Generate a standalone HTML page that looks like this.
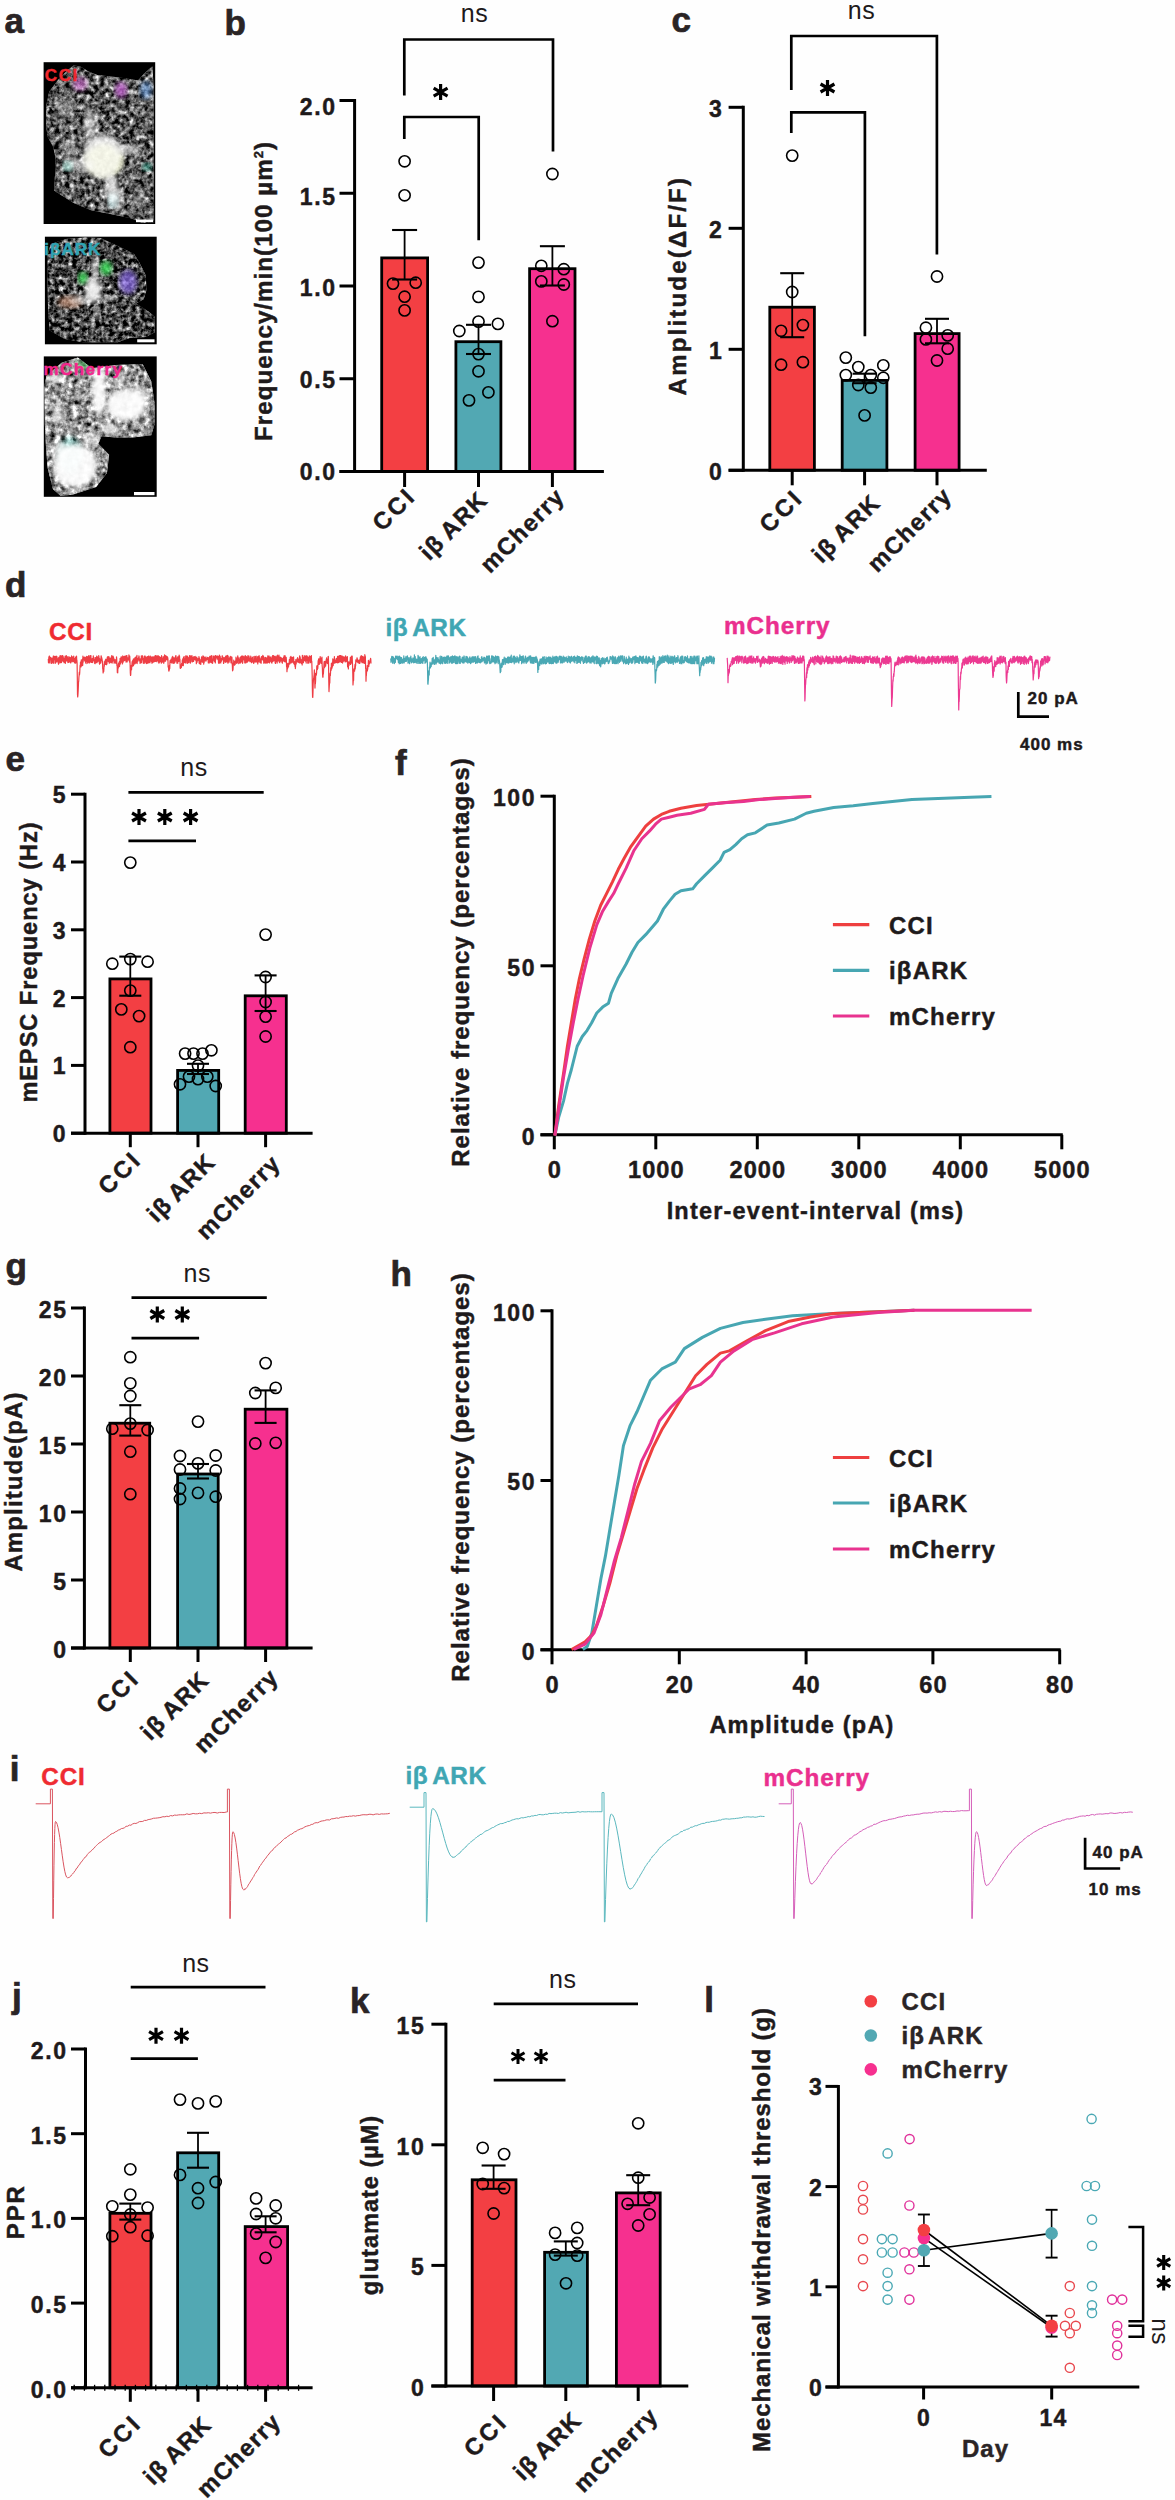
<!DOCTYPE html><html><head><meta charset="utf-8"><style>html,body{margin:0;padding:0;background:#fff;}svg{display:block;font-family:"Liberation Sans", sans-serif;}</style></head><body>
<svg width="1175" height="2500" viewBox="0 0 1175 2500">
<rect width="1175" height="2500" fill="#fefefe"/>
<defs>
<filter id="noise1" x="0" y="0" width="100%" height="100%" filterUnits="objectBoundingBox" color-interpolation-filters="sRGB"><feTurbulence type="fractalNoise" baseFrequency="0.2" numOctaves="3" seed="7" result="t"/><feColorMatrix in="t" type="matrix" values="0.33 0.33 0.33 0 0  0.33 0.33 0.33 0 0  0.33 0.33 0.33 0 0  0 0 0 0 1"/><feComponentTransfer><feFuncR type="linear" slope="3" intercept="-1.12"/><feFuncG type="linear" slope="3" intercept="-1.12"/><feFuncB type="linear" slope="3" intercept="-1.12"/></feComponentTransfer></filter>
<filter id="noise2" x="0" y="0" width="100%" height="100%" filterUnits="objectBoundingBox" color-interpolation-filters="sRGB"><feTurbulence type="fractalNoise" baseFrequency="0.22" numOctaves="3" seed="14" result="t"/><feColorMatrix in="t" type="matrix" values="0.33 0.33 0.33 0 0  0.33 0.33 0.33 0 0  0.33 0.33 0.33 0 0  0 0 0 0 1"/><feComponentTransfer><feFuncR type="linear" slope="3" intercept="-1.2"/><feFuncG type="linear" slope="3" intercept="-1.2"/><feFuncB type="linear" slope="3" intercept="-1.2"/></feComponentTransfer></filter>
<filter id="noise3" x="0" y="0" width="100%" height="100%" filterUnits="objectBoundingBox" color-interpolation-filters="sRGB"><feTurbulence type="fractalNoise" baseFrequency="0.18" numOctaves="3" seed="21" result="t"/><feColorMatrix in="t" type="matrix" values="0.33 0.33 0.33 0 0  0.33 0.33 0.33 0 0  0.33 0.33 0.33 0 0  0 0 0 0 1"/><feComponentTransfer><feFuncR type="linear" slope="2.9" intercept="-0.85"/><feFuncG type="linear" slope="2.9" intercept="-0.85"/><feFuncB type="linear" slope="2.9" intercept="-0.85"/></feComponentTransfer></filter>
<filter id="blur2" color-interpolation-filters="sRGB"><feGaussianBlur stdDeviation="2.5"/></filter>
</defs>
<text x="4.5" y="32.5" text-anchor="start" fill="#2A2425" style="font-size:35px;font-weight:bold" stroke="#2A2425" stroke-width="0.7">a</text>
<rect x="43.6" y="62.2" width="111.6" height="161.8" fill="#000"/>
<clipPath id="clip1"><polygon points="49.19,91.77 58.39,79.51 66.56,71.34 73.71,65.21 80.86,66.75 88.01,71.34 97.2,74.92 111.5,76.45 126.82,78.49 138.06,80.54 144.19,73.39 152.36,66.24 153.59,85.64 153.59,157.15 153.59,223.03 142.15,223.03 131.93,218.43 111.5,214.35 91.07,210.26 73.71,203.11 54.3,190.85 54.81,177.57 55.83,167.36 55.32,157.15 53.28,146.93 47.66,136.72 46.13,126.5 46.13,106.07"/></clipPath>
<g clip-path="url(#clip1)">
<rect x="43.6" y="62.2" width="111.6" height="161.8" fill="#777"/>
<rect x="43.6" y="62.2" width="111.6" height="161.8" filter="url(#noise1)"/>
<ellipse cx="104" cy="160" rx="18" ry="16" fill="#e6f060" opacity="0.6" filter="url(#blur2)"/>
<ellipse cx="80" cy="84" rx="7" ry="7" fill="#e070e0" opacity="0.6" filter="url(#blur2)"/>
<ellipse cx="121" cy="90" rx="6" ry="8" fill="#d060e0" opacity="0.7" filter="url(#blur2)"/>
<ellipse cx="146" cy="90" rx="6" ry="9" fill="#70a8ee" opacity="0.6" filter="url(#blur2)"/>
<ellipse cx="68" cy="166" rx="5" ry="5" fill="#40e0c0" opacity="0.5" filter="url(#blur2)"/>
<ellipse cx="147" cy="167" rx="5" ry="4" fill="#40e0c0" opacity="0.5" filter="url(#blur2)"/>
<ellipse cx="113" cy="200" rx="5" ry="7" fill="#80e8f0" opacity="0.5" filter="url(#blur2)"/>
<ellipse cx="103" cy="157" rx="20" ry="22" fill="#fff" opacity="0.85" filter="url(#blur2)"/>
<ellipse cx="112" cy="190" rx="7" ry="16" fill="#fff" opacity="0.75" filter="url(#blur2)"/>
<ellipse cx="90" cy="125" rx="6" ry="16" fill="#fff" opacity="0.6" filter="url(#blur2)"/>
<ellipse cx="78" cy="165" rx="16" ry="6" fill="#fff" opacity="0.55" filter="url(#blur2)"/>
<ellipse cx="128" cy="150" rx="14" ry="5" fill="#fff" opacity="0.55" filter="url(#blur2)"/>
<ellipse cx="118" cy="200" rx="5" ry="10" fill="#fff" opacity="0.5" filter="url(#blur2)"/>
<ellipse cx="70" cy="150" rx="8" ry="12" fill="#fff" opacity="0.3" filter="url(#blur2)"/>
<ellipse cx="65" cy="110" rx="8" ry="10" fill="#fff" opacity="0.3" filter="url(#blur2)"/>
<ellipse cx="140" cy="200" rx="6" ry="8" fill="#fff" opacity="0.3" filter="url(#blur2)"/>
</g>
<rect x="136" y="219.5" width="17" height="2.7" fill="#fff"/>
<text x="44.8" y="80.8" text-anchor="start" fill="#F0282E" style="font-size:17px;font-weight:bold;letter-spacing:1.6px"  stroke="#F0282E" stroke-width="0.45">CCI</text>
<rect x="44.9" y="236.7" width="111.8" height="107.6" fill="#000"/>
<clipPath id="clip2"><polygon points="47.56,254.84 50.8,244.04 67,238.64 85.37,237.56 100.49,238.1 115.61,245.12 133.97,253.76 139.37,262.4 145.85,275.37 146.39,290.49 143.69,299.13 136.13,303.45 149.09,312.09 154.5,316.41 154.5,332.61 145.85,336.93 129.65,338.01 117.77,342.34 83.21,342.34 64.84,339.09 49.72,330.45 48.1,311.01 47.56,284.01"/></clipPath>
<g clip-path="url(#clip2)">
<rect x="44.9" y="236.7" width="111.8" height="107.6" fill="#6e6e6e"/>
<rect x="44.9" y="236.7" width="111.8" height="107.6" filter="url(#noise2)"/>
<ellipse cx="83" cy="278" rx="5" ry="6" fill="#40f060" opacity="0.8" filter="url(#blur2)"/>
<ellipse cx="106" cy="268" rx="6" ry="7" fill="#40f060" opacity="0.8" filter="url(#blur2)"/>
<ellipse cx="128" cy="282" rx="9" ry="12" fill="#9070f0" opacity="0.7" filter="url(#blur2)"/>
<ellipse cx="70" cy="302" rx="12" ry="6" fill="#e0a080" opacity="0.6" filter="url(#blur2)"/>
<ellipse cx="93" cy="290" rx="8" ry="12" fill="#fff" opacity="0.9" filter="url(#blur2)"/>
<ellipse cx="95" cy="268" rx="3" ry="12" fill="#fff" opacity="0.8" filter="url(#blur2)"/>
<ellipse cx="82" cy="300" rx="12" ry="4" fill="#fff" opacity="0.6" filter="url(#blur2)"/>
<ellipse cx="108" cy="298" rx="10" ry="3" fill="#fff" opacity="0.5" filter="url(#blur2)"/>
<ellipse cx="97" cy="312" rx="3" ry="8" fill="#fff" opacity="0.6" filter="url(#blur2)"/>
</g>
<rect x="137.2" y="339.3" width="17.3" height="3" fill="#fff"/>
<text x="44.3" y="255.4" text-anchor="start" fill="#2FA3B3" style="font-size:17px;font-weight:bold;letter-spacing:1px"  stroke="#2FA3B3" stroke-width="0.45">iβARK</text>
<rect x="43.8" y="356.4" width="112.9" height="140.4" fill="#000"/>
<clipPath id="clip3"><polygon points="44.32,386.62 46.48,375.82 61.6,362.86 77.81,357.46 91.85,368.26 115.61,365.02 142.61,363.94 151.26,381.22 154.5,402.82 154.5,424.43 151.26,435.23 132.89,437.39 115.61,437.39 101.57,436.31 98.33,443.87 109.13,454.67 106.97,473.03 96.17,487.07 72.4,494.64 60.52,495.72 52.96,489.24 47.56,467.63 45.94,446.03 44.86,424.43"/></clipPath>
<g clip-path="url(#clip3)">
<rect x="43.8" y="356.4" width="112.9" height="140.4" fill="#8a8a8a"/>
<rect x="43.8" y="356.4" width="112.9" height="140.4" filter="url(#noise3)"/>
<ellipse cx="70" cy="455" rx="12" ry="18" fill="#60f0e0" opacity="0.35" filter="url(#blur2)"/>
<ellipse cx="85" cy="365" rx="10" ry="5" fill="#40f060" opacity="0.4" filter="url(#blur2)"/>
<ellipse cx="126" cy="405" rx="20" ry="16" fill="#fff" opacity="0.95" filter="url(#blur2)"/>
<ellipse cx="99" cy="390" rx="7" ry="26" fill="#fff" opacity="0.95" filter="url(#blur2)"/>
<ellipse cx="75" cy="466" rx="22" ry="22" fill="#fff" opacity="0.95" filter="url(#blur2)"/>
<ellipse cx="55" cy="378" rx="10" ry="4" fill="#fff" opacity="0.85" filter="url(#blur2)"/>
<ellipse cx="58" cy="415" rx="6" ry="10" fill="#fff" opacity="0.6" filter="url(#blur2)"/>
<ellipse cx="140" cy="395" rx="8" ry="10" fill="#fff" opacity="0.6" filter="url(#blur2)"/>
<ellipse cx="110" cy="428" rx="8" ry="6" fill="#fff" opacity="0.7" filter="url(#blur2)"/>
<ellipse cx="92" cy="440" rx="10" ry="6" fill="#fff" opacity="0.6" filter="url(#blur2)"/>
<ellipse cx="60" cy="450" rx="8" ry="8" fill="#fff" opacity="0.7" filter="url(#blur2)"/>
<ellipse cx="120" cy="380" rx="6" ry="6" fill="#fff" opacity="0.5" filter="url(#blur2)"/>
</g>
<rect x="134" y="492" width="20.5" height="3.2" fill="#fff"/>
<text x="43.6" y="374.7" text-anchor="start" fill="#F2268C" style="font-size:17px;font-weight:bold;letter-spacing:1.4px"  stroke="#F2268C" stroke-width="0.45">mCherry</text>
<text x="224.5" y="35.3" text-anchor="start" fill="#2A2425" style="font-size:35px;font-weight:bold" stroke="#2A2425" stroke-width="0.7">b</text>
<line x1="354.6" y1="99" x2="354.6" y2="473" stroke="#000" stroke-width="3" stroke-linecap="butt"/>
<line x1="339.5" y1="100.5" x2="354.6" y2="100.5" stroke="#000" stroke-width="3" stroke-linecap="butt"/>
<line x1="339.5" y1="193.25" x2="354.6" y2="193.25" stroke="#000" stroke-width="3" stroke-linecap="butt"/>
<line x1="339.5" y1="286" x2="354.6" y2="286" stroke="#000" stroke-width="3" stroke-linecap="butt"/>
<line x1="339.5" y1="378.75" x2="354.6" y2="378.75" stroke="#000" stroke-width="3" stroke-linecap="butt"/>
<line x1="339.5" y1="471.5" x2="354.6" y2="471.5" stroke="#000" stroke-width="3" stroke-linecap="butt"/>
<text x="336.6" y="114.91" text-anchor="end" fill="#1E1A1B" style="font-size:23px;font-weight:bold;letter-spacing:1.6px"  stroke="#1E1A1B" stroke-width="0.45">2.0</text>
<text x="336.6" y="205.16" text-anchor="end" fill="#1E1A1B" style="font-size:23px;font-weight:bold;letter-spacing:1.6px"  stroke="#1E1A1B" stroke-width="0.45">1.5</text>
<text x="336.6" y="295.91" text-anchor="end" fill="#1E1A1B" style="font-size:23px;font-weight:bold;letter-spacing:1.6px"  stroke="#1E1A1B" stroke-width="0.45">1.0</text>
<text x="336.6" y="388.16" text-anchor="end" fill="#1E1A1B" style="font-size:23px;font-weight:bold;letter-spacing:1.6px"  stroke="#1E1A1B" stroke-width="0.45">0.5</text>
<text x="336.6" y="480.41" text-anchor="end" fill="#1E1A1B" style="font-size:23px;font-weight:bold;letter-spacing:1.6px"  stroke="#1E1A1B" stroke-width="0.45">0.0</text>
<rect x="381.7" y="257.9" width="45.9" height="213.6" fill="#F33F43" stroke="#000" stroke-width="2.8"/>
<rect x="455.9" y="341.7" width="45" height="129.8" fill="#52A8B3" stroke="#000" stroke-width="2.8"/>
<rect x="529.6" y="268.7" width="45.4" height="202.8" fill="#F6308F" stroke="#000" stroke-width="2.8"/>
<line x1="339.5" y1="471.5" x2="603.9" y2="471.5" stroke="#000" stroke-width="3" stroke-linecap="butt"/>
<line x1="404.6" y1="471.5" x2="404.6" y2="487" stroke="#000" stroke-width="3" stroke-linecap="butt"/>
<line x1="478.5" y1="471.5" x2="478.5" y2="487" stroke="#000" stroke-width="3" stroke-linecap="butt"/>
<line x1="552.4" y1="471.5" x2="552.4" y2="487" stroke="#000" stroke-width="3" stroke-linecap="butt"/>
<line x1="404.6" y1="230" x2="404.6" y2="279.5" stroke="#000" stroke-width="1.8" stroke-linecap="butt"/>
<line x1="392.1" y1="230" x2="417.1" y2="230" stroke="#000" stroke-width="2.1" stroke-linecap="butt"/>
<line x1="392.1" y1="279.5" x2="417.1" y2="279.5" stroke="#000" stroke-width="2.1" stroke-linecap="butt"/>
<line x1="478.5" y1="324.8" x2="478.5" y2="354" stroke="#000" stroke-width="1.8" stroke-linecap="butt"/>
<line x1="466" y1="324.8" x2="491" y2="324.8" stroke="#000" stroke-width="2.1" stroke-linecap="butt"/>
<line x1="466" y1="354" x2="491" y2="354" stroke="#000" stroke-width="2.1" stroke-linecap="butt"/>
<line x1="552.4" y1="246.2" x2="552.4" y2="285.5" stroke="#000" stroke-width="1.8" stroke-linecap="butt"/>
<line x1="539.9" y1="246.2" x2="564.9" y2="246.2" stroke="#000" stroke-width="2.1" stroke-linecap="butt"/>
<line x1="539.9" y1="285.5" x2="564.9" y2="285.5" stroke="#000" stroke-width="2.1" stroke-linecap="butt"/>
<circle cx="404.6" cy="161.3" r="5.6" fill="none" stroke="#000" stroke-width="1.6"/>
<circle cx="404.6" cy="195.3" r="5.6" fill="none" stroke="#000" stroke-width="1.6"/>
<circle cx="393" cy="283.6" r="5.6" fill="none" stroke="#000" stroke-width="1.6"/>
<circle cx="415.7" cy="282.7" r="5.6" fill="none" stroke="#000" stroke-width="1.6"/>
<circle cx="404.6" cy="296.7" r="5.6" fill="none" stroke="#000" stroke-width="1.6"/>
<circle cx="404.6" cy="310.4" r="5.6" fill="none" stroke="#000" stroke-width="1.6"/>
<circle cx="478.5" cy="262.6" r="5.6" fill="none" stroke="#000" stroke-width="1.6"/>
<circle cx="478.5" cy="296.9" r="5.6" fill="none" stroke="#000" stroke-width="1.6"/>
<circle cx="478.5" cy="321.6" r="5.6" fill="none" stroke="#000" stroke-width="1.6"/>
<circle cx="497.9" cy="323.9" r="5.6" fill="none" stroke="#000" stroke-width="1.6"/>
<circle cx="459.3" cy="331" r="5.6" fill="none" stroke="#000" stroke-width="1.6"/>
<circle cx="478.5" cy="354.1" r="5.6" fill="none" stroke="#000" stroke-width="1.6"/>
<circle cx="478.5" cy="371.3" r="5.6" fill="none" stroke="#000" stroke-width="1.6"/>
<circle cx="488.4" cy="392.3" r="5.6" fill="none" stroke="#000" stroke-width="1.6"/>
<circle cx="469" cy="400.4" r="5.6" fill="none" stroke="#000" stroke-width="1.6"/>
<circle cx="552.4" cy="174" r="5.6" fill="none" stroke="#000" stroke-width="1.6"/>
<circle cx="541.3" cy="265.8" r="5.6" fill="none" stroke="#000" stroke-width="1.6"/>
<circle cx="563.8" cy="269.2" r="5.6" fill="none" stroke="#000" stroke-width="1.6"/>
<circle cx="541.3" cy="281.4" r="5.6" fill="none" stroke="#000" stroke-width="1.6"/>
<circle cx="563.8" cy="284.5" r="5.6" fill="none" stroke="#000" stroke-width="1.6"/>
<circle cx="552.4" cy="321.2" r="5.6" fill="none" stroke="#000" stroke-width="1.6"/>
<polyline points="404.3,95.4 404.3,39.5 553,39.5 553,151.6" fill="none" stroke="#000" stroke-width="2.7" stroke-linejoin="miter" />
<polyline points="404.3,139 404.3,117 478.7,117 478.7,240.2" fill="none" stroke="#000" stroke-width="2.7" stroke-linejoin="miter" />
<text x="474.5" y="22.2" text-anchor="middle" fill="#1E1A1B" style="font-size:25px;font-weight:normal;letter-spacing:0.5px" >ns</text>
<path d="M440.6,84.1L440.6,100.1M433.67,88.1L447.53,96.1M433.67,96.1L447.53,88.1" stroke="#000" stroke-width="3.2" fill="none"/>
<text x="0" y="0" transform="translate(417.67,497.15) rotate(-45)" text-anchor="end" fill="#1E1A1B" style="font-size:23.9px;font-weight:bold;letter-spacing:3px"  stroke="#1E1A1B" stroke-width="0.45">CCI</text>
<text x="0" y="0" transform="translate(489.31,501.41) rotate(-45)" text-anchor="end" fill="#1E1A1B" style="font-size:23.9px;font-weight:bold;letter-spacing:1.4px"  stroke="#1E1A1B" stroke-width="0.45">iβ<tspan dx="-3"> </tspan>ARK</text>
<text x="0" y="0" transform="translate(566.21,497.91) rotate(-45)" text-anchor="end" fill="#1E1A1B" style="font-size:23.9px;font-weight:bold;letter-spacing:1.37px"  stroke="#1E1A1B" stroke-width="0.45">mCherry</text>
<text x="0" y="0" transform="translate(272,291) rotate(-90)" text-anchor="middle" fill="#1E1A1B" style="font-size:24.2px;font-weight:bold;letter-spacing:1px"  stroke="#1E1A1B" stroke-width="0.45">Frequency/min(100 µm<tspan dy="-9" style="font-size:13px">2</tspan><tspan dy="9">)</tspan></text>
<text x="671.5" y="31.6" text-anchor="start" fill="#2A2425" style="font-size:35px;font-weight:bold" stroke="#2A2425" stroke-width="0.7">c</text>
<line x1="743.3" y1="105.8" x2="743.3" y2="471.8" stroke="#000" stroke-width="3" stroke-linecap="butt"/>
<line x1="728.6" y1="107.3" x2="743.3" y2="107.3" stroke="#000" stroke-width="3" stroke-linecap="butt"/>
<line x1="728.6" y1="228.3" x2="743.3" y2="228.3" stroke="#000" stroke-width="3" stroke-linecap="butt"/>
<line x1="728.6" y1="349.3" x2="743.3" y2="349.3" stroke="#000" stroke-width="3" stroke-linecap="butt"/>
<line x1="728.6" y1="470.3" x2="743.3" y2="470.3" stroke="#000" stroke-width="3" stroke-linecap="butt"/>
<text x="723.4" y="116.51" text-anchor="end" fill="#1E1A1B" style="font-size:23px;font-weight:bold;letter-spacing:1.6px"  stroke="#1E1A1B" stroke-width="0.45">3</text>
<text x="723.4" y="237.51" text-anchor="end" fill="#1E1A1B" style="font-size:23px;font-weight:bold;letter-spacing:1.6px"  stroke="#1E1A1B" stroke-width="0.45">2</text>
<text x="723.4" y="358.51" text-anchor="end" fill="#1E1A1B" style="font-size:23px;font-weight:bold;letter-spacing:1.6px"  stroke="#1E1A1B" stroke-width="0.45">1</text>
<text x="723.4" y="479.51" text-anchor="end" fill="#1E1A1B" style="font-size:23px;font-weight:bold;letter-spacing:1.6px"  stroke="#1E1A1B" stroke-width="0.45">0</text>
<rect x="769.8" y="307.2" width="44.6" height="163.1" fill="#F33F43" stroke="#000" stroke-width="2.8"/>
<rect x="842.2" y="380.4" width="44.7" height="89.9" fill="#52A8B3" stroke="#000" stroke-width="2.8"/>
<rect x="915.1" y="333.6" width="44" height="136.7" fill="#F6308F" stroke="#000" stroke-width="2.8"/>
<line x1="728.6" y1="470.3" x2="986.8" y2="470.3" stroke="#000" stroke-width="3" stroke-linecap="butt"/>
<line x1="792.2" y1="470.3" x2="792.2" y2="485.3" stroke="#000" stroke-width="3" stroke-linecap="butt"/>
<line x1="864.6" y1="470.3" x2="864.6" y2="485.3" stroke="#000" stroke-width="3" stroke-linecap="butt"/>
<line x1="937" y1="470.3" x2="937" y2="485.3" stroke="#000" stroke-width="3" stroke-linecap="butt"/>
<line x1="792.2" y1="273.2" x2="792.2" y2="337.2" stroke="#000" stroke-width="1.8" stroke-linecap="butt"/>
<line x1="780.2" y1="273.2" x2="804.2" y2="273.2" stroke="#000" stroke-width="2.1" stroke-linecap="butt"/>
<line x1="780.2" y1="337.2" x2="804.2" y2="337.2" stroke="#000" stroke-width="2.1" stroke-linecap="butt"/>
<line x1="864.6" y1="373.7" x2="864.6" y2="383.2" stroke="#000" stroke-width="1.8" stroke-linecap="butt"/>
<line x1="852.6" y1="373.7" x2="876.6" y2="373.7" stroke="#000" stroke-width="2.1" stroke-linecap="butt"/>
<line x1="852.6" y1="383.2" x2="876.6" y2="383.2" stroke="#000" stroke-width="2.1" stroke-linecap="butt"/>
<line x1="937" y1="318.8" x2="937" y2="343.3" stroke="#000" stroke-width="1.8" stroke-linecap="butt"/>
<line x1="925" y1="318.8" x2="949" y2="318.8" stroke="#000" stroke-width="2.1" stroke-linecap="butt"/>
<line x1="925" y1="343.3" x2="949" y2="343.3" stroke="#000" stroke-width="2.1" stroke-linecap="butt"/>
<circle cx="792.2" cy="155.6" r="5.6" fill="none" stroke="#000" stroke-width="1.6"/>
<circle cx="792.2" cy="292" r="5.6" fill="none" stroke="#000" stroke-width="1.6"/>
<circle cx="781.1" cy="330.8" r="5.6" fill="none" stroke="#000" stroke-width="1.6"/>
<circle cx="802.9" cy="325.1" r="5.6" fill="none" stroke="#000" stroke-width="1.6"/>
<circle cx="781.1" cy="364.7" r="5.6" fill="none" stroke="#000" stroke-width="1.6"/>
<circle cx="802.9" cy="362.2" r="5.6" fill="none" stroke="#000" stroke-width="1.6"/>
<circle cx="845.8" cy="357.6" r="5.6" fill="none" stroke="#000" stroke-width="1.6"/>
<circle cx="858.3" cy="367.1" r="5.6" fill="none" stroke="#000" stroke-width="1.6"/>
<circle cx="883.3" cy="365.3" r="5.6" fill="none" stroke="#000" stroke-width="1.6"/>
<circle cx="845.8" cy="375.1" r="5.6" fill="none" stroke="#000" stroke-width="1.6"/>
<circle cx="870.8" cy="375.1" r="5.6" fill="none" stroke="#000" stroke-width="1.6"/>
<circle cx="883.3" cy="377.8" r="5.6" fill="none" stroke="#000" stroke-width="1.6"/>
<circle cx="858.3" cy="385" r="5.6" fill="none" stroke="#000" stroke-width="1.6"/>
<circle cx="870.8" cy="387.6" r="5.6" fill="none" stroke="#000" stroke-width="1.6"/>
<circle cx="864.6" cy="415.4" r="5.6" fill="none" stroke="#000" stroke-width="1.6"/>
<circle cx="937" cy="276.5" r="5.6" fill="none" stroke="#000" stroke-width="1.6"/>
<circle cx="925.9" cy="327.7" r="5.6" fill="none" stroke="#000" stroke-width="1.6"/>
<circle cx="947.7" cy="335.4" r="5.6" fill="none" stroke="#000" stroke-width="1.6"/>
<circle cx="925.9" cy="339.4" r="5.6" fill="none" stroke="#000" stroke-width="1.6"/>
<circle cx="947.7" cy="348.7" r="5.6" fill="none" stroke="#000" stroke-width="1.6"/>
<circle cx="937" cy="360.5" r="5.6" fill="none" stroke="#000" stroke-width="1.6"/>
<polyline points="791.3,90 791.3,36 936.9,36 936.9,254.5" fill="none" stroke="#000" stroke-width="2.7" stroke-linejoin="miter" />
<polyline points="791.3,133 791.3,112.4 864.9,112.4 864.9,336.3" fill="none" stroke="#000" stroke-width="2.7" stroke-linejoin="miter" />
<text x="861.5" y="19.2" text-anchor="middle" fill="#1E1A1B" style="font-size:25px;font-weight:normal;letter-spacing:0.5px" >ns</text>
<path d="M827.5,80L827.5,96M820.57,84L834.43,92M820.57,92L834.43,84" stroke="#000" stroke-width="3.2" fill="none"/>
<text x="0" y="0" transform="translate(804.77,498.85) rotate(-45)" text-anchor="end" fill="#1E1A1B" style="font-size:23.9px;font-weight:bold;letter-spacing:3px"  stroke="#1E1A1B" stroke-width="0.45">CCI</text>
<text x="0" y="0" transform="translate(881.91,504.21) rotate(-45)" text-anchor="end" fill="#1E1A1B" style="font-size:23.9px;font-weight:bold;letter-spacing:1.4px"  stroke="#1E1A1B" stroke-width="0.45">iβ<tspan dx="-3"> </tspan>ARK</text>
<text x="0" y="0" transform="translate(953.41,497.11) rotate(-45)" text-anchor="end" fill="#1E1A1B" style="font-size:23.9px;font-weight:bold;letter-spacing:1.37px"  stroke="#1E1A1B" stroke-width="0.45">mCherry</text>
<text x="0" y="0" transform="translate(686,285.6) rotate(-90)" text-anchor="middle" fill="#1E1A1B" style="font-size:24px;font-weight:bold;letter-spacing:2.2px"  stroke="#1E1A1B" stroke-width="0.45">Amplitude(ΔF/F)</text>
<text x="5" y="597" text-anchor="start" fill="#2A2425" style="font-size:35px;font-weight:bold" stroke="#2A2425" stroke-width="0.7">d</text>
<text x="48.9" y="640" text-anchor="start" fill="#EF2B31" style="font-size:24.3px;font-weight:bold;letter-spacing:0.8px"  stroke="#EF2B31" stroke-width="0.45">CCI</text>
<text x="385.5" y="636" text-anchor="start" fill="#3FA6B3" style="font-size:24.3px;font-weight:bold;letter-spacing:0.6px"  stroke="#3FA6B3" stroke-width="0.45">iβ<tspan dx="-3.5"> </tspan>ARK</text>
<text x="724" y="633.6" text-anchor="start" fill="#EA2F8E" style="font-size:24.3px;font-weight:bold;letter-spacing:0.95px"  stroke="#EA2F8E" stroke-width="0.45">mCherry</text>
<polyline points="48.3,659.02 48.5,662.79 48.7,659.46 48.9,656.88 49.1,660.44 49.3,656.15 49.5,656.13 49.7,662.39 49.9,663.12 50.1,658.87 50.3,658.7 50.5,657.23 50.7,658.92 50.9,659.55 51.1,659.4 51.3,659.06 51.5,663.38 51.7,662.12 51.9,657.92 52.1,658.51 52.3,658.6 52.5,658.49 52.7,661.31 52.9,662.68 53.1,663.24 53.3,655.98 53.5,661.63 53.7,656.1 53.9,663.11 54.1,656.34 54.3,657.1 54.5,656.82 54.7,659.68 54.9,656.45 55.1,656.33 55.3,657.1 55.5,663.17 55.7,657.83 55.9,657.09 56.1,662.24 56.3,656.2 56.5,657.11 56.7,661.58 56.9,656.54 57.1,660.06 57.3,660.21 57.5,659.03 57.7,659.27 57.9,661.29 58.1,662.67 58.3,658.11 58.5,664.27 58.7,662.46 58.9,657.39 59.1,663.1 59.3,661.04 59.5,661.99 59.7,658.41 59.9,655.95 60.1,659.87 60.3,660.31 60.5,662.74 60.7,655.53 60.9,657.99 61.1,658.35 61.3,656.45 61.5,662.53 61.7,660.66 61.9,658.68 62.1,655.54 62.3,661.01 62.5,655.57 62.7,659.26 62.9,657.95 63.1,656 63.3,661.3 63.5,661.3 63.7,661.75 63.9,658.21 64.1,662.61 64.3,658.74 64.51,662.31 64.71,660.4 64.91,660.06 65.11,656.04 65.31,663.35 65.51,661.23 65.71,661.28 65.91,658.92 66.11,656.07 66.31,655.64 66.51,659.25 66.71,660.99 66.91,660.32 67.11,656.85 67.31,660.83 67.51,656.76 67.71,660.68 67.91,662.53 68.11,660.52 68.31,661.85 68.51,662.44 68.71,660.06 68.91,656.49 69.11,662.1 69.31,661.09 69.51,657.47 69.71,657.6 69.91,658.71 70.11,659.35 70.31,662.11 70.51,657.61 70.71,663.01 70.91,659.96 71.11,660.64 71.31,660.03 71.51,655.94 71.71,660.43 71.91,660.44 72.11,661.86 72.31,660.8 72.51,656.75 72.71,660.43 72.91,658.17 73.11,659.56 73.31,661.45 73.51,661.74 73.71,656.1 73.91,661.04 74.11,660.4 74.31,658.41 74.51,662.43 74.71,662.95 74.91,660.61 75.11,661.18 75.31,660.53 75.51,657.11 75.71,663.24 75.91,659.7 76.11,657.96 76.31,662.25 76.51,656.06 76.71,659.8 76.91,660.23 77.11,663.17 77.31,677.38 77.51,694.59 77.71,696.9 77.91,695.09 78.11,692.06 78.31,687.83 78.51,682.27 78.71,681.23 78.91,677.23 79.11,675.45 79.31,672.19 79.51,674.73 79.71,672.91 79.91,669.04 80.11,665.34 80.31,666.78 80.51,662.11 80.71,665.25 80.91,666.86 81.11,663.79 81.31,659.86 81.51,662.18 81.71,665.85 81.91,661.69 82.11,664.31 82.31,661.32 82.51,658.79 82.71,665.28 82.91,656.21 83.11,662.17 83.31,659.37 83.51,657.23 83.71,657.26 83.91,658.27 84.11,659.58 84.31,659.31 84.51,657.21 84.71,660.92 84.91,660.05 85.11,660.66 85.31,657.58 85.51,662.17 85.71,658.18 85.91,663 86.11,663.58 86.31,656.64 86.51,661.37 86.71,656.31 86.91,658.89 87.11,656.51 87.31,660.08 87.51,660.94 87.71,663.24 87.91,661.53 88.11,659.65 88.31,656.45 88.51,659.56 88.71,655.72 88.91,662.16 89.11,661.53 89.31,663.04 89.51,661.54 89.71,659.16 89.91,658.86 90.11,655.52 90.31,662.03 90.51,661.33 90.71,657.01 90.91,655.53 91.11,661.82 91.31,662.29 91.51,658.64 91.71,659.44 91.91,661.84 92.11,662.69 92.31,661.63 92.51,658.65 92.71,662.44 92.91,661.54 93.11,658.65 93.31,655.97 93.51,658.72 93.71,660.51 93.91,657.26 94.11,660.73 94.31,660.68 94.51,659.67 94.71,663.4 94.91,661.01 95.11,663.59 95.31,661.31 95.51,657.7 95.71,657.66 95.91,662.65 96.11,659.46 96.31,659.94 96.51,660.5 96.72,656.01 96.92,662.76 97.12,656.68 97.32,656.75 97.52,661.63 97.72,658.77 97.92,660.18 98.12,657.69 98.32,659.89 98.52,661.13 98.72,655.51 98.92,656.51 99.12,658.52 99.32,662.85 99.52,664.17 99.72,658.84 99.92,663.19 100.12,659.59 100.32,661.18 100.52,663.23 100.72,660.6 100.92,659.05 101.12,655.82 101.32,656.39 101.52,660.74 101.72,657.5 101.92,658.76 102.12,659.65 102.32,663.02 102.52,661.02 102.72,668.54 102.92,669.47 103.12,672.96 103.32,670.8 103.52,670.08 103.72,671.54 103.92,668.44 104.12,664.03 104.32,666.22 104.52,661.54 104.72,664.25 104.92,662.31 105.12,660.55 105.32,664.41 105.52,659.62 105.72,662.77 105.92,659.2 106.12,659.32 106.32,659.99 106.52,664.76 106.72,661.06 106.92,663.89 107.12,660.47 107.32,657.1 107.52,660.05 107.72,658.47 107.92,656.61 108.12,660.64 108.32,661.67 108.52,657.65 108.72,661.57 108.92,656.66 109.12,660.24 109.32,663.17 109.52,659.12 109.72,658.03 109.92,658.77 110.12,662.71 110.32,658.43 110.52,658.42 110.72,658.8 110.92,661.87 111.12,662.17 111.32,656.88 111.52,662.51 111.72,655.63 111.92,659.8 112.12,663.17 112.32,662.01 112.52,660.48 112.72,661.33 112.92,656.1 113.12,656.57 113.32,660.61 113.52,657.18 113.72,659.59 113.92,658.57 114.12,663.16 114.32,659.36 114.52,661.18 114.72,662.73 114.92,662.02 115.12,662.23 115.32,662.08 115.52,663.07 115.72,659.6 115.92,661.82 116.12,659.49 116.32,663.33 116.52,656.74 116.72,658.8 116.92,665.42 117.12,663.82 117.32,672.46 117.52,672.05 117.72,672.95 117.92,666.98 118.12,666.2 118.32,668.03 118.52,663.83 118.72,662.91 118.92,663.3 119.12,666.71 119.32,661.7 119.52,666.43 119.72,663.06 119.92,662.16 120.12,658.35 120.32,664.07 120.52,661.61 120.72,659.35 120.92,662.21 121.12,656.85 121.32,659.58 121.52,662.17 121.72,657.06 121.92,658.3 122.12,660.26 122.32,663.99 122.52,661.06 122.72,655.91 122.92,662.61 123.12,656.45 123.32,661.42 123.52,659.45 123.72,660.36 123.92,658.07 124.12,658.95 124.32,656.31 124.52,657.23 124.72,660.75 124.92,658.02 125.12,656.12 125.32,659.24 125.52,658.36 125.72,656.32 125.92,659.16 126.12,662.1 126.32,655.55 126.52,661.13 126.72,659.95 126.92,655.52 127.12,661.83 127.32,660.36 127.52,658.43 127.72,657.81 127.92,658.56 128.12,658.16 128.32,658.05 128.52,659.92 128.72,658.07 128.92,654.93 129.13,660.83 129.33,656.85 129.53,662.1 129.73,656.13 129.93,659.72 130.13,664.66 130.33,672.83 130.53,675.37 130.73,675.03 130.93,669.57 131.13,665.69 131.33,669.97 131.53,669.64 131.73,666.75 131.93,664.3 132.13,661.69 132.33,664.28 132.53,666.24 132.73,660.41 132.93,665.92 133.13,661.13 133.33,659.1 133.53,665.56 133.73,663.12 133.93,658.74 134.13,660.73 134.33,658.73 134.53,662.19 134.73,663.9 134.93,661.47 135.13,657.32 135.33,660.48 135.53,660.53 135.73,663.25 135.93,662.45 136.13,656.83 136.33,658.1 136.53,657.67 136.73,662.5 136.93,655.32 137.13,663.53 137.33,660.88 137.53,660.96 137.73,658.62 137.93,661.07 138.13,658.93 138.33,660.13 138.53,657.61 138.73,658.14 138.93,655.78 139.13,656.63 139.33,660.26 139.53,658.74 139.73,660.96 139.93,661.46 140.13,663.39 140.33,662.27 140.53,658.9 140.73,662.67 140.93,659.62 141.13,662.65 141.33,655.85 141.53,662.62 141.73,660.19 141.93,657.85 142.13,655.81 142.33,659.43 142.53,655.82 142.73,659.62 142.93,657.86 143.13,658.53 143.33,663.14 143.53,662.34 143.73,661.85 143.93,661.38 144.13,663.51 144.33,656.39 144.53,662.24 144.73,657.8 144.93,655.9 145.13,661.93 145.33,658.25 145.53,656.96 145.73,657.86 145.93,662.87 146.13,659.18 146.33,657.76 146.53,663.59 146.73,658.23 146.93,656.78 147.13,663.36 147.33,661.6 147.53,656.48 147.73,657.9 147.93,662.36 148.13,656.48 148.33,662.9 148.53,656.03 148.73,657.86 148.93,656.18 149.13,660.72 149.33,658.38 149.53,662.48 149.73,657.23 149.93,662.81 150.13,657.61 150.33,656.12 150.53,658.92 150.73,659.95 150.93,657.68 151.13,661.18 151.33,661.45 151.53,657.63 151.73,656.89 151.93,663.19 152.13,661.4 152.33,662.83 152.53,656.84 152.73,660.56 152.93,660.67 153.13,659.53 153.33,662.16 153.53,659.56 153.73,656.79 153.93,656.72 154.13,657.28 154.33,661.58 154.53,661.73 154.73,659.31 154.93,660.04 155.13,655.68 155.33,661.12 155.53,661.34 155.73,655.54 155.93,658.88 156.13,657.5 156.33,655.98 156.53,659.95 156.73,661.73 156.93,656.57 157.13,655.74 157.33,660.37 157.53,657.52 157.73,656.11 157.93,656.77 158.13,656.68 158.33,662.05 158.53,655.89 158.73,658.32 158.93,663.13 159.13,661.49 159.33,656.56 159.53,660.58 159.73,662.2 159.93,657.78 160.13,657.5 160.33,661.51 160.53,657.24 160.73,659.82 160.93,659.09 161.13,658.31 161.34,663.25 161.54,655.72 161.74,660.13 161.94,660.96 162.14,660.13 162.34,659.1 162.54,662.14 162.74,661.65 162.94,658.33 163.14,656.71 163.34,657.12 163.54,657.87 163.74,663.35 163.94,662.3 164.14,659.04 164.34,658.3 164.54,654.84 164.74,658.54 164.94,661.12 165.14,659.6 165.34,658.28 165.54,661.19 165.74,655.56 165.94,659.62 166.14,658 166.34,659.24 166.54,656.26 166.74,659.6 166.94,658.79 167.14,656.49 167.34,657.48 167.54,659.84 167.74,657.64 167.94,659.38 168.14,667.07 168.34,666.48 168.54,667.42 168.74,670.79 168.94,671 169.14,665.84 169.34,669.86 169.54,667.19 169.74,668.58 169.94,662.16 170.14,660.43 170.34,661.99 170.54,661.38 170.74,660.31 170.94,662.31 171.14,659.15 171.34,661.06 171.54,662.81 171.74,662.26 171.94,659.43 172.14,657.07 172.34,661.18 172.54,658.97 172.74,656.44 172.94,663.28 173.14,658.16 173.34,657.47 173.54,660.84 173.74,658.76 173.94,663.34 174.14,660.77 174.34,659 174.54,657.88 174.74,662.68 174.94,661.8 175.14,659.65 175.34,658.45 175.54,655.93 175.74,660.97 175.94,655.52 176.14,658.65 176.34,659.44 176.54,659.86 176.74,659.96 176.94,663.21 177.14,658.23 177.34,657.95 177.54,661.01 177.74,663.15 177.94,656.71 178.14,659.35 178.34,658.38 178.54,661.41 178.74,657.32 178.94,658.06 179.14,655.13 179.34,656.23 179.54,656.31 179.74,661.59 179.94,659.06 180.14,667.31 180.34,668.48 180.54,667.7 180.74,665.5 180.94,665.15 181.14,667.77 181.34,667.59 181.54,663.67 181.74,664.71 181.94,665.26 182.14,664.12 182.34,660.11 182.54,665.55 182.74,658.79 182.94,660.8 183.14,660.38 183.34,665.54 183.54,657.11 183.74,662.49 183.94,657.45 184.14,656.58 184.34,660.12 184.54,658.63 184.74,662.77 184.94,659.12 185.14,662.04 185.34,658.97 185.54,660.17 185.74,655.75 185.94,663.18 186.14,659.05 186.34,655.8 186.54,656.76 186.74,657.78 186.94,659.43 187.14,656.32 187.34,662.67 187.54,656.09 187.74,663.48 187.94,662.43 188.14,658.8 188.34,658.79 188.54,660.72 188.74,657.67 188.94,662.36 189.14,658.99 189.34,659.82 189.54,655.51 189.74,658.3 189.94,657.91 190.14,655.51 190.34,663.18 190.54,661.9 190.74,661.3 190.94,661.84 191.14,661.55 191.34,656.22 191.54,658.63 191.74,657.41 191.94,655.6 192.14,657.22 192.34,658.36 192.54,661.89 192.74,660.51 192.94,657.64 193.14,657.48 193.34,661.34 193.55,661.35 193.75,659.66 193.95,656.55 194.15,658.86 194.35,658.63 194.55,659.7 194.75,657.04 194.95,657.97 195.15,656.27 195.35,658.84 195.55,657.16 195.75,660.37 195.95,660.82 196.15,657.55 196.35,663.72 196.55,658.43 196.75,657.1 196.95,662.5 197.15,660.43 197.35,660.95 197.55,660.92 197.75,660.72 197.95,658.48 198.15,660.21 198.35,659.9 198.55,658.97 198.75,660.16 198.95,656.62 199.15,663.34 199.35,657.9 199.55,663.32 199.75,663.81 199.95,659.33 200.15,662.12 200.35,662.9 200.55,661.78 200.75,664.46 200.95,661.09 201.15,661.86 201.35,659.69 201.55,656.97 201.75,660.71 201.95,661.7 202.15,657.33 202.35,662.24 202.55,659.79 202.75,661.37 202.95,655.74 203.15,662.32 203.35,656.01 203.55,662.19 203.75,664.08 203.95,657.05 204.15,662.41 204.35,656.98 204.55,658.36 204.75,657.92 204.95,657.63 205.15,659.84 205.35,660.95 205.55,657.76 205.75,660.28 205.95,656.97 206.15,660.93 206.35,658.28 206.55,659.06 206.75,658.8 206.95,658.67 207.15,659.45 207.35,658.17 207.55,657.28 207.75,657.68 207.95,657.69 208.15,660.81 208.35,662.87 208.55,661.35 208.75,658.74 208.95,657.65 209.15,663.04 209.35,660.96 209.55,657.36 209.75,656.46 209.95,657.41 210.15,658.13 210.35,662.2 210.55,660.96 210.75,656.11 210.95,658.4 211.15,660.75 211.35,662.58 211.55,655.59 211.75,659.15 211.95,659.12 212.15,660.77 212.35,663.16 212.55,663.34 212.75,662.03 212.95,661.01 213.15,655.93 213.35,658.61 213.55,657.14 213.75,657.08 213.95,656.54 214.15,660.34 214.35,660.59 214.55,661.34 214.75,661.89 214.95,661.51 215.15,655.53 215.35,662.96 215.55,655.59 215.75,659.69 215.95,656.29 216.15,657.81 216.35,656.4 216.55,656.47 216.75,657.75 216.95,657.37 217.15,655.83 217.35,659.01 217.55,659.08 217.75,656.23 217.95,656.64 218.15,659.6 218.35,660.3 218.55,663.11 218.75,656.44 218.95,661.28 219.15,656.65 219.35,655.03 219.55,663.13 219.75,661.93 219.95,656.03 220.15,656.29 220.35,658.03 220.55,660.63 220.75,662.97 220.95,659.41 221.15,658.56 221.35,661.31 221.55,658.34 221.75,659.21 221.95,658.84 222.15,655.8 222.35,655.89 222.55,659.78 222.75,656.8 222.95,657.92 223.15,657.24 223.35,659.02 223.55,663.41 223.75,663.09 223.95,660.18 224.15,657.81 224.35,660.12 224.55,659.38 224.75,660.21 224.95,657.42 225.15,661.77 225.35,662.28 225.55,657.69 225.75,656.08 225.96,662.05 226.16,657.94 226.36,661.71 226.56,655.85 226.76,655.78 226.96,659.82 227.16,661.81 227.36,661.42 227.56,655.44 227.76,658.75 227.96,663.27 228.16,656 228.36,658.92 228.56,658.42 228.76,658.35 228.96,660.13 229.16,662.07 229.36,658.64 229.56,657.88 229.76,659.88 229.96,657.09 230.16,659.69 230.36,656.39 230.56,658.97 230.76,658.42 230.96,662.83 231.16,660.92 231.36,662.36 231.56,656.73 231.76,657.02 231.96,657.56 232.16,663.99 232.36,665.36 232.56,670.82 232.76,667.73 232.96,670.01 233.16,666.95 233.36,662.76 233.56,664.65 233.76,660.01 233.96,662.04 234.16,662.06 234.36,662.69 234.56,665.16 234.76,661.49 234.96,662.78 235.16,664.48 235.36,661.45 235.56,660.75 235.76,662.69 235.96,657.22 236.16,658.17 236.36,661.88 236.56,660.77 236.76,663.42 236.96,658.87 237.16,661.64 237.36,662.69 237.56,657.9 237.76,655.9 237.96,657.73 238.16,657.64 238.36,657.81 238.56,657.82 238.76,663.65 238.96,662.4 239.16,659.89 239.36,659.8 239.56,662.86 239.76,658.89 239.96,658.39 240.16,657.34 240.36,658.43 240.56,663.01 240.76,659.98 240.96,657.3 241.16,656.32 241.36,661.9 241.56,656.25 241.76,656.39 241.96,657.9 242.16,655.91 242.36,656.17 242.56,663.28 242.76,662.26 242.96,659.66 243.16,656.89 243.36,658.24 243.56,656.99 243.76,658.75 243.96,656.04 244.16,659.87 244.36,659.3 244.56,658.09 244.76,662.92 244.96,663 245.16,662.27 245.36,655.56 245.56,660.13 245.76,660.3 245.96,662.93 246.16,661.91 246.36,662.35 246.56,656.58 246.76,660.91 246.96,660.04 247.16,660.57 247.36,661.75 247.56,662.07 247.76,658.08 247.96,655.52 248.16,657.5 248.36,659.61 248.56,660.8 248.76,657.28 248.96,656.07 249.16,659.23 249.36,658.06 249.56,660.64 249.76,659.58 249.96,661.61 250.16,657.81 250.36,661.21 250.56,661.72 250.76,656.03 250.96,657.36 251.16,658.71 251.36,658.37 251.56,662.69 251.76,659.37 251.96,661.66 252.16,661.72 252.36,657.7 252.56,661.33 252.76,661.94 252.96,659.69 253.16,656.55 253.36,662.43 253.56,662.85 253.76,663.49 253.96,661.87 254.16,660.83 254.36,661.21 254.56,659.03 254.76,656.36 254.96,661.97 255.16,657.6 255.36,656.94 255.56,659.72 255.76,661.5 255.96,662.15 256.16,656.01 256.36,661.49 256.56,658.92 256.76,659.95 256.96,661.74 257.16,659.08 257.36,662.17 257.56,656.93 257.76,664.01 257.96,657.59 258.17,656.78 258.37,656.25 258.57,661.79 258.77,660.62 258.97,656.27 259.17,655.73 259.37,660.35 259.57,659.18 259.77,657.94 259.97,662.47 260.17,658.74 260.37,659.08 260.57,662.71 260.77,662.89 260.97,662.48 261.17,663.28 261.37,656.77 261.57,657.28 261.77,656.66 261.97,658.23 262.17,658.18 262.37,659.38 262.57,659.51 262.77,655.41 262.97,657.55 263.17,660.46 263.37,656.12 263.57,659.25 263.77,663.16 263.97,659.84 264.17,657.28 264.37,661.78 264.57,662.62 264.77,658.81 264.97,662.97 265.17,659.26 265.37,662.13 265.57,657.29 265.77,662.07 265.97,663.23 266.17,660.88 266.37,661.09 266.57,662.75 266.77,657.83 266.97,662.79 267.17,658.15 267.37,660.28 267.57,662.86 267.77,655.92 267.97,656.28 268.17,662.37 268.37,656.89 268.57,661.46 268.77,661.06 268.97,655.87 269.17,661.55 269.37,662.39 269.57,662.95 269.77,659.34 269.97,657.21 270.17,661.77 270.37,660.63 270.57,660.96 270.77,657.93 270.97,656.9 271.17,660.89 271.37,658.04 271.57,662.69 271.77,663.02 271.97,663.1 272.17,658.07 272.37,659.58 272.57,655.68 272.77,659.68 272.97,661.36 273.17,656.99 273.37,657.33 273.57,655.53 273.77,659.62 273.97,660.52 274.17,658.65 274.37,659.19 274.57,656.38 274.77,660.89 274.97,659.84 275.17,662.91 275.37,657.41 275.57,663.38 275.77,656.91 275.97,656.01 276.17,657.58 276.37,661.21 276.57,661.54 276.77,661.05 276.97,658.78 277.17,663.04 277.37,655.16 277.57,660.96 277.77,656.42 277.97,659.99 278.17,658.62 278.37,660.85 278.57,655.77 278.77,656.35 278.97,655.21 279.17,660.51 279.37,662.22 279.57,660.1 279.77,662.68 279.97,657.17 280.17,659.47 280.37,658.59 280.57,657.46 280.77,661.06 280.97,658.33 281.17,659.02 281.37,660.39 281.57,657.83 281.77,659.04 281.97,662.44 282.17,658.41 282.37,663.21 282.57,658.61 282.77,661.33 282.97,661.19 283.17,660.65 283.37,658.88 283.57,657.21 283.77,659.71 283.97,658.13 284.17,655.53 284.37,661.53 284.57,660.31 284.77,658.59 284.97,656.97 285.17,655.88 285.37,661.97 285.57,658.53 285.77,661.1 285.97,661.37 286.17,657.41 286.37,659.89 286.57,666.75 286.77,663.61 286.97,671.61 287.17,668.01 287.37,666.86 287.57,668.83 287.77,663.26 287.97,663.97 288.17,663.4 288.37,667.14 288.57,666.39 288.77,663.84 288.97,663.56 289.17,664.34 289.37,659.63 289.57,661.12 289.77,661.68 289.97,663.78 290.17,657.49 290.38,657.18 290.58,662.28 290.78,660.16 290.98,656.38 291.18,662.94 291.38,661.61 291.58,658.61 291.78,657.6 291.98,658.31 292.18,662.25 292.38,660.59 292.58,657.46 292.78,661.99 292.98,658.34 293.18,659.04 293.38,662.89 293.58,656.92 293.78,661.18 293.98,663.72 294.18,661.46 294.38,664.46 294.58,664.44 294.78,663.54 294.98,666.49 295.18,661.67 295.38,668.53 295.58,665.74 295.78,659.66 295.98,660.42 296.18,663.92 296.38,660.79 296.58,660.19 296.78,660.44 296.98,659.32 297.18,658.62 297.38,661.64 297.58,657.63 297.78,660.32 297.98,658.93 298.18,662.34 298.38,661.48 298.58,660.11 298.78,659.15 298.98,659.7 299.18,660.15 299.38,662.97 299.58,655.96 299.78,655.99 299.98,660.66 300.18,657.19 300.38,662.32 300.58,661.14 300.78,659.22 300.98,659.98 301.18,663.47 301.38,661.45 301.58,663.28 301.78,659.61 301.98,662.38 302.18,664.88 302.38,655.24 302.58,660.76 302.78,662.97 302.98,661.54 303.18,659.99 303.38,662.64 303.58,657.17 303.78,659.78 303.98,660.05 304.18,655.56 304.38,660.67 304.58,656 304.78,658.09 304.98,660.29 305.18,657.51 305.38,661.2 305.58,656.76 305.78,656.53 305.98,655.57 306.18,663.07 306.38,657.48 306.58,656.88 306.78,660.33 306.98,655.75 307.18,658.47 307.38,657.42 307.58,656.88 307.78,663.15 307.98,657.63 308.18,659.86 308.38,657.3 308.58,662.16 308.78,663.24 308.98,660.42 309.18,661.14 309.38,655.87 309.58,658.47 309.78,657.24 309.98,658.37 310.18,656.59 310.38,662.72 310.58,659.4 310.78,659.92 310.98,656.92 311.18,656.03 311.38,655.57 311.58,662.15 311.78,661.37 311.98,667.87 312.18,674.92 312.38,689.36 312.58,696.99 312.78,697.39 312.98,692.64 313.18,683.95 313.38,681.2 313.58,678.21 313.78,677.45 313.98,676.09 314.18,674.22 314.38,669.9 314.58,672.99 314.78,682.94 314.98,688.06 315.18,682.15 315.38,683.74 315.58,681.06 315.78,673.39 315.98,673.33 316.18,675.43 316.38,674.61 316.58,672.93 316.78,665.75 316.98,669.66 317.18,665.66 317.38,669.56 317.58,665.75 317.78,668.45 317.98,665.11 318.18,660.49 318.38,664.23 318.58,658.96 318.78,660.34 318.98,662.49 319.18,664.37 319.38,659.36 319.58,663.64 319.78,658.44 319.98,657.9 320.18,656.54 320.38,658.6 320.58,662.03 320.78,658.03 320.98,661.86 321.18,663.49 321.38,658.47 321.58,658.37 321.78,659.52 321.98,656.98 322.18,666 322.38,667.77 322.58,674.21 322.79,677.27 322.99,677.2 323.19,669.15 323.39,673.88 323.59,670.27 323.79,668.05 323.99,663.77 324.19,661.54 324.39,666.32 324.59,667.6 324.79,661.31 324.99,665.6 325.19,663.69 325.39,665.71 325.59,666.2 325.79,664.24 325.99,661.42 326.19,659.57 326.39,661.3 326.59,657.8 326.79,662.27 326.99,662.99 327.19,660.15 327.39,662.81 327.59,663.62 327.79,659.34 327.99,658.93 328.19,656.36 328.39,656.56 328.59,667.11 328.79,681.9 328.99,691.6 329.19,688.02 329.39,684.45 329.59,681.28 329.79,682.92 329.99,673.91 330.19,672.99 330.39,675.56 330.59,671.29 330.79,667.64 330.99,668.79 331.19,670.22 331.39,663.26 331.59,665.78 331.79,668.58 331.99,666.97 332.19,667.54 332.39,661.98 332.59,666.17 332.79,658.85 332.99,659.28 333.19,665.43 333.39,659.54 333.59,660.57 333.79,663.15 333.99,660.24 334.19,662.52 334.39,656.5 334.59,663.03 334.79,661.45 334.99,660.57 335.19,661.55 335.39,660.8 335.59,662.1 335.79,662.89 335.99,659.08 336.19,658.77 336.39,658.66 336.59,658.51 336.79,662.43 336.99,661.04 337.19,658.69 337.39,657.59 337.59,656.36 337.79,662.91 337.99,657.47 338.19,660.61 338.39,656.17 338.59,661.56 338.79,662.49 338.99,659.25 339.19,657.78 339.39,657.68 339.59,655.69 339.79,661.86 339.99,655.7 340.19,661.77 340.39,655.55 340.59,660.21 340.79,655.7 340.99,658.25 341.19,658.29 341.39,662.36 341.59,656.42 341.79,656.13 341.99,655.92 342.19,656.66 342.39,660.03 342.59,663.06 342.79,660.57 342.99,661.63 343.19,656.67 343.39,658.71 343.59,661.11 343.79,659.96 343.99,660.94 344.19,657.16 344.39,657.88 344.59,659.12 344.79,657.64 344.99,658.05 345.19,661.97 345.39,656.15 345.59,655.96 345.79,661.55 345.99,660.74 346.19,659.57 346.39,659.1 346.59,659.72 346.79,656.98 346.99,661.52 347.19,662.08 347.39,656.67 347.59,666.55 347.79,667.18 347.99,663.97 348.19,664.34 348.39,668.94 348.59,661.94 348.79,662.2 348.99,665.46 349.19,662.69 349.39,662.49 349.59,662 349.79,663.7 349.99,660.87 350.19,660.53 350.39,657.23 350.59,664.52 350.79,657.04 350.99,659.58 351.19,657.58 351.39,663.07 351.59,656.2 351.79,662.27 351.99,661.85 352.19,656.1 352.39,662.06 352.59,665.72 352.79,673.76 352.99,684.89 353.19,682.56 353.39,678.46 353.59,680.48 353.79,671.22 353.99,668.91 354.19,670 354.39,670.61 354.59,671.2 354.79,666.44 355,664.45 355.2,668.86 355.4,666.42 355.6,665.86 355.8,659.94 356,662.29 356.2,661.77 356.4,661.05 356.6,660.55 356.8,660.6 357,657.74 357.2,658.07 357.4,661.88 357.6,659.6 357.8,659.58 358,662.71 358.2,660.25 358.4,662.21 358.6,662.45 358.8,663.17 359,661.34 359.2,660.15 359.4,660.03 359.6,663.4 359.8,660.66 360,662.89 360.2,658.66 360.4,656.95 360.6,656.76 360.8,659.49 361,658.01 361.2,655.6 361.4,661.39 361.6,661.73 361.8,656.14 362,662.64 362.2,659.64 362.4,659.33 362.6,662.77 362.8,657.64 363,656.32 363.2,658.72 363.4,658.92 363.6,662.95 363.8,662.69 364,657.25 364.2,659.1 364.4,660.27 364.6,663.35 364.8,654.7 365,661.26 365.2,655.75 365.4,657.35 365.6,668.54 365.8,668.18 366,681.13 366.2,675.09 366.4,675.58 366.6,669.96 366.8,671.63 367,671.57 367.2,665.6 367.4,670.59 367.6,669.43 367.8,668.04 368,665.79 368.2,666.64 368.4,660.46 368.6,662.85 368.8,666.46 369,663.57 369.2,663.39 369.4,663.87 369.6,663.09 369.8,660.77 370,660.49 370.2,659.6 370.4,659.73 370.6,658.23 370.8,659.62 371,663.5" fill="none" stroke="#EE3E45" stroke-width="1.2" stroke-linejoin="round" />
<polyline points="390.4,659.6 390.6,659.66 390.8,658.8 391,662.28 391.2,660.61 391.4,660.91 391.6,657.1 391.8,656.27 392,656.4 392.2,658.5 392.4,661.22 392.6,663.12 392.8,656.53 393,663.14 393.2,656.88 393.4,661.36 393.6,657.16 393.8,659 394,660.57 394.2,659.56 394.4,663.54 394.6,661.11 394.8,658.71 395,660.4 395.2,658.71 395.4,662.28 395.6,656.03 395.8,659.24 396,657.58 396.2,658.91 396.4,656.62 396.6,657.22 396.8,656.09 397,658.55 397.2,656.22 397.4,657.47 397.6,659.61 397.8,659.65 398,657.14 398.2,659.46 398.4,662.4 398.6,661.97 398.8,656.35 399,660.75 399.2,663.79 399.4,655.99 399.6,662.1 399.8,660.92 400,660.02 400.2,660.82 400.4,663.37 400.6,657.1 400.8,662.79 401,663.35 401.2,661.37 401.4,657.51 401.6,657.84 401.8,662.51 402,659.16 402.2,659.28 402.4,660.28 402.6,663.16 402.8,661.88 403,660.51 403.2,662.11 403.4,658.58 403.6,661.69 403.8,655.94 404,663.03 404.2,662.98 404.4,660.08 404.6,658.4 404.8,658.3 405,661.31 405.2,660.88 405.4,661.4 405.6,657.77 405.8,658.39 406,656.37 406.2,661.37 406.4,661.08 406.6,658.69 406.81,659.85 407.01,658.53 407.21,658.42 407.41,655.86 407.61,658.04 407.81,659.26 408.01,663.15 408.21,661.28 408.41,660.65 408.61,657.8 408.81,662.64 409.01,657.62 409.21,661.89 409.41,661.19 409.61,663.58 409.81,661.25 410.01,661.66 410.21,659.8 410.41,657.43 410.61,660.15 410.81,656.17 411.01,658.09 411.21,660.59 411.41,662.78 411.61,658.79 411.81,662.54 412.01,662.07 412.21,660.74 412.41,659.06 412.61,658.88 412.81,661.37 413.01,657.84 413.21,660.99 413.41,662.79 413.61,658.67 413.81,659.34 414.01,662.46 414.21,662.26 414.41,654.89 414.61,661.53 414.81,656.76 415.01,662.7 415.21,656.62 415.41,660.09 415.61,660.02 415.81,662.21 416.01,660.88 416.21,660.87 416.41,659.12 416.61,661.52 416.81,663.2 417.01,662.64 417.21,663.45 417.41,659.21 417.61,660.66 417.81,661.2 418.01,655.33 418.21,655.87 418.41,656.71 418.61,660.73 418.81,663.48 419.01,662.58 419.21,663.21 419.41,657.45 419.61,659.19 419.81,658.33 420.01,656.5 420.21,663.42 420.41,661.92 420.61,658.7 420.81,663.19 421.01,660.34 421.21,659.66 421.41,662.41 421.61,658.52 421.81,662.7 422.01,660.05 422.21,660.09 422.41,657.64 422.61,660.82 422.81,663.42 423.01,657.82 423.21,656.62 423.41,661 423.61,660.57 423.81,658.83 424.01,658.64 424.21,658.44 424.41,659.18 424.61,657.44 424.81,658.74 425.01,663.3 425.21,658.46 425.41,658.98 425.61,661.5 425.81,656.61 426.01,662.28 426.21,661 426.41,658.06 426.61,658.08 426.81,660.9 427.01,659.63 427.21,659.47 427.41,663.76 427.61,672.17 427.81,683.98 428.01,684.26 428.21,681.21 428.41,679.61 428.61,675.31 428.81,670.7 429.01,675.1 429.21,674.99 429.41,667.12 429.61,668.08 429.81,665.74 430.01,662.01 430.21,663.25 430.41,667.86 430.61,664.49 430.81,666.66 431.01,666.4 431.21,666.53 431.41,662.86 431.61,664.48 431.81,664.38 432.01,662.06 432.21,658.42 432.41,658.83 432.61,663.88 432.81,660.48 433.01,659.74 433.21,657.36 433.41,660.8 433.61,663.27 433.81,660.84 434.01,663.15 434.21,664.39 434.41,660.47 434.61,664.11 434.81,659.4 435.01,662.08 435.21,662.29 435.41,662.99 435.61,658.92 435.81,655.27 436.01,664.08 436.21,657.02 436.41,661.17 436.61,662.79 436.81,657.69 437.01,661.17 437.21,660.43 437.41,661.88 437.61,661.87 437.81,661.9 438.01,657.57 438.21,658.68 438.41,659.16 438.61,660.36 438.81,660.07 439.01,663.06 439.22,662.8 439.42,662.77 439.62,663.27 439.82,661.47 440.02,656.79 440.22,656.13 440.42,662.36 440.62,663.8 440.82,659.31 441.02,659.72 441.22,662.86 441.42,659.65 441.62,656.34 441.82,659.64 442.02,663.26 442.22,661.19 442.42,662.01 442.62,663.68 442.82,661.23 443.02,657.15 443.22,658.49 443.42,659.46 443.62,658.43 443.82,661.27 444.02,659.27 444.22,657.4 444.42,663.11 444.62,661.13 444.82,657.14 445.02,659.7 445.22,661.64 445.42,661.68 445.62,663.31 445.82,661.35 446.02,656.99 446.22,659.76 446.42,656.97 446.62,660.19 446.82,662.68 447.02,655.75 447.22,663.38 447.42,661.16 447.62,656.13 447.82,656.81 448.02,659.28 448.22,658.48 448.42,655.87 448.62,656.93 448.82,657.46 449.02,663.17 449.22,659.11 449.42,658.16 449.62,662.63 449.82,662.22 450.02,657.93 450.22,657.91 450.42,656.75 450.62,657.15 450.82,661.74 451.02,659.29 451.22,659.05 451.42,663.11 451.62,656.65 451.82,661.37 452.02,657.85 452.22,658.37 452.42,655.86 452.62,663.26 452.82,662.7 453.02,658.94 453.22,661.04 453.42,656.54 453.62,657.06 453.82,661.3 454.02,662.41 454.22,658.18 454.42,656.18 454.62,658.32 454.82,658.3 455.02,655.89 455.22,656.85 455.42,663.6 455.62,658.64 455.82,658.32 456.02,656.83 456.22,663.22 456.42,663.66 456.62,661.71 456.82,656.67 457.02,661.28 457.22,656.95 457.42,659.21 457.62,663.54 457.82,657.28 458.02,658.62 458.22,656.89 458.42,658.17 458.62,658.04 458.82,660.29 459.02,661.94 459.22,663.18 459.42,660.2 459.62,656.13 459.82,661.21 460.02,656.28 460.22,663.51 460.42,660.44 460.62,659.65 460.82,660.43 461.02,659.04 461.22,660.49 461.42,661.98 461.62,661.56 461.82,659.65 462.02,660.56 462.22,657.26 462.42,657.16 462.62,662.85 462.82,657.59 463.02,659.09 463.22,657.23 463.42,658.56 463.62,659.77 463.82,663.2 464.02,655.97 464.22,656.63 464.42,662.11 464.62,661.52 464.82,659.42 465.02,659.45 465.22,661.78 465.42,661.44 465.62,660.09 465.82,658.15 466.02,656.3 466.22,656.79 466.42,660.62 466.62,662.19 466.82,658.55 467.02,656.64 467.22,660.9 467.42,660.26 467.62,657.46 467.82,663.19 468.02,659.71 468.22,662.02 468.42,661.91 468.62,660.35 468.82,659.26 469.02,658.46 469.22,662.45 469.42,660.31 469.62,657.93 469.82,656.75 470.02,657.67 470.22,659.81 470.42,663.73 470.62,662.64 470.82,660.98 471.02,658.37 471.22,662.92 471.42,660.61 471.63,662.07 471.83,657.2 472.03,660.78 472.23,661.66 472.43,658.79 472.63,662.2 472.83,656.63 473.03,658.31 473.23,658.98 473.43,662.15 473.63,661.91 473.83,656.74 474.03,656.89 474.23,658.96 474.43,661.54 474.63,656.93 474.83,657.63 475.03,661.77 475.23,661.52 475.43,656.68 475.63,663.47 475.83,659.64 476.03,660.97 476.23,659.13 476.43,662.07 476.63,662.62 476.83,662.96 477.03,658.12 477.23,656.8 477.43,662.86 477.63,657.38 477.83,657.38 478.03,655.88 478.23,661.8 478.43,660.7 478.63,662.07 478.83,661.75 479.03,662.26 479.23,658.24 479.43,662.33 479.63,661.55 479.83,660.41 480.03,659.49 480.23,662.96 480.43,660.71 480.63,659.96 480.83,659.37 481.03,660.35 481.23,662.06 481.43,657.09 481.63,660.76 481.83,656.52 482.03,657.55 482.23,661.53 482.43,658.23 482.63,660.27 482.83,659.21 483.03,658.87 483.23,658.82 483.43,659.35 483.63,657.85 483.83,661.06 484.03,657.08 484.23,659.24 484.43,662.87 484.63,659.19 484.83,657.6 485.03,657.62 485.23,658.2 485.43,662.77 485.63,659.05 485.83,660.39 486.03,664.22 486.23,663.03 486.43,659.72 486.63,656.22 486.83,659.92 487.03,663.05 487.23,656.61 487.43,662.77 487.63,663 487.83,661.27 488.03,655.98 488.23,655.84 488.43,660.36 488.63,658.51 488.83,658.33 489.03,656.04 489.23,661.01 489.43,655.96 489.63,663.22 489.83,661.64 490.03,663.64 490.23,662.29 490.43,662.31 490.63,663.23 490.83,662.98 491.03,658.71 491.23,662.94 491.43,660.53 491.63,655.89 491.83,656.27 492.03,657.59 492.23,657.06 492.43,661.96 492.63,656.86 492.83,655.97 493.03,661.51 493.23,661.02 493.43,656.57 493.63,657.81 493.83,659.52 494.03,662.2 494.23,659.18 494.43,657.14 494.63,658.92 494.83,662.52 495.03,663.78 495.23,660.05 495.43,662.02 495.63,655.88 495.83,661.15 496.03,662.44 496.23,662.89 496.43,661.09 496.63,658.53 496.83,656.51 497.03,658.01 497.23,657.84 497.43,659.76 497.63,656.44 497.83,662.48 498.03,656.31 498.23,663.74 498.43,658.34 498.63,659.64 498.83,656.8 499.03,659.41 499.23,659.61 499.43,661.11 499.63,662.46 499.83,666.16 500.03,669.54 500.23,672.59 500.43,672.5 500.63,667.87 500.83,671.6 501.03,663.68 501.23,666.53 501.43,665.47 501.63,665.27 501.83,667.39 502.03,662.2 502.23,666.55 502.43,659.69 502.63,662.53 502.83,660.7 503.03,664.11 503.23,659.46 503.43,660.8 503.63,664.61 503.83,661.27 504.04,659.46 504.24,657.12 504.44,660.62 504.64,660.11 504.84,659.55 505.04,662.17 505.24,664.3 505.44,658.8 505.64,658.01 505.84,661.81 506.04,660.6 506.24,662.77 506.44,662.64 506.64,658.69 506.84,658.79 507.04,662.71 507.24,659.9 507.44,662.57 507.64,657.08 507.84,659.24 508.04,657.33 508.24,663.19 508.44,657.95 508.64,658.37 508.84,656.95 509.04,658.84 509.24,662.65 509.44,659.4 509.64,659.91 509.84,661.91 510.04,657.32 510.24,660.19 510.44,656.74 510.64,662.43 510.84,657.4 511.04,659.92 511.24,655.09 511.44,662.46 511.64,662.7 511.84,658.71 512.04,661.85 512.24,661.41 512.44,660.01 512.64,661.68 512.84,657.62 513.04,661.9 513.24,656.22 513.44,656.39 513.64,659.49 513.84,657.29 514.04,657.29 514.24,663.79 514.44,656.09 514.64,658.64 514.84,659.07 515.04,657.09 515.24,661.91 515.44,657.57 515.64,661.85 515.84,658.02 516.04,662.73 516.24,661.45 516.44,660.22 516.64,658.39 516.84,661.58 517.04,656.34 517.24,660.03 517.44,657.92 517.64,657.63 517.84,660.7 518.04,661.1 518.24,662.45 518.44,661.71 518.64,660.18 518.84,663.04 519.04,657.53 519.24,661.24 519.44,658.81 519.64,657.9 519.84,654.81 520.04,658.24 520.24,660.42 520.44,656.98 520.64,656.34 520.84,657.86 521.04,660.31 521.24,658.03 521.44,656.71 521.64,663.74 521.84,658.49 522.04,663.09 522.24,658.66 522.44,656.37 522.64,662.05 522.84,661.82 523.04,656.23 523.24,655.86 523.44,658.62 523.64,658.61 523.84,662.68 524.04,663.18 524.24,659.85 524.44,661.52 524.64,661.44 524.84,660.35 525.04,658.09 525.24,656.95 525.44,656.13 525.64,656.46 525.84,662.29 526.04,663.11 526.24,663.3 526.44,661.13 526.64,657.98 526.84,659.29 527.04,661.63 527.24,661.98 527.44,661.94 527.64,657.31 527.84,658.97 528.04,657.42 528.24,659.17 528.44,657.85 528.64,659.21 528.84,660.98 529.04,656.09 529.24,659.17 529.44,656.35 529.64,656.43 529.84,656.03 530.04,658.49 530.24,656.51 530.44,662.39 530.64,655.77 530.84,658.69 531.04,663.34 531.24,658.46 531.44,657.4 531.64,662.72 531.84,657.57 532.04,657.64 532.24,662.46 532.44,657.39 532.64,663.28 532.84,661.83 533.04,658.81 533.24,661.64 533.44,658.72 533.64,657.32 533.84,663.38 534.04,661.47 534.24,660.29 534.44,657.7 534.64,661.76 534.84,657.43 535.04,657.35 535.24,661.32 535.44,662.44 535.64,662.44 535.84,658.73 536.04,656.26 536.25,661.86 536.45,659.33 536.65,661.49 536.85,657.95 537.05,662.67 537.25,659.39 537.45,660.44 537.65,667.7 537.85,672.46 538.05,667.81 538.25,665.23 538.45,663.27 538.65,669.47 538.85,661.94 539.05,662.3 539.25,662.81 539.45,665.58 539.65,660.86 539.85,665.24 540.05,659.18 540.25,659.88 540.45,661.7 540.65,663.76 540.85,662.67 541.05,659.7 541.25,658.7 541.45,661.69 541.65,659.87 541.85,664.25 542.05,659.54 542.25,661.85 542.45,662.87 542.65,657.09 542.85,658.89 543.05,657.03 543.25,662.53 543.45,663.7 543.65,657.96 543.85,660.06 544.05,663.59 544.25,656.71 544.45,663.02 544.65,660.19 544.85,660.16 545.05,659.65 545.25,662.96 545.45,659.4 545.65,663.87 545.85,659.92 546.05,656.92 546.25,657.48 546.45,663.35 546.65,661.59 546.85,662.61 547.05,660.28 547.25,662.06 547.45,658.14 547.65,657.65 547.85,661.48 548.05,657.96 548.25,660.61 548.45,657.11 548.65,656.94 548.85,663.03 549.05,662.64 549.25,661.16 549.45,663.57 549.65,656.98 549.85,659.4 550.05,659.53 550.25,660.94 550.45,663.08 550.65,663.32 550.85,657.19 551.05,659.47 551.25,663.53 551.45,658.29 551.65,663.75 551.85,659.3 552.05,660.55 552.25,657.98 552.45,661.84 552.65,663.28 552.85,656.16 553.05,657.86 553.25,663.56 553.45,663.14 553.65,657.48 553.85,660.15 554.05,658.92 554.25,661.59 554.45,656.93 554.65,658.84 554.85,657.09 555.05,662.08 555.25,657.39 555.45,662.27 555.65,661.94 555.85,656.39 556.05,663.2 556.25,657.55 556.45,660.87 556.65,656.32 556.85,663.24 557.05,656.64 557.25,658.81 557.45,657.41 557.65,661.05 557.85,662.17 558.05,658.74 558.25,662.11 558.45,659.19 558.65,659.6 558.85,656.8 559.05,659.82 559.25,659.41 559.45,659.42 559.65,656.06 559.85,657.17 560.05,656.17 560.25,656.33 560.45,662.88 560.65,658.91 560.85,660.58 561.05,661.6 561.25,656.37 561.45,657.47 561.65,662.79 561.85,660.11 562.05,657.71 562.25,662.2 562.45,662.4 562.65,662.91 562.85,660.61 563.05,658.46 563.25,656.05 563.45,658.8 563.65,657.98 563.85,657.87 564.05,662.29 564.25,661.6 564.45,657.2 564.65,659.84 564.85,659.83 565.05,659.51 565.25,658.13 565.45,661.24 565.65,660.07 565.85,657.23 566.05,657.5 566.25,656.85 566.45,658.89 566.65,658.66 566.85,661.64 567.05,660.3 567.25,658.5 567.45,662.46 567.65,662.6 567.85,660.67 568.05,660.81 568.25,656.15 568.45,658.96 568.65,660.35 568.86,660.92 569.06,660.63 569.26,661.52 569.46,657.84 569.66,656.6 569.86,662.57 570.06,657.36 570.26,658.75 570.46,663 570.66,660.24 570.86,658.11 571.06,656.71 571.26,661.5 571.46,657.05 571.66,656.21 571.86,659.59 572.06,657.95 572.26,658.31 572.46,660.97 572.66,660.63 572.86,657.81 573.06,657.49 573.26,659.38 573.46,660.58 573.66,656.65 573.86,661.97 574.06,661.27 574.26,658.53 574.46,655.99 574.66,658 574.86,662.83 575.06,658.65 575.26,657.4 575.46,660.52 575.66,660.02 575.86,657.26 576.06,658.69 576.26,660.71 576.46,658.93 576.66,657.29 576.86,663.39 577.06,662.08 577.26,655.92 577.46,663.09 577.66,656.67 577.86,656.24 578.06,662.36 578.26,658.73 578.46,659.06 578.66,656.51 578.86,656.96 579.06,656.96 579.26,662.35 579.46,656.66 579.66,660.36 579.86,659.39 580.06,658.81 580.26,658.53 580.46,663.29 580.66,657.61 580.86,657.5 581.06,658.87 581.26,660.59 581.46,657.84 581.66,656.98 581.86,656.69 582.06,658.34 582.26,657.03 582.46,658.37 582.66,659.73 582.86,661.7 583.06,657.38 583.26,661.8 583.46,663.44 583.66,661.19 583.86,662.91 584.06,662.32 584.26,660.74 584.46,660.63 584.66,657.68 584.86,657.68 585.06,662.6 585.26,656.54 585.46,656.53 585.66,656.07 585.86,657.74 586.06,660.91 586.26,655.98 586.46,660.9 586.66,663.21 586.86,660.09 587.06,658.48 587.26,660.85 587.46,662.14 587.66,658.99 587.86,657.06 588.06,661.91 588.26,661.16 588.46,656.58 588.66,658.53 588.86,660.4 589.06,661.66 589.26,659.25 589.46,656.79 589.66,661.38 589.86,662.82 590.06,657.94 590.26,658.59 590.46,658.41 590.66,658.42 590.86,657.76 591.06,663.23 591.26,661.3 591.46,657.67 591.66,656.95 591.86,659.95 592.06,660.96 592.26,661.89 592.46,661.95 592.66,657.45 592.86,655.86 593.06,657.41 593.26,656.19 593.46,659.08 593.66,662.33 593.86,661.35 594.06,662.69 594.26,663.65 594.46,658.26 594.66,656.98 594.86,660.02 595.06,657.07 595.26,657.94 595.46,657.43 595.66,659.27 595.86,657.52 596.06,663.44 596.26,663.18 596.46,656.02 596.66,663.68 596.86,661.64 597.06,663.6 597.26,662.81 597.46,656.25 597.66,658.33 597.86,657.32 598.06,662.94 598.26,663.05 598.46,661.05 598.66,663.58 598.86,658.05 599.06,662.18 599.26,657.78 599.46,660.59 599.66,665.61 599.86,660.99 600.06,661.44 600.26,660.87 600.46,660.33 600.66,666.79 600.86,665.51 601.07,662.31 601.27,658.32 601.47,658.88 601.67,659.66 601.87,662.36 602.07,660.67 602.27,663.97 602.47,662.78 602.67,657.64 602.87,659.72 603.07,662.05 603.27,663.2 603.47,661.52 603.67,658.93 603.87,663.07 604.07,658.03 604.27,663.56 604.47,663.35 604.67,663.93 604.87,663.74 605.07,663.22 605.27,661.43 605.47,658.7 605.67,661.74 605.87,660.63 606.07,659.47 606.27,661.56 606.47,659.22 606.67,657.62 606.87,659.91 607.07,661.18 607.27,657.19 607.47,658.86 607.67,658.9 607.87,660.12 608.07,661.73 608.27,663.47 608.47,661.62 608.67,663.54 608.87,662.98 609.07,661.73 609.27,660.59 609.47,660.75 609.67,661.8 609.87,660.03 610.07,656.67 610.27,658.26 610.47,658.02 610.67,657.81 610.87,656.67 611.07,659.11 611.27,657.14 611.47,658.12 611.67,658.45 611.87,658.41 612.07,660.83 612.27,661.65 612.47,663.4 612.67,655.81 612.87,662.42 613.07,658.81 613.27,661.69 613.47,663.25 613.67,656.75 613.87,659 614.07,660.29 614.27,660.84 614.47,663.34 614.67,658.81 614.87,663.64 615.07,656.87 615.27,663.5 615.47,656.88 615.67,659.72 615.87,660.67 616.07,663.69 616.27,660.08 616.47,663.21 616.67,663.33 616.87,661.93 617.07,661.34 617.27,657.85 617.47,658.41 617.67,657.79 617.87,658.7 618.07,663.67 618.27,657.18 618.47,656.7 618.67,660.56 618.87,656 619.07,657.82 619.27,658.97 619.47,662.5 619.67,661.23 619.87,658.4 620.07,657.17 620.27,660.99 620.47,655.87 620.67,660.91 620.87,661.32 621.07,659.28 621.27,655.98 621.47,656.35 621.67,658.69 621.87,657.52 622.07,655.86 622.27,656.47 622.47,660.75 622.67,655.86 622.87,661.65 623.07,660.18 623.27,661.9 623.47,662.07 623.67,663.57 623.87,662.16 624.07,659.61 624.27,656.44 624.47,662.22 624.67,658.6 624.87,659.18 625.07,662.33 625.27,661 625.47,661.67 625.67,663.78 625.87,663.79 626.07,663.75 626.27,657.2 626.47,663.21 626.67,660.77 626.87,661.7 627.07,663.32 627.27,659.36 627.47,659.37 627.67,662.62 627.87,661.09 628.07,659.18 628.27,658.94 628.47,664.49 628.67,660.31 628.87,656.14 629.07,662.84 629.27,659.87 629.47,657.57 629.67,661.96 629.87,660.36 630.07,662.65 630.27,661.46 630.47,659.29 630.67,659.31 630.87,658.22 631.07,658.68 631.27,658.7 631.47,660.07 631.67,663.32 631.87,658.79 632.07,661.87 632.27,663.15 632.47,660.79 632.67,657.22 632.87,662.18 633.07,660.69 633.27,659.44 633.47,657.9 633.68,659.33 633.88,656.48 634.08,656.48 634.28,658.8 634.48,658.23 634.68,659.73 634.88,663.62 635.08,656.31 635.28,656.43 635.48,658.45 635.68,659.03 635.88,655.83 636.08,662.42 636.28,660.83 636.48,657.76 636.68,657.41 636.88,657.43 637.08,662.19 637.28,659.3 637.48,661.13 637.68,657.63 637.88,662.29 638.08,661.03 638.28,657.9 638.48,661.7 638.68,663.07 638.88,658.78 639.08,659.53 639.28,663.38 639.48,656.53 639.68,656.05 639.88,656.21 640.08,658.82 640.28,660.85 640.48,656.36 640.68,657.92 640.88,659.29 641.08,657.59 641.28,659.61 641.48,661.16 641.68,662.9 641.88,657.39 642.08,656.74 642.28,659 642.48,663.18 642.68,662.19 642.88,663.37 643.08,661.82 643.28,656.01 643.48,656.61 643.68,661.43 643.88,661.39 644.08,659.15 644.28,659.2 644.48,660.15 644.68,661.43 644.88,663 645.08,660.22 645.28,662.68 645.48,658.5 645.68,662.96 645.88,656.65 646.08,659.21 646.28,656.18 646.48,656.95 646.68,663.03 646.88,657.73 647.08,662.3 647.28,663.32 647.48,660.66 647.68,663.68 647.88,663.01 648.08,659.76 648.28,659.91 648.48,656.76 648.68,660.88 648.88,662.04 649.08,656.91 649.28,657.71 649.48,657.24 649.68,661.46 649.88,659.29 650.08,658.59 650.28,662.16 650.48,660.11 650.68,662.2 650.88,661.74 651.08,658.84 651.28,659.52 651.48,660.15 651.68,661.74 651.88,660.41 652.08,658.86 652.28,662.58 652.48,661.38 652.68,658.41 652.88,664.47 653.08,655.95 653.28,655.94 653.48,661.55 653.68,661.86 653.88,657.25 654.08,659.1 654.28,663.3 654.48,657.31 654.68,658 654.88,669.46 655.08,674.58 655.28,683.08 655.48,682.01 655.68,679.48 655.88,673.07 656.08,669.64 656.28,670.87 656.48,670.58 656.68,669.14 656.88,664.31 657.08,667.84 657.28,663.16 657.48,661.32 657.68,666.63 657.88,666.86 658.08,664.09 658.28,664.12 658.48,660.63 658.68,660.67 658.88,664.28 659.08,665.39 659.28,656.69 659.48,658.84 659.68,664.03 659.88,663.78 660.08,657.13 660.28,664.15 660.48,661.02 660.68,662.88 660.88,658.28 661.08,659.39 661.28,662 661.48,656.84 661.68,657.68 661.88,663.3 662.08,662.42 662.28,658.75 662.48,660.46 662.68,658.17 662.88,655.52 663.08,656.59 663.28,662.4 663.48,661.75 663.68,660.45 663.88,657.06 664.08,660.24 664.28,662.45 664.48,657.38 664.68,655.98 664.88,658.94 665.08,660.35 665.28,656.96 665.48,655.92 665.68,660.86 665.88,655.98 666.09,660.78 666.29,661.24 666.49,658.67 666.69,661.11 666.89,659.53 667.09,661.87 667.29,655.13 667.49,658.75 667.69,657.97 667.89,662.66 668.09,657.41 668.29,662.49 668.49,663.64 668.69,661.72 668.89,655.92 669.09,663.1 669.29,657.57 669.49,661.24 669.69,660.34 669.89,659.77 670.09,658.85 670.29,663.03 670.49,663.3 670.69,656.94 670.89,656.1 671.09,660.59 671.29,659.41 671.49,663.14 671.69,659.24 671.89,659.85 672.09,657.69 672.29,656.43 672.49,661.68 672.69,662.78 672.89,658.17 673.09,661.14 673.29,664.42 673.49,657.65 673.69,656.97 673.89,660.49 674.09,661.68 674.29,657.29 674.49,655.82 674.69,655.98 674.89,659.78 675.09,657.99 675.29,662.96 675.49,659.03 675.69,660.48 675.89,661.82 676.09,660.11 676.29,657.67 676.49,661.46 676.69,661.41 676.89,657.57 677.09,662.48 677.29,661.84 677.49,660.29 677.69,661.33 677.89,655.61 678.09,656.47 678.29,658.91 678.49,660.59 678.69,660.53 678.89,660.96 679.09,661.68 679.29,660.06 679.49,663.51 679.69,662.36 679.89,658.6 680.09,661.43 680.29,658.54 680.49,656.8 680.69,661.32 680.89,663.73 681.09,662.91 681.29,660.11 681.49,660.02 681.69,656.13 681.89,663.83 682.09,657.67 682.29,661.47 682.49,659.6 682.69,656.03 682.89,659.21 683.09,662.47 683.29,660.23 683.49,661.02 683.69,663.01 683.89,662.06 684.09,661.25 684.29,662.5 684.49,656.82 684.69,657.56 684.89,659.94 685.09,660.77 685.29,659.77 685.49,656.61 685.69,657.51 685.89,660.4 686.09,659.92 686.29,661.15 686.49,661.75 686.69,660.51 686.89,657.47 687.09,658.91 687.29,662.05 687.49,655.82 687.69,659.92 687.89,660.74 688.09,662.53 688.29,659.99 688.49,658.74 688.69,662.8 688.89,659.56 689.09,662.72 689.29,659.13 689.49,658.91 689.69,659.11 689.89,660.3 690.09,663.21 690.29,656.62 690.49,656.46 690.69,659.3 690.89,659.98 691.09,663.72 691.29,663.52 691.49,663.08 691.69,659.16 691.89,656.24 692.09,659.21 692.29,663.63 692.49,661.54 692.69,662.24 692.89,658.15 693.09,663.3 693.29,658.33 693.49,659.87 693.69,657.87 693.89,655.98 694.09,663.75 694.29,657.5 694.49,655.99 694.69,663.66 694.89,661.76 695.09,659.03 695.29,658.76 695.49,657.58 695.69,660.6 695.89,658.89 696.09,656.02 696.29,658.27 696.49,657.98 696.69,661.01 696.89,663.74 697.09,658.61 697.29,662.36 697.49,656.19 697.69,663.62 697.89,658.32 698.09,660.07 698.3,661.47 698.5,663.73 698.7,663.06 698.9,655.82 699.1,664.18 699.3,666.84 699.5,671.44 699.7,675.65 699.9,669.66 700.1,672.37 700.3,669.74 700.5,667.55 700.7,669.81 700.9,662.4 701.1,666.97 701.3,662.27 701.5,663.64 701.7,660.54 701.9,665.44 702.1,664.47 702.3,663.77 702.5,659.65 702.7,657.93 702.9,663.45 703.1,664.13 703.3,661.94 703.5,657.51 703.7,665.74 703.9,658.93 704.1,662.82 704.3,662.94 704.5,663.75 704.7,661.55 704.9,659.49 705.1,661.11 705.3,659.5 705.5,660.22 705.7,658.85 705.9,662.36 706.1,663 706.3,656.63 706.5,658.43 706.7,663.43 706.9,661.14 707.1,660.06 707.3,659.86 707.5,657.18 707.7,661.41 707.9,660.91 708.1,656.83 708.3,663.12 708.5,662.16 708.7,660.42 708.9,657.62 709.1,659.94 709.3,657.04 709.5,661.87 709.7,655.93 709.9,658.16 710.1,660.76 710.3,661.36 710.5,656.43 710.7,659.39 710.9,659.41 711.1,656.19 711.3,656.79 711.5,663.26 711.7,657.29 711.9,660.4 712.1,657.08 712.3,661.59 712.5,660.21 712.7,659.54 712.9,660.16 713.1,663.65 713.3,659.04 713.5,658.46 713.7,656.73 713.9,663.74 714.1,660.21 714.3,661.59 714.5,657.75" fill="none" stroke="#4AA8B4" stroke-width="1.2" stroke-linejoin="round" />
<polyline points="727.2,657.87 727.4,661.28 727.6,664.29 727.8,670.99 728,682.76 728.2,676.04 728.4,675.6 728.6,674.42 728.8,669.7 729,673.51 729.2,672.32 729.4,672.14 729.6,665.57 729.8,666.51 730,666.32 730.2,664.02 730.4,663.95 730.6,666.32 730.8,664.97 731,665.53 731.2,661.29 731.4,662.49 731.6,661.69 731.8,660.89 732,659.4 732.2,658.87 732.4,657.73 732.6,664.61 732.8,662.59 733,657.98 733.2,663.32 733.4,657.79 733.6,663.38 733.8,662.78 734,663.12 734.2,663.38 734.4,661.01 734.6,657.83 734.8,660.75 735,658.94 735.2,658.76 735.41,657.32 735.61,656.88 735.81,656.51 736.01,660.39 736.21,656.24 736.41,657.16 736.61,663.28 736.81,658.04 737.01,656.49 737.21,658.8 737.41,655.9 737.61,659.82 737.81,659.98 738.01,661.2 738.21,656.09 738.41,663.11 738.61,657.89 738.81,662.62 739.01,660.53 739.21,657.77 739.41,657.45 739.61,656.12 739.81,656.51 740.01,661.43 740.21,657.33 740.41,660.25 740.61,658.12 740.81,656.9 741.01,656.7 741.21,657.55 741.41,657.8 741.61,658.69 741.81,662.82 742.01,656.15 742.21,656.84 742.41,658.38 742.61,658.68 742.81,657.79 743.01,657 743.21,658.77 743.41,662.22 743.61,661.55 743.81,663.28 744.01,663.16 744.21,660.39 744.41,662.52 744.61,656.83 744.81,662.3 745.01,658.2 745.21,656.84 745.41,656.04 745.61,656.66 745.81,662.73 746.01,662.27 746.21,660.78 746.41,661.53 746.61,661.32 746.81,663.77 747.01,657.94 747.21,657.99 747.41,657.87 747.61,663.3 747.81,662.6 748.01,659.13 748.21,661.89 748.41,657.89 748.61,663.02 748.81,657.35 749.01,659.83 749.21,656.07 749.41,657.5 749.61,658.26 749.81,659.78 750.01,662.48 750.21,661.76 750.41,659.23 750.61,655.98 750.81,656.95 751.01,657.03 751.21,663.21 751.42,659.69 751.62,657.75 751.82,655.88 752.02,661.88 752.22,658.17 752.42,659.22 752.62,662.97 752.82,663.25 753.02,662.45 753.22,661.57 753.42,660.53 753.62,656.87 753.82,661 754.02,660.68 754.22,662 754.42,658.85 754.62,659.79 754.82,659.11 755.02,659.36 755.22,658.51 755.42,663.1 755.62,658.74 755.82,659.11 756.02,662.07 756.22,659.38 756.42,660.31 756.62,656.44 756.82,656.97 757.02,658.2 757.22,657.46 757.42,658.16 757.62,662.43 757.82,656.49 758.02,656.05 758.22,660.58 758.42,660.32 758.62,661.08 758.82,661.4 759.02,661.29 759.22,660.77 759.42,660.13 759.62,659.03 759.82,662.71 760.02,662.69 760.22,664.79 760.42,666.9 760.62,665.37 760.82,660.08 761.02,666.16 761.22,664.6 761.42,660.12 761.62,658.45 761.82,662.01 762.02,662.89 762.22,659.7 762.42,656.92 762.62,658.37 762.82,663.2 763.02,658.43 763.22,660.63 763.42,657.6 763.62,656.47 763.82,662.27 764.02,657.06 764.22,660.66 764.42,663.66 764.62,660.87 764.82,659.98 765.02,662.56 765.22,659.87 765.42,658.69 765.62,658.25 765.82,659.14 766.02,660.67 766.22,662.17 766.42,660.18 766.62,661.66 766.82,663 767.02,659.53 767.22,659.33 767.42,662.59 767.63,661.76 767.83,663.44 768.03,659.28 768.23,656.28 768.43,662.25 768.63,660.33 768.83,656.13 769.03,659.39 769.23,660.71 769.43,664.19 769.63,656.5 769.83,660.51 770.03,663.3 770.23,660.77 770.43,660.92 770.63,656.72 770.83,663.29 771.03,660.52 771.23,657.42 771.43,659.8 771.63,656.98 771.83,661.76 772.03,658.16 772.23,663.49 772.43,659.75 772.63,657.79 772.83,656.73 773.03,656.33 773.23,657.24 773.43,656.63 773.63,661.56 773.83,661.22 774.03,656.94 774.23,659.81 774.43,657.72 774.63,662.1 774.83,661.04 775.03,660.25 775.23,657.77 775.43,659.41 775.63,656.65 775.83,657.68 776.03,662.33 776.23,661.56 776.43,657.54 776.63,660.1 776.83,661.46 777.03,660.44 777.23,657.73 777.43,661.34 777.63,656.91 777.83,660.51 778.03,656.68 778.23,660.75 778.43,663.2 778.63,662.84 778.83,661.52 779.03,661.53 779.23,658.52 779.43,658.56 779.63,661.91 779.83,662.79 780.03,663.63 780.23,656.39 780.43,661.3 780.63,662.3 780.83,657.61 781.03,658.29 781.23,663.6 781.43,661.27 781.63,656.37 781.83,657.83 782.03,662.54 782.23,655.45 782.43,662.18 782.63,661.75 782.83,664.48 783.03,656.95 783.23,661.96 783.43,657.79 783.63,659.92 783.84,656.57 784.04,656.25 784.24,658.65 784.44,662.45 784.64,661.56 784.84,657.32 785.04,664.26 785.24,658.86 785.44,659.34 785.64,660.05 785.84,661 786.04,656.78 786.24,656.64 786.44,657.24 786.64,661.04 786.84,657.32 787.04,656.79 787.24,663.51 787.44,659.17 787.64,658.73 787.84,657.23 788.04,661.32 788.24,657.37 788.44,658.62 788.64,660.74 788.84,658.65 789.04,659.12 789.24,662.5 789.44,663.03 789.64,662.3 789.84,656.63 790.04,656.79 790.24,658.97 790.44,659.96 790.64,660.33 790.84,659.39 791.04,658.09 791.24,662.5 791.44,658.8 791.64,658.5 791.84,657.35 792.04,655.69 792.24,661.01 792.44,657.87 792.64,659.26 792.84,660.39 793.04,658.61 793.24,655.96 793.44,657.22 793.64,656.36 793.84,655.93 794.04,657.18 794.24,661.88 794.44,663.52 794.64,660.13 794.84,656.44 795.04,660.69 795.24,662.08 795.44,658.15 795.64,660.36 795.84,663.03 796.04,660.62 796.24,662.67 796.44,659.34 796.64,661.98 796.84,660.62 797.04,660.02 797.24,658.33 797.44,657.02 797.64,659.35 797.84,659.19 798.04,662.65 798.24,658.14 798.44,663.38 798.64,660.94 798.84,659.85 799.04,663.49 799.24,658.46 799.44,662.9 799.64,660.21 799.85,657.73 800.05,657.48 800.25,655.96 800.45,662.34 800.65,663.01 800.85,659.85 801.05,658.19 801.25,660.44 801.45,661 801.65,662.83 801.85,659.69 802.05,662.88 802.25,657.46 802.45,658.53 802.65,656.14 802.85,658.02 803.05,660.78 803.25,657.47 803.45,657.44 803.65,656.11 803.85,657.42 804.05,660.75 804.25,659.56 804.45,666.58 804.65,685.14 804.85,700.97 805.05,698.8 805.25,690.78 805.45,685.11 805.65,684.1 805.85,679.85 806.05,678.59 806.25,676.69 806.45,672.72 806.65,677.47 806.85,669.12 807.05,667.67 807.25,673.21 807.45,664.95 807.65,667.85 807.85,669.87 808.05,664.44 808.25,665.5 808.45,664.29 808.65,661.74 808.85,667.2 809.05,664.55 809.25,660.12 809.45,665.52 809.65,663.29 809.85,660.95 810.05,659.52 810.25,662.77 810.45,663.31 810.65,657.29 810.85,660.53 811.05,658.61 811.25,661.88 811.45,661.58 811.65,661.51 811.85,660.42 812.05,661.58 812.25,659.83 812.45,657.19 812.65,662.32 812.85,662.11 813.05,657.46 813.25,659.76 813.45,662.98 813.65,658.96 813.85,663.01 814.05,660.69 814.25,664.7 814.45,656.66 814.65,659.89 814.85,659.13 815.05,659.53 815.25,659.28 815.45,656.09 815.65,657.58 815.85,663.81 816.06,658.3 816.26,656.81 816.46,658.51 816.66,660.3 816.86,657.77 817.06,661.36 817.26,660.31 817.46,658.33 817.66,655.37 817.86,662.48 818.06,662.36 818.26,656.04 818.46,660.06 818.66,661.58 818.86,658.9 819.06,656.96 819.26,663.37 819.46,663.77 819.66,658.91 819.86,657.54 820.06,659.12 820.26,658.19 820.46,663.73 820.66,659.78 820.86,664.54 821.06,655.93 821.26,658.77 821.46,663.87 821.66,661.32 821.86,663.13 822.06,662.76 822.26,661.19 822.46,660.91 822.66,656.22 822.86,660.43 823.06,659.67 823.26,659.65 823.46,661.45 823.66,658.05 823.86,658.43 824.06,658.6 824.26,663.55 824.46,662.13 824.66,662.14 824.86,662.39 825.06,660.16 825.26,660.16 825.46,661.71 825.66,658 825.86,656.96 826.06,661.51 826.26,661.15 826.46,655.9 826.66,659.64 826.86,659.58 827.06,656.78 827.26,662.46 827.46,658.17 827.66,663.55 827.86,660.08 828.06,657.18 828.26,657.04 828.46,658.43 828.66,663.4 828.86,663.6 829.06,657.61 829.26,662.34 829.46,656.95 829.66,658.18 829.86,662.94 830.06,656.5 830.26,660.64 830.46,661.03 830.66,662.38 830.86,658.81 831.06,660.77 831.26,663.78 831.46,658.81 831.66,658.32 831.86,659.85 832.06,661.25 832.27,661.01 832.47,663.11 832.67,662.59 832.87,663.55 833.07,655.92 833.27,658.72 833.47,656.9 833.67,656.46 833.87,658.97 834.07,661.07 834.27,661.81 834.47,658.95 834.67,661.03 834.87,658.6 835.07,660.93 835.27,659.34 835.47,659.14 835.67,659.24 835.87,662.97 836.07,657.56 836.27,656.06 836.47,657.84 836.67,660.46 836.87,657.09 837.07,661.78 837.27,658.75 837.47,663.08 837.67,656.62 837.87,659.84 838.07,663.33 838.27,660.45 838.47,659.53 838.67,658.48 838.87,662.21 839.07,658.09 839.27,662 839.47,662.94 839.67,656.23 839.87,662.99 840.07,663.6 840.27,660.99 840.47,655.96 840.67,657.55 840.87,657.05 841.07,656.57 841.27,659.03 841.47,662.36 841.67,657.5 841.87,661.27 842.07,659.81 842.27,661.62 842.47,661.08 842.67,661.98 842.87,661.67 843.07,661.08 843.27,659.04 843.47,660.94 843.67,659.94 843.87,661.67 844.07,657.46 844.27,659.47 844.47,661.42 844.67,661.91 844.87,661.16 845.07,660.23 845.27,656.76 845.47,659.25 845.67,657.32 845.87,656.7 846.07,656.45 846.27,661.79 846.47,657.95 846.67,662.94 846.87,660.3 847.07,659.67 847.27,660.6 847.47,659.97 847.67,658.01 847.87,660.53 848.07,660.18 848.28,659.68 848.48,660.04 848.68,663.35 848.88,659.35 849.08,657.73 849.28,658.04 849.48,658.79 849.68,658.73 849.88,663.09 850.08,660.2 850.28,655.11 850.48,661.58 850.68,662.15 850.88,661.07 851.08,658.79 851.28,658.94 851.48,662.99 851.68,662.3 851.88,663.5 852.08,655.96 852.28,658.68 852.48,663.39 852.68,656.87 852.88,656.42 853.08,657.18 853.28,655.83 853.48,658.97 853.68,661.75 853.88,657.35 854.08,656.23 854.28,656.2 854.48,659.58 854.68,663.29 854.88,661.03 855.08,656.37 855.28,658.53 855.48,661.83 855.68,658.96 855.88,656.6 856.08,661.6 856.28,659.35 856.48,660.92 856.68,661.11 856.88,662.53 857.08,659.34 857.28,657.14 857.48,659.9 857.68,663.26 857.88,662.36 858.08,660.45 858.28,658.93 858.48,657.34 858.68,660.38 858.88,662.67 859.08,660.05 859.28,662.98 859.48,663.37 859.68,656.69 859.88,660.86 860.08,662.34 860.28,660.17 860.48,662.5 860.68,661.87 860.88,658.89 861.08,661.39 861.28,662 861.48,657.5 861.68,656.59 861.88,661.31 862.08,660.46 862.28,661.27 862.48,663.51 862.68,658.22 862.88,658.55 863.08,662.51 863.28,663.34 863.48,658.64 863.68,661.08 863.88,662.28 864.08,657.03 864.28,656.27 864.49,663.67 864.69,657.78 864.89,657.02 865.09,658.16 865.29,660.19 865.49,658.62 865.69,662.2 865.89,656.21 866.09,657.56 866.29,659.16 866.49,659.14 866.69,657.32 866.89,656.61 867.09,660.04 867.29,662.05 867.49,659.23 867.69,656.63 867.89,658.13 868.09,659.76 868.29,662.51 868.49,658.77 868.69,658.6 868.89,656.77 869.09,659.36 869.29,657.81 869.49,659.11 869.69,658.39 869.89,657.15 870.09,655.83 870.29,660.15 870.49,661.76 870.69,662.55 870.89,658.84 871.09,662.75 871.29,661.24 871.49,659.21 871.69,658.48 871.89,661.29 872.09,663.06 872.29,662.41 872.49,656.89 872.69,661.4 872.89,660 873.09,660.09 873.29,663.36 873.49,657.1 873.69,658.55 873.89,658.08 874.09,661.71 874.29,658.91 874.49,661.33 874.69,660.34 874.89,656.51 875.09,662.55 875.29,662.02 875.49,662.62 875.69,661.5 875.89,658.54 876.09,663.6 876.29,658.32 876.49,662.84 876.69,656.77 876.89,660.49 877.09,662.23 877.29,659.62 877.49,656.02 877.69,660.8 877.89,663.11 878.09,660.57 878.29,661.32 878.49,658.12 878.69,660.59 878.89,662.57 879.09,661.72 879.29,658.97 879.49,657.99 879.69,663.18 879.89,665.34 880.09,662.92 880.29,667.68 880.49,666.57 880.7,666.71 880.9,665.95 881.1,662.84 881.3,664.56 881.5,664.41 881.7,658.93 881.9,659.09 882.1,658.95 882.3,661.24 882.5,661.35 882.7,657.96 882.9,662.54 883.1,659.67 883.3,663.67 883.5,658.04 883.7,661.41 883.9,658.39 884.1,658.9 884.3,661.28 884.5,663.33 884.7,661.59 884.9,663.26 885.1,657.76 885.3,658.34 885.5,657.18 885.7,656.23 885.9,664.44 886.1,660.98 886.3,661.89 886.5,662.65 886.7,656.17 886.9,657.15 887.1,655.98 887.3,663.42 887.5,657.66 887.7,656.81 887.9,661.81 888.1,657.66 888.3,658.95 888.5,663.37 888.7,657.52 888.9,663.73 889.1,660.41 889.3,660.57 889.5,659.91 889.7,656.69 889.9,661.91 890.1,657.81 890.3,656.82 890.5,661.73 890.7,657.98 890.9,658.3 891.1,659.91 891.3,678.98 891.5,695.26 891.7,706.4 891.9,702.98 892.1,699.17 892.3,697.29 892.5,689.87 892.7,684.41 892.9,679.75 893.1,681.3 893.3,676.53 893.5,675.66 893.7,673.58 893.9,676.34 894.1,672.5 894.3,671.19 894.5,667.41 894.7,664.7 894.9,662.81 895.1,662.19 895.3,664.61 895.5,663.43 895.7,665.73 895.9,663.8 896.1,663.43 896.3,662.68 896.5,662.7 896.71,661.8 896.91,664.7 897.11,663.66 897.31,660.33 897.51,664.37 897.71,658.47 897.91,661.35 898.11,657.16 898.31,665 898.51,656.8 898.71,657.5 898.91,658.76 899.11,658.03 899.31,661.92 899.51,657.86 899.71,661.8 899.91,664.06 900.11,660.8 900.31,659.34 900.51,659.49 900.71,659.48 900.91,660.99 901.11,663.13 901.31,657.88 901.51,662.8 901.71,660.95 901.91,662.71 902.11,662.2 902.31,656.76 902.51,658.53 902.71,662.39 902.91,660.96 903.11,658.41 903.31,662.38 903.51,657.9 903.71,662.05 903.91,658.35 904.11,663.06 904.31,657.16 904.51,657.27 904.71,661.98 904.91,659.16 905.11,656.01 905.31,659.53 905.51,659.87 905.71,660.33 905.91,656.18 906.11,656.43 906.31,655.82 906.51,658.82 906.71,663.02 906.91,661.95 907.11,659.18 907.31,657.57 907.51,658.68 907.71,655.96 907.91,658.79 908.11,662.65 908.31,657.67 908.51,660.94 908.71,656.4 908.91,661.58 909.11,660.88 909.31,659.03 909.51,657.76 909.71,657.98 909.91,656.21 910.11,657.62 910.31,656.21 910.51,661.55 910.71,660.68 910.91,662.13 911.11,658 911.31,656.02 911.51,657.22 911.71,662.53 911.91,660.38 912.11,657.29 912.31,656.44 912.51,660.77 912.71,661.92 912.92,660.02 913.12,661.31 913.32,657.98 913.52,658.85 913.72,657.22 913.92,658.41 914.12,661.49 914.32,662.05 914.52,659.43 914.72,659.69 914.92,661.49 915.12,656.66 915.32,656.14 915.52,660.79 915.72,663.23 915.92,655.13 916.12,662.57 916.32,659.13 916.52,662.64 916.72,657.47 916.92,662.64 917.12,662.82 917.32,661.37 917.52,659.77 917.72,663.8 917.92,660.69 918.12,659.19 918.32,662.63 918.52,662.34 918.72,656.23 918.92,661.92 919.12,660.6 919.32,657.87 919.52,662.79 919.72,663.37 919.92,661.36 920.12,662.84 920.32,660.14 920.52,661.79 920.72,658.67 920.92,658.48 921.12,657.5 921.32,658.59 921.52,659.82 921.72,656.94 921.92,663.67 922.12,659.89 922.32,663.51 922.52,663.04 922.72,656.75 922.92,658.69 923.12,656.75 923.32,658.18 923.52,662.24 923.72,658.3 923.92,663.84 924.12,657.09 924.32,661.98 924.52,661.39 924.72,663.35 924.92,658 925.12,663.02 925.32,661.79 925.52,661.09 925.72,662.99 925.92,660.96 926.12,663.15 926.32,661.29 926.52,659.06 926.72,659.46 926.92,663.41 927.12,661.06 927.32,657.44 927.52,657.72 927.72,659.41 927.92,662.49 928.12,660.62 928.32,656.35 928.52,663.2 928.72,656.28 928.92,656.97 929.13,661.98 929.33,657.38 929.53,660.24 929.73,663.18 929.93,656.81 930.13,658.44 930.33,661.92 930.53,661.05 930.73,661.8 930.93,661.47 931.13,659.74 931.33,660.7 931.53,656.97 931.73,662.51 931.93,664.36 932.13,663.22 932.33,659.62 932.53,655.95 932.73,660.01 932.93,661.57 933.13,661.22 933.33,656.49 933.53,661.13 933.73,658.07 933.93,660.3 934.13,658.75 934.33,662.64 934.53,661 934.73,662.38 934.93,656.28 935.13,662.16 935.33,663.19 935.53,658.33 935.73,662.22 935.93,660.4 936.13,663.49 936.33,658.44 936.53,660.17 936.73,656.68 936.93,662.62 937.13,659.28 937.33,658.29 937.53,656.21 937.73,659.19 937.93,656.92 938.13,661.1 938.33,658.7 938.53,663.58 938.73,656.4 938.93,658.5 939.13,661.55 939.33,658.74 939.53,659.8 939.73,662.9 939.93,662.07 940.13,658.79 940.33,659.29 940.53,661.9 940.73,658.21 940.93,659.06 941.13,657.79 941.33,658.49 941.53,658.45 941.73,656 941.93,660.14 942.13,659.3 942.33,662.21 942.53,656.62 942.73,659.49 942.93,661.51 943.13,663.13 943.33,658.9 943.53,658.25 943.73,663.12 943.93,656.08 944.13,659.97 944.33,658.5 944.53,660.94 944.73,657.28 944.93,656.97 945.14,657.08 945.34,658.41 945.54,660.55 945.74,662.44 945.94,656.04 946.14,659.25 946.34,660.63 946.54,659.12 946.74,659.01 946.94,660.78 947.14,656.83 947.34,661.89 947.54,662.94 947.74,660.78 947.94,656.13 948.14,663.15 948.34,656.88 948.54,655.83 948.74,657.31 948.94,657.42 949.14,658.47 949.34,658.04 949.54,662.17 949.74,658.04 949.94,658.87 950.14,658.94 950.34,656.12 950.54,656.75 950.74,659.02 950.94,663.06 951.14,656.31 951.34,663.67 951.54,657.5 951.74,659.67 951.94,660.21 952.14,660.73 952.34,655.96 952.54,658.62 952.74,658.68 952.94,657 953.14,663.42 953.34,655.92 953.54,662.4 953.74,662.77 953.94,658.04 954.14,659.85 954.34,657.11 954.54,662.65 954.74,660.65 954.94,657.42 955.14,663.31 955.34,657.02 955.54,660.4 955.74,656.12 955.94,663.36 956.14,662.65 956.34,656.43 956.54,661.29 956.74,660.16 956.94,661.44 957.14,658.71 957.34,656.11 957.54,659.42 957.74,659.17 957.94,658.41 958.14,662.01 958.34,682.31 958.54,696.61 958.74,709.99 958.94,701.12 959.14,701.7 959.34,697.63 959.54,689.69 959.74,689.43 959.94,688.11 960.14,680.92 960.34,676.33 960.54,679.59 960.74,672.15 960.94,674.18 961.14,672.84 961.35,670.03 961.55,667.9 961.75,668.18 961.95,663.22 962.15,665.07 962.35,667.97 962.55,662.63 962.75,661.67 962.95,659.52 963.15,660.46 963.35,658.97 963.55,660.02 963.75,661.91 963.95,665.06 964.15,661.93 964.35,662.77 964.55,665.01 964.75,658.16 964.95,659.05 965.15,662.53 965.35,659.39 965.55,660.96 965.75,657.04 965.95,663.41 966.15,659.78 966.35,663.01 966.55,658.29 966.75,664.03 966.95,660.48 967.15,658.59 967.35,663.68 967.55,661.1 967.75,662.82 967.95,657.12 968.15,663.86 968.35,663.18 968.55,661.34 968.75,659.7 968.95,660.88 969.15,658.82 969.35,656.1 969.55,661.6 969.75,660.65 969.95,658.62 970.15,657.64 970.35,663.37 970.55,656.05 970.75,656.65 970.95,661.49 971.15,662.49 971.35,657.91 971.55,661.24 971.75,662.08 971.95,658.1 972.15,661.56 972.35,656.12 972.55,658.72 972.75,658.12 972.95,657.98 973.15,655.92 973.35,661.46 973.55,663.79 973.75,657.66 973.95,661.55 974.15,661.4 974.35,656.83 974.55,661.44 974.75,659.4 974.95,661.47 975.15,656.16 975.35,659.37 975.55,660.2 975.75,657.25 975.95,658.56 976.15,662.68 976.35,657.56 976.55,661.88 976.75,657.3 976.95,656.18 977.15,661.36 977.35,663.07 977.56,656.21 977.76,660.31 977.96,663.49 978.16,661.64 978.36,660.68 978.56,661.63 978.76,662.72 978.96,658.37 979.16,663.21 979.36,662.58 979.56,657.99 979.76,660.03 979.96,660.12 980.16,661.09 980.36,663.09 980.56,660.68 980.76,657.79 980.96,657.46 981.16,662.93 981.36,657.37 981.56,659.43 981.76,661.82 981.96,660.11 982.16,656.81 982.36,660.91 982.56,658.48 982.76,658.58 982.96,661.33 983.16,656.14 983.36,660.06 983.56,662.39 983.76,658.66 983.96,662.55 984.16,660.12 984.36,662.38 984.56,659.53 984.76,657.28 984.96,661.61 985.16,658.86 985.36,663.59 985.56,662.05 985.76,663.69 985.96,656.25 986.16,659.16 986.36,660.6 986.56,658.31 986.76,661.94 986.96,657.73 987.16,657.3 987.36,659.43 987.56,663.4 987.76,657.3 987.96,661.15 988.16,660.56 988.36,659.78 988.56,660.62 988.76,662.88 988.96,660.63 989.16,661.38 989.36,658.75 989.56,661.06 989.76,662.38 989.96,661.55 990.16,661.1 990.36,661.57 990.56,657.95 990.76,661.27 990.96,656.85 991.16,661.48 991.36,660.13 991.56,659.34 991.76,655.95 991.96,660.5 992.16,663.07 992.36,664.29 992.56,671 992.76,675.32 992.96,677.51 993.16,671.73 993.36,676.13 993.57,668.1 993.77,666.45 993.97,670.71 994.17,671.21 994.37,662.92 994.57,667.03 994.77,660.48 994.97,661.86 995.17,666.5 995.37,665.94 995.57,664.05 995.77,666.55 995.97,662.28 996.17,663.82 996.37,661.24 996.57,664.1 996.77,664.33 996.97,664.42 997.17,657.52 997.37,658.98 997.57,662.31 997.77,663.51 997.97,657.76 998.17,659.94 998.37,661.53 998.57,660.97 998.77,663.18 998.97,659.53 999.17,659.93 999.37,657.47 999.57,657.91 999.77,662.12 999.97,656.2 1000.17,663.9 1000.37,662.05 1000.57,660.4 1000.77,662.35 1000.97,657.49 1001.17,656.06 1001.37,659.16 1001.57,659.5 1001.77,662.46 1001.97,661.2 1002.17,662.62 1002.37,662.19 1002.57,662.87 1002.77,656.85 1002.97,661.64 1003.17,658.39 1003.37,656.91 1003.57,656.48 1003.77,656.43 1003.97,657.65 1004.17,661.82 1004.37,661.47 1004.57,659.72 1004.77,658.44 1004.97,659.96 1005.17,663.53 1005.37,657.53 1005.57,662.9 1005.77,663.22 1005.97,662.17 1006.17,676.32 1006.37,680.55 1006.57,682.97 1006.77,680.98 1006.97,676.62 1007.17,673.35 1007.37,671.44 1007.57,670.06 1007.77,672.38 1007.97,665.9 1008.17,666.17 1008.37,669.36 1008.57,661.46 1008.77,663.38 1008.97,666.07 1009.17,664.99 1009.37,666.49 1009.57,660.01 1009.78,660.58 1009.98,659.59 1010.18,659.55 1010.38,661.44 1010.58,659.75 1010.78,658.32 1010.98,659.02 1011.18,662.97 1011.38,661.18 1011.58,660.88 1011.78,662.73 1011.98,662.99 1012.18,663.14 1012.38,660.67 1012.58,658.15 1012.78,661.29 1012.98,656.41 1013.18,656.7 1013.38,662.17 1013.58,659.01 1013.78,659.39 1013.98,661.39 1014.18,662.77 1014.38,656.44 1014.58,659 1014.78,658.08 1014.98,660.13 1015.18,661.64 1015.38,658.26 1015.58,660.82 1015.78,658.49 1015.98,659.54 1016.18,657.08 1016.38,659.96 1016.58,657.06 1016.78,658.03 1016.98,660.94 1017.18,659.88 1017.38,656 1017.58,659.26 1017.78,662.41 1017.98,658.91 1018.18,663.1 1018.38,657.39 1018.58,660.51 1018.78,656.86 1018.98,661.12 1019.18,660.16 1019.38,661.82 1019.58,656.75 1019.78,656.56 1019.98,658.77 1020.18,658.48 1020.38,663.71 1020.58,664.46 1020.78,661.41 1020.98,657.43 1021.18,656.67 1021.38,663.34 1021.58,660.39 1021.78,659.13 1021.98,657.69 1022.18,661.2 1022.38,660.32 1022.58,659.82 1022.78,657.57 1022.98,663.52 1023.18,658.96 1023.38,657.59 1023.58,663.31 1023.78,657.9 1023.98,656.46 1024.18,664.52 1024.38,656.36 1024.58,660.31 1024.78,656.02 1024.98,662.21 1025.18,657.21 1025.38,658.28 1025.58,660.06 1025.78,659.51 1025.99,663.46 1026.19,657.57 1026.39,664.04 1026.59,659.65 1026.79,658.83 1026.99,660.87 1027.19,660.34 1027.39,661.7 1027.59,660.72 1027.79,659.41 1027.99,663.18 1028.19,660.91 1028.39,663.54 1028.59,658.21 1028.79,661.77 1028.99,659.01 1029.19,657.3 1029.39,657.56 1029.59,656.87 1029.79,659.64 1029.99,656.04 1030.19,655.91 1030.39,660.12 1030.59,658.64 1030.79,660 1030.99,656.43 1031.19,659.44 1031.39,660.04 1031.59,656.48 1031.79,656.8 1031.99,662.43 1032.19,659.24 1032.39,663.3 1032.59,662 1032.79,671.04 1032.99,674 1033.19,679.9 1033.39,677.61 1033.59,675.37 1033.79,670.7 1033.99,673.62 1034.19,666.63 1034.39,667.26 1034.59,664.11 1034.79,661.95 1034.99,663.3 1035.19,667.08 1035.39,660.63 1035.59,664.38 1035.79,659.94 1035.99,664.65 1036.19,659.82 1036.39,662.49 1036.59,660.12 1036.79,662.7 1036.99,662.52 1037.19,660.97 1037.39,660.48 1037.59,662.38 1037.79,660.11 1037.99,664.42 1038.19,661.5 1038.39,670.01 1038.59,678.7 1038.79,676.39 1038.99,671.79 1039.19,676.81 1039.39,672.35 1039.59,671.41 1039.79,667.84 1039.99,670.22 1040.19,666.42 1040.39,668 1040.59,661.2 1040.79,662.72 1040.99,660.56 1041.19,662.67 1041.39,660.64 1041.59,658.82 1041.79,666.09 1042,660.75 1042.2,660.79 1042.4,659.76 1042.6,658.54 1042.8,661.51 1043,664.86 1043.2,664.81 1043.4,661.76 1043.6,660.49 1043.8,660.45 1044,658.76 1044.2,656.67 1044.4,658.85 1044.6,656.69 1044.8,659.26 1045,664 1045.2,663.58 1045.4,656.7 1045.6,659.66 1045.8,660.84 1046,660.68 1046.2,659.59 1046.4,661.85 1046.6,662.39 1046.8,658.63 1047,656.2 1047.2,657.55 1047.4,658.47 1047.6,659.54 1047.8,662.79 1048,656.16 1048.2,661.64 1048.4,656.78 1048.6,657.72 1048.8,658.22 1049,661.02 1049.2,658.47 1049.4,659.77 1049.6,660.39 1049.8,657.82 1050,656.67" fill="none" stroke="#EC3A92" stroke-width="1.2" stroke-linejoin="round" />
<polyline points="1018.3,692 1018.3,716.6 1049,716.6" fill="none" stroke="#000" stroke-width="2.7" stroke-linejoin="miter" />
<text x="1027.5" y="704" text-anchor="start" fill="#1E1A1B" style="font-size:17px;font-weight:bold;letter-spacing:1px"  stroke="#1E1A1B" stroke-width="0.45">20 pA</text>
<text x="1020" y="750" text-anchor="start" fill="#1E1A1B" style="font-size:17px;font-weight:bold;letter-spacing:1px"  stroke="#1E1A1B" stroke-width="0.45">400 ms</text>
<text x="5.5" y="771.4" text-anchor="start" fill="#2A2425" style="font-size:35px;font-weight:bold" stroke="#2A2425" stroke-width="0.7">e</text>
<line x1="85" y1="792.7" x2="85" y2="1134.7" stroke="#000" stroke-width="3" stroke-linecap="butt"/>
<line x1="71" y1="794.2" x2="85" y2="794.2" stroke="#000" stroke-width="3" stroke-linecap="butt"/>
<line x1="71" y1="862" x2="85" y2="862" stroke="#000" stroke-width="3" stroke-linecap="butt"/>
<line x1="71" y1="929.8" x2="85" y2="929.8" stroke="#000" stroke-width="3" stroke-linecap="butt"/>
<line x1="71" y1="997.6" x2="85" y2="997.6" stroke="#000" stroke-width="3" stroke-linecap="butt"/>
<line x1="71" y1="1065.4" x2="85" y2="1065.4" stroke="#000" stroke-width="3" stroke-linecap="butt"/>
<line x1="71" y1="1133.2" x2="85" y2="1133.2" stroke="#000" stroke-width="3" stroke-linecap="butt"/>
<text x="67.2" y="803.11" text-anchor="end" fill="#1E1A1B" style="font-size:23px;font-weight:bold;letter-spacing:1.6px"  stroke="#1E1A1B" stroke-width="0.45">5</text>
<text x="67.2" y="870.91" text-anchor="end" fill="#1E1A1B" style="font-size:23px;font-weight:bold;letter-spacing:1.6px"  stroke="#1E1A1B" stroke-width="0.45">4</text>
<text x="67.2" y="938.71" text-anchor="end" fill="#1E1A1B" style="font-size:23px;font-weight:bold;letter-spacing:1.6px"  stroke="#1E1A1B" stroke-width="0.45">3</text>
<text x="67.2" y="1006.51" text-anchor="end" fill="#1E1A1B" style="font-size:23px;font-weight:bold;letter-spacing:1.6px"  stroke="#1E1A1B" stroke-width="0.45">2</text>
<text x="67.2" y="1074.31" text-anchor="end" fill="#1E1A1B" style="font-size:23px;font-weight:bold;letter-spacing:1.6px"  stroke="#1E1A1B" stroke-width="0.45">1</text>
<text x="67.2" y="1142.11" text-anchor="end" fill="#1E1A1B" style="font-size:23px;font-weight:bold;letter-spacing:1.6px"  stroke="#1E1A1B" stroke-width="0.45">0</text>
<rect x="109.9" y="978.9" width="41.1" height="154.3" fill="#F33F43" stroke="#000" stroke-width="2.8"/>
<rect x="177.6" y="1070.4" width="41.1" height="62.8" fill="#52A8B3" stroke="#000" stroke-width="2.8"/>
<rect x="245.2" y="995.8" width="41.1" height="137.4" fill="#F6308F" stroke="#000" stroke-width="2.8"/>
<line x1="71" y1="1133.2" x2="312.6" y2="1133.2" stroke="#000" stroke-width="3" stroke-linecap="butt"/>
<line x1="130.3" y1="1133.2" x2="130.3" y2="1147.2" stroke="#000" stroke-width="3" stroke-linecap="butt"/>
<line x1="198" y1="1133.2" x2="198" y2="1147.2" stroke="#000" stroke-width="3" stroke-linecap="butt"/>
<line x1="265.6" y1="1133.2" x2="265.6" y2="1147.2" stroke="#000" stroke-width="3" stroke-linecap="butt"/>
<line x1="130.3" y1="956.6" x2="130.3" y2="995.7" stroke="#000" stroke-width="1.8" stroke-linecap="butt"/>
<line x1="119.3" y1="956.6" x2="141.3" y2="956.6" stroke="#000" stroke-width="2.1" stroke-linecap="butt"/>
<line x1="119.3" y1="995.7" x2="141.3" y2="995.7" stroke="#000" stroke-width="2.1" stroke-linecap="butt"/>
<line x1="198" y1="1063.8" x2="198" y2="1074" stroke="#000" stroke-width="1.8" stroke-linecap="butt"/>
<line x1="187" y1="1063.8" x2="209" y2="1063.8" stroke="#000" stroke-width="2.1" stroke-linecap="butt"/>
<line x1="187" y1="1074" x2="209" y2="1074" stroke="#000" stroke-width="2.1" stroke-linecap="butt"/>
<line x1="265.6" y1="975.4" x2="265.6" y2="1011" stroke="#000" stroke-width="1.8" stroke-linecap="butt"/>
<line x1="254.6" y1="975.4" x2="276.6" y2="975.4" stroke="#000" stroke-width="2.1" stroke-linecap="butt"/>
<line x1="254.6" y1="1011" x2="276.6" y2="1011" stroke="#000" stroke-width="2.1" stroke-linecap="butt"/>
<circle cx="130.3" cy="862.6" r="5.6" fill="none" stroke="#000" stroke-width="1.6"/>
<circle cx="112.3" cy="963.7" r="5.6" fill="none" stroke="#000" stroke-width="1.6"/>
<circle cx="130.3" cy="959.1" r="5.6" fill="none" stroke="#000" stroke-width="1.6"/>
<circle cx="147.6" cy="961.7" r="5.6" fill="none" stroke="#000" stroke-width="1.6"/>
<circle cx="130.3" cy="990.6" r="5.6" fill="none" stroke="#000" stroke-width="1.6"/>
<circle cx="121.3" cy="1009.4" r="5.6" fill="none" stroke="#000" stroke-width="1.6"/>
<circle cx="139.1" cy="1016.1" r="5.6" fill="none" stroke="#000" stroke-width="1.6"/>
<circle cx="130.3" cy="1047.2" r="5.6" fill="none" stroke="#000" stroke-width="1.6"/>
<circle cx="185.1" cy="1053.6" r="5.6" fill="none" stroke="#000" stroke-width="1.6"/>
<circle cx="193.5" cy="1053.6" r="5.6" fill="none" stroke="#000" stroke-width="1.6"/>
<circle cx="202.5" cy="1053.6" r="5.6" fill="none" stroke="#000" stroke-width="1.6"/>
<circle cx="211.4" cy="1050.3" r="5.6" fill="none" stroke="#000" stroke-width="1.6"/>
<circle cx="198" cy="1065.6" r="5.6" fill="none" stroke="#000" stroke-width="1.6"/>
<circle cx="189" cy="1076.6" r="5.6" fill="none" stroke="#000" stroke-width="1.6"/>
<circle cx="198" cy="1079.1" r="5.6" fill="none" stroke="#000" stroke-width="1.6"/>
<circle cx="207.3" cy="1076.6" r="5.6" fill="none" stroke="#000" stroke-width="1.6"/>
<circle cx="180" cy="1084.3" r="5.6" fill="none" stroke="#000" stroke-width="1.6"/>
<circle cx="215.7" cy="1086" r="5.6" fill="none" stroke="#000" stroke-width="1.6"/>
<circle cx="265.6" cy="934.6" r="5.6" fill="none" stroke="#000" stroke-width="1.6"/>
<circle cx="265.6" cy="977" r="5.6" fill="none" stroke="#000" stroke-width="1.6"/>
<circle cx="265.6" cy="1002" r="5.6" fill="none" stroke="#000" stroke-width="1.6"/>
<circle cx="265.6" cy="1016.6" r="5.6" fill="none" stroke="#000" stroke-width="1.6"/>
<circle cx="265.6" cy="1036.5" r="5.6" fill="none" stroke="#000" stroke-width="1.6"/>
<line x1="128.4" y1="792.3" x2="263.7" y2="792.3" stroke="#000" stroke-width="2.7" stroke-linecap="butt"/>
<line x1="128.4" y1="840.8" x2="196" y2="840.8" stroke="#000" stroke-width="2.7" stroke-linecap="butt"/>
<text x="194" y="776.4" text-anchor="middle" fill="#1E1A1B" style="font-size:25px;font-weight:normal;letter-spacing:0.5px" >ns</text>
<path d="M139,809L139,825M132.07,813L145.93,821M132.07,821L145.93,813" stroke="#000" stroke-width="3.2" fill="none"/>
<path d="M164.8,809L164.8,825M157.87,813L171.73,821M157.87,821L171.73,813" stroke="#000" stroke-width="3.2" fill="none"/>
<path d="M190.6,809L190.6,825M183.67,813L197.53,821M183.67,821L197.53,813" stroke="#000" stroke-width="3.2" fill="none"/>
<text x="0" y="0" transform="translate(143.37,1160.65) rotate(-45)" text-anchor="end" fill="#1E1A1B" style="font-size:23.9px;font-weight:bold;letter-spacing:3px"  stroke="#1E1A1B" stroke-width="0.45">CCI</text>
<text x="0" y="0" transform="translate(217.01,1163.41) rotate(-45)" text-anchor="end" fill="#1E1A1B" style="font-size:23.9px;font-weight:bold;letter-spacing:1.4px"  stroke="#1E1A1B" stroke-width="0.45">iβ<tspan dx="-3"> </tspan>ARK</text>
<text x="0" y="0" transform="translate(282.21,1164.61) rotate(-45)" text-anchor="end" fill="#1E1A1B" style="font-size:23.9px;font-weight:bold;letter-spacing:1.37px"  stroke="#1E1A1B" stroke-width="0.45">mCherry</text>
<text x="0" y="0" transform="translate(37.3,962) rotate(-90)" text-anchor="middle" fill="#1E1A1B" style="font-size:23.5px;font-weight:bold;letter-spacing:1px"  stroke="#1E1A1B" stroke-width="0.45">mEPSC Frequency (Hz)</text>
<text x="395" y="774.5" text-anchor="start" fill="#2A2425" style="font-size:35px;font-weight:bold" stroke="#2A2425" stroke-width="0.7">f</text>
<line x1="554.3" y1="794.7" x2="554.3" y2="1136.3" stroke="#000" stroke-width="3" stroke-linecap="butt"/>
<line x1="540.5" y1="796.2" x2="554.3" y2="796.2" stroke="#000" stroke-width="3" stroke-linecap="butt"/>
<line x1="540.5" y1="965.8" x2="554.3" y2="965.8" stroke="#000" stroke-width="3" stroke-linecap="butt"/>
<line x1="540.5" y1="1134.8" x2="554.3" y2="1134.8" stroke="#000" stroke-width="3" stroke-linecap="butt"/>
<text x="536.1" y="806.11" text-anchor="end" fill="#1E1A1B" style="font-size:23px;font-weight:bold;letter-spacing:1.6px"  stroke="#1E1A1B" stroke-width="0.45">100</text>
<text x="536.1" y="975.71" text-anchor="end" fill="#1E1A1B" style="font-size:23px;font-weight:bold;letter-spacing:1.6px"  stroke="#1E1A1B" stroke-width="0.45">50</text>
<text x="536.1" y="1144.71" text-anchor="end" fill="#1E1A1B" style="font-size:23px;font-weight:bold;letter-spacing:1.6px"  stroke="#1E1A1B" stroke-width="0.45">0</text>
<line x1="540.5" y1="1134.8" x2="1062.8" y2="1134.8" stroke="#000" stroke-width="3" stroke-linecap="butt"/>
<line x1="554.3" y1="1134.8" x2="554.3" y2="1149.3" stroke="#000" stroke-width="3" stroke-linecap="butt"/>
<line x1="655.8" y1="1134.8" x2="655.8" y2="1149.3" stroke="#000" stroke-width="3" stroke-linecap="butt"/>
<line x1="757.3" y1="1134.8" x2="757.3" y2="1149.3" stroke="#000" stroke-width="3" stroke-linecap="butt"/>
<line x1="858.8" y1="1134.8" x2="858.8" y2="1149.3" stroke="#000" stroke-width="3" stroke-linecap="butt"/>
<line x1="960.3" y1="1134.8" x2="960.3" y2="1149.3" stroke="#000" stroke-width="3" stroke-linecap="butt"/>
<line x1="1061.8" y1="1134.8" x2="1061.8" y2="1149.3" stroke="#000" stroke-width="3" stroke-linecap="butt"/>
<text x="554.8" y="1177.8" text-anchor="middle" fill="#1E1A1B" style="font-size:23.6px;font-weight:bold;letter-spacing:1px"  stroke="#1E1A1B" stroke-width="0.45">0</text>
<text x="656.3" y="1177.8" text-anchor="middle" fill="#1E1A1B" style="font-size:23.6px;font-weight:bold;letter-spacing:1px"  stroke="#1E1A1B" stroke-width="0.45">1000</text>
<text x="757.8" y="1177.8" text-anchor="middle" fill="#1E1A1B" style="font-size:23.6px;font-weight:bold;letter-spacing:1px"  stroke="#1E1A1B" stroke-width="0.45">2000</text>
<text x="859.3" y="1177.8" text-anchor="middle" fill="#1E1A1B" style="font-size:23.6px;font-weight:bold;letter-spacing:1px"  stroke="#1E1A1B" stroke-width="0.45">3000</text>
<text x="960.8" y="1177.8" text-anchor="middle" fill="#1E1A1B" style="font-size:23.6px;font-weight:bold;letter-spacing:1px"  stroke="#1E1A1B" stroke-width="0.45">4000</text>
<text x="1062.3" y="1177.8" text-anchor="middle" fill="#1E1A1B" style="font-size:23.6px;font-weight:bold;letter-spacing:1px"  stroke="#1E1A1B" stroke-width="0.45">5000</text>
<text x="815.5" y="1219" text-anchor="middle" fill="#1E1A1B" style="font-size:23.5px;font-weight:bold;letter-spacing:1.2px"  stroke="#1E1A1B" stroke-width="0.45">Inter-event-interval (ms)</text>
<text x="0" y="0" transform="translate(469,962) rotate(-90)" text-anchor="middle" fill="#1E1A1B" style="font-size:24px;font-weight:bold;letter-spacing:1px"  stroke="#1E1A1B" stroke-width="0.45">Relative frequency (percentages)</text>
<polyline points="554.88,1135.52 558.79,1116.73 563.49,1101.06 567.41,1083.45 571.32,1069.74 577.2,1046.25 582.29,1036.46 586.99,1030.59 591.68,1022.76 596.77,1012.97 602.65,1007.09 608.52,1003.18 611.26,993.39 618.31,977.73 626.14,964.03 632.01,952.28 637.89,942.49 645.72,934.66 657.46,920.96 663.34,909.21 669.21,901.38 675.08,894.33 680.96,890.81 692.7,888.85 696.62,883.76 704.45,875.93 712.28,868.1 720.11,860.27 724.03,852.44 729.9,849.69 735.77,844.6 741.64,838.73 747.52,834.82 755.35,832.86 767.09,825.03 778.84,823.07 794.5,819.15 806.25,813.28 814.08,811.32 833.66,807.41 853.23,805.84 872.81,803.49 892.39,801.53 911.97,799.58 931.54,798.79 951.12,798.01 970.7,797.23 991.45,796.44" fill="none" stroke="#47A6B2" stroke-width="3" stroke-linejoin="round" />
<polyline points="554.88,1135.52 558.79,1104.98 563.49,1073.66 567.41,1046.25 571.32,1022.76 575.24,999.26 579.15,979.69 583.85,960.11 588.94,940.53 594.82,920.96 600.69,905.29 606.56,893.55 612.44,881.8 618.31,869.27 624.18,858.31 630.84,846.56 637.89,836.77 645.72,826.2 653.55,819.15 661.38,814.46 669.21,811.32 680.96,808.19 696.62,805.45 716.19,803.49 735.77,801.53 755.35,799.58 774.93,798.01 794.5,797.23 811.34,796.44" fill="none" stroke="#EE3F3F" stroke-width="3" stroke-linejoin="round" />
<polyline points="554.88,1135.52 558.79,1108.9 563.49,1077.57 568.19,1050.16 573.28,1022.76 577.98,999.26 583.07,975.77 589.73,948.36 596.77,924.87 602.65,911.17 608.52,901.38 613.61,893.55 618.31,883.76 626.14,868.1 633.97,850.48 641.8,838.73 649.63,830.9 655.51,824.24 661.38,819.15 669.21,817.2 677.04,815.24 690.74,813.28 704.45,809.37 708.36,804.28 724.03,802.71 743.6,801.53 759.26,799.58 774.93,798.4 794.5,797.23 810.16,796.44" fill="none" stroke="#E8338F" stroke-width="3" stroke-linejoin="round" />
<line x1="832.9" y1="924.6" x2="869.3" y2="924.6" stroke="#EE3F3F" stroke-width="3.2" stroke-linecap="butt"/>
<text x="889" y="933.6" text-anchor="start" fill="#1E1A1B" style="font-size:24px;font-weight:bold;letter-spacing:1.2px"  stroke="#1E1A1B" stroke-width="0.45">CCI</text>
<line x1="832.9" y1="970.3" x2="869.3" y2="970.3" stroke="#47A6B2" stroke-width="3.2" stroke-linecap="butt"/>
<text x="889" y="979.3" text-anchor="start" fill="#1E1A1B" style="font-size:24px;font-weight:bold;letter-spacing:1.2px"  stroke="#1E1A1B" stroke-width="0.45">iβARK</text>
<line x1="832.9" y1="1016" x2="869.3" y2="1016" stroke="#E8338F" stroke-width="3.2" stroke-linecap="butt"/>
<text x="889" y="1025" text-anchor="start" fill="#1E1A1B" style="font-size:24px;font-weight:bold;letter-spacing:1.2px"  stroke="#1E1A1B" stroke-width="0.45">mCherry</text>
<text x="5.5" y="1278" text-anchor="start" fill="#2A2425" style="font-size:35px;font-weight:bold" stroke="#2A2425" stroke-width="0.7">g</text>
<line x1="84.4" y1="1306.5" x2="84.4" y2="1649.5" stroke="#000" stroke-width="3" stroke-linecap="butt"/>
<line x1="71" y1="1308" x2="84.4" y2="1308" stroke="#000" stroke-width="3" stroke-linecap="butt"/>
<line x1="71" y1="1376" x2="84.4" y2="1376" stroke="#000" stroke-width="3" stroke-linecap="butt"/>
<line x1="71" y1="1444" x2="84.4" y2="1444" stroke="#000" stroke-width="3" stroke-linecap="butt"/>
<line x1="71" y1="1512" x2="84.4" y2="1512" stroke="#000" stroke-width="3" stroke-linecap="butt"/>
<line x1="71" y1="1580" x2="84.4" y2="1580" stroke="#000" stroke-width="3" stroke-linecap="butt"/>
<line x1="71" y1="1648" x2="84.4" y2="1648" stroke="#000" stroke-width="3" stroke-linecap="butt"/>
<text x="67.6" y="1317.91" text-anchor="end" fill="#1E1A1B" style="font-size:23px;font-weight:bold;letter-spacing:1.6px"  stroke="#1E1A1B" stroke-width="0.45">25</text>
<text x="67.6" y="1385.91" text-anchor="end" fill="#1E1A1B" style="font-size:23px;font-weight:bold;letter-spacing:1.6px"  stroke="#1E1A1B" stroke-width="0.45">20</text>
<text x="67.6" y="1453.91" text-anchor="end" fill="#1E1A1B" style="font-size:23px;font-weight:bold;letter-spacing:1.6px"  stroke="#1E1A1B" stroke-width="0.45">15</text>
<text x="67.6" y="1521.91" text-anchor="end" fill="#1E1A1B" style="font-size:23px;font-weight:bold;letter-spacing:1.6px"  stroke="#1E1A1B" stroke-width="0.45">10</text>
<text x="67.6" y="1589.91" text-anchor="end" fill="#1E1A1B" style="font-size:23px;font-weight:bold;letter-spacing:1.6px"  stroke="#1E1A1B" stroke-width="0.45">5</text>
<text x="67.6" y="1657.91" text-anchor="end" fill="#1E1A1B" style="font-size:23px;font-weight:bold;letter-spacing:1.6px"  stroke="#1E1A1B" stroke-width="0.45">0</text>
<rect x="109.9" y="1423.2" width="39.8" height="224.8" fill="#F33F43" stroke="#000" stroke-width="2.8"/>
<rect x="177.6" y="1474" width="40.6" height="174" fill="#52A8B3" stroke="#000" stroke-width="2.8"/>
<rect x="245.2" y="1409.2" width="41.7" height="238.8" fill="#F6308F" stroke="#000" stroke-width="2.8"/>
<line x1="71" y1="1648" x2="312.6" y2="1648" stroke="#000" stroke-width="3" stroke-linecap="butt"/>
<line x1="130.3" y1="1648" x2="130.3" y2="1662" stroke="#000" stroke-width="3" stroke-linecap="butt"/>
<line x1="198" y1="1648" x2="198" y2="1662" stroke="#000" stroke-width="3" stroke-linecap="butt"/>
<line x1="265.6" y1="1648" x2="265.6" y2="1662" stroke="#000" stroke-width="3" stroke-linecap="butt"/>
<line x1="130.3" y1="1405.2" x2="130.3" y2="1435.6" stroke="#000" stroke-width="1.8" stroke-linecap="butt"/>
<line x1="119.3" y1="1405.2" x2="141.3" y2="1405.2" stroke="#000" stroke-width="2.1" stroke-linecap="butt"/>
<line x1="119.3" y1="1435.6" x2="141.3" y2="1435.6" stroke="#000" stroke-width="2.1" stroke-linecap="butt"/>
<line x1="198" y1="1464" x2="198" y2="1478.5" stroke="#000" stroke-width="1.8" stroke-linecap="butt"/>
<line x1="187" y1="1464" x2="209" y2="1464" stroke="#000" stroke-width="2.1" stroke-linecap="butt"/>
<line x1="187" y1="1478.5" x2="209" y2="1478.5" stroke="#000" stroke-width="2.1" stroke-linecap="butt"/>
<line x1="265.6" y1="1390.4" x2="265.6" y2="1422.9" stroke="#000" stroke-width="1.8" stroke-linecap="butt"/>
<line x1="254.6" y1="1390.4" x2="276.6" y2="1390.4" stroke="#000" stroke-width="2.1" stroke-linecap="butt"/>
<line x1="254.6" y1="1422.9" x2="276.6" y2="1422.9" stroke="#000" stroke-width="2.1" stroke-linecap="butt"/>
<circle cx="130.3" cy="1357.2" r="5.6" fill="none" stroke="#000" stroke-width="1.6"/>
<circle cx="130.3" cy="1383.3" r="5.6" fill="none" stroke="#000" stroke-width="1.6"/>
<circle cx="130.3" cy="1396" r="5.6" fill="none" stroke="#000" stroke-width="1.6"/>
<circle cx="130.3" cy="1423.6" r="5.6" fill="none" stroke="#000" stroke-width="1.6"/>
<circle cx="112.3" cy="1428.7" r="5.6" fill="none" stroke="#000" stroke-width="1.6"/>
<circle cx="147.6" cy="1430" r="5.6" fill="none" stroke="#000" stroke-width="1.6"/>
<circle cx="130.3" cy="1451.7" r="5.6" fill="none" stroke="#000" stroke-width="1.6"/>
<circle cx="130.3" cy="1494.2" r="5.6" fill="none" stroke="#000" stroke-width="1.6"/>
<circle cx="198" cy="1421.6" r="5.6" fill="none" stroke="#000" stroke-width="1.6"/>
<circle cx="180" cy="1456" r="5.6" fill="none" stroke="#000" stroke-width="1.6"/>
<circle cx="215.7" cy="1455.5" r="5.6" fill="none" stroke="#000" stroke-width="1.6"/>
<circle cx="198" cy="1463.4" r="5.6" fill="none" stroke="#000" stroke-width="1.6"/>
<circle cx="180" cy="1469.5" r="5.6" fill="none" stroke="#000" stroke-width="1.6"/>
<circle cx="215.7" cy="1470.5" r="5.6" fill="none" stroke="#000" stroke-width="1.6"/>
<circle cx="180" cy="1488.5" r="5.6" fill="none" stroke="#000" stroke-width="1.6"/>
<circle cx="198" cy="1492.9" r="5.6" fill="none" stroke="#000" stroke-width="1.6"/>
<circle cx="215.7" cy="1496.7" r="5.6" fill="none" stroke="#000" stroke-width="1.6"/>
<circle cx="180" cy="1499" r="5.6" fill="none" stroke="#000" stroke-width="1.6"/>
<circle cx="265.6" cy="1363.1" r="5.6" fill="none" stroke="#000" stroke-width="1.6"/>
<circle cx="255.3" cy="1393" r="5.6" fill="none" stroke="#000" stroke-width="1.6"/>
<circle cx="275.7" cy="1387.9" r="5.6" fill="none" stroke="#000" stroke-width="1.6"/>
<circle cx="255.3" cy="1443.5" r="5.6" fill="none" stroke="#000" stroke-width="1.6"/>
<circle cx="275.7" cy="1442.8" r="5.6" fill="none" stroke="#000" stroke-width="1.6"/>
<line x1="131.5" y1="1297.7" x2="266.8" y2="1297.7" stroke="#000" stroke-width="2.7" stroke-linecap="butt"/>
<line x1="131.5" y1="1338.1" x2="199.1" y2="1338.1" stroke="#000" stroke-width="2.7" stroke-linecap="butt"/>
<text x="197.3" y="1281.8" text-anchor="middle" fill="#1E1A1B" style="font-size:25px;font-weight:normal;letter-spacing:0.5px" >ns</text>
<path d="M157.3,1306.5L157.3,1322.5M150.37,1310.5L164.23,1318.5M150.37,1318.5L164.23,1310.5" stroke="#000" stroke-width="3.2" fill="none"/>
<path d="M182.3,1306.5L182.3,1322.5M175.37,1310.5L189.23,1318.5M175.37,1318.5L189.23,1310.5" stroke="#000" stroke-width="3.2" fill="none"/>
<text x="0" y="0" transform="translate(141.37,1679.55) rotate(-45)" text-anchor="end" fill="#1E1A1B" style="font-size:23.9px;font-weight:bold;letter-spacing:3px"  stroke="#1E1A1B" stroke-width="0.45">CCI</text>
<text x="0" y="0" transform="translate(210.71,1681.31) rotate(-45)" text-anchor="end" fill="#1E1A1B" style="font-size:23.9px;font-weight:bold;letter-spacing:1.4px"  stroke="#1E1A1B" stroke-width="0.45">iβ<tspan dx="-3"> </tspan>ARK</text>
<text x="0" y="0" transform="translate(280.11,1678.31) rotate(-45)" text-anchor="end" fill="#1E1A1B" style="font-size:23.9px;font-weight:bold;letter-spacing:1.37px"  stroke="#1E1A1B" stroke-width="0.45">mCherry</text>
<text x="0" y="0" transform="translate(21.5,1481.5) rotate(-90)" text-anchor="middle" fill="#1E1A1B" style="font-size:23.8px;font-weight:bold;letter-spacing:1.25px"  stroke="#1E1A1B" stroke-width="0.45">Amplitude(pA)</text>
<text x="390.5" y="1286.3" text-anchor="start" fill="#2A2425" style="font-size:35px;font-weight:bold" stroke="#2A2425" stroke-width="0.7">h</text>
<line x1="552" y1="1309.3" x2="552" y2="1651.3" stroke="#000" stroke-width="3" stroke-linecap="butt"/>
<line x1="540.5" y1="1310.8" x2="552" y2="1310.8" stroke="#000" stroke-width="3" stroke-linecap="butt"/>
<line x1="540.5" y1="1480.5" x2="552" y2="1480.5" stroke="#000" stroke-width="3" stroke-linecap="butt"/>
<line x1="540.5" y1="1649.8" x2="552" y2="1649.8" stroke="#000" stroke-width="3" stroke-linecap="butt"/>
<text x="536.1" y="1320.71" text-anchor="end" fill="#1E1A1B" style="font-size:23px;font-weight:bold;letter-spacing:1.6px"  stroke="#1E1A1B" stroke-width="0.45">100</text>
<text x="536.1" y="1490.41" text-anchor="end" fill="#1E1A1B" style="font-size:23px;font-weight:bold;letter-spacing:1.6px"  stroke="#1E1A1B" stroke-width="0.45">50</text>
<text x="536.1" y="1659.71" text-anchor="end" fill="#1E1A1B" style="font-size:23px;font-weight:bold;letter-spacing:1.6px"  stroke="#1E1A1B" stroke-width="0.45">0</text>
<line x1="540.5" y1="1649.8" x2="1060.7" y2="1649.8" stroke="#000" stroke-width="3" stroke-linecap="butt"/>
<line x1="552" y1="1649.8" x2="552" y2="1664.3" stroke="#000" stroke-width="3" stroke-linecap="butt"/>
<line x1="679.3" y1="1649.8" x2="679.3" y2="1664.3" stroke="#000" stroke-width="3" stroke-linecap="butt"/>
<line x1="806.1" y1="1649.8" x2="806.1" y2="1664.3" stroke="#000" stroke-width="3" stroke-linecap="butt"/>
<line x1="932.9" y1="1649.8" x2="932.9" y2="1664.3" stroke="#000" stroke-width="3" stroke-linecap="butt"/>
<line x1="1059.7" y1="1649.8" x2="1059.7" y2="1664.3" stroke="#000" stroke-width="3" stroke-linecap="butt"/>
<text x="552.5" y="1692.8" text-anchor="middle" fill="#1E1A1B" style="font-size:23.6px;font-weight:bold;letter-spacing:1px"  stroke="#1E1A1B" stroke-width="0.45">0</text>
<text x="679.8" y="1692.8" text-anchor="middle" fill="#1E1A1B" style="font-size:23.6px;font-weight:bold;letter-spacing:1px"  stroke="#1E1A1B" stroke-width="0.45">20</text>
<text x="806.6" y="1692.8" text-anchor="middle" fill="#1E1A1B" style="font-size:23.6px;font-weight:bold;letter-spacing:1px"  stroke="#1E1A1B" stroke-width="0.45">40</text>
<text x="933.4" y="1692.8" text-anchor="middle" fill="#1E1A1B" style="font-size:23.6px;font-weight:bold;letter-spacing:1px"  stroke="#1E1A1B" stroke-width="0.45">60</text>
<text x="1060.2" y="1692.8" text-anchor="middle" fill="#1E1A1B" style="font-size:23.6px;font-weight:bold;letter-spacing:1px"  stroke="#1E1A1B" stroke-width="0.45">80</text>
<text x="802" y="1733" text-anchor="middle" fill="#1E1A1B" style="font-size:23.5px;font-weight:bold;letter-spacing:1.2px"  stroke="#1E1A1B" stroke-width="0.45">Amplitude (pA)</text>
<text x="0" y="0" transform="translate(469,1477) rotate(-90)" text-anchor="middle" fill="#1E1A1B" style="font-size:24px;font-weight:bold;letter-spacing:1px"  stroke="#1E1A1B" stroke-width="0.45">Relative frequency (percentages)</text>
<polyline points="582.85,1649.49 587.36,1646.34 591.87,1632.81 596.38,1605.74 600.89,1578.68 605.4,1556.13 609.91,1529.06 614.42,1502 618.94,1474.93 623.45,1445.62 630.21,1425.32 636.98,1411.79 643.74,1396 650.51,1380.21 661.79,1368.94 675.32,1362.17 684.34,1348.64 702.38,1337.36 720.42,1328.34 742.98,1322.48 765.53,1319.32 792.59,1315.71 833.19,1313.46 878.29,1311.65 914.38,1310.3" fill="none" stroke="#47A6B2" stroke-width="3" stroke-linejoin="round" />
<polyline points="571.57,1649.49 585.11,1641.83 591.87,1635.06 596.38,1626.04 603.15,1605.74 609.91,1583.19 616.68,1556.13 623.45,1533.57 630.21,1511.02 636.98,1488.47 643.74,1470.42 652.76,1447.87 661.79,1429.83 673.06,1411.79 684.34,1393.74 695.62,1375.7 706.89,1364.42 720.42,1353.15 729.45,1350.89 747.49,1340.52 765.53,1330.6 788.08,1321.57 810.64,1317.06 833.19,1313.46 878.29,1311.65 914.38,1310.3" fill="none" stroke="#EE3F3F" stroke-width="3" stroke-linejoin="round" />
<polyline points="573.83,1649.49 585.11,1644.08 594.13,1632.81 600.89,1614.76 607.66,1587.7 614.42,1560.64 621.19,1538.08 627.96,1511.02 634.72,1483.96 641.49,1461.4 650.51,1443.36 659.53,1420.81 670.81,1407.28 679.83,1398.25 688.85,1389.23 700.13,1384.72 711.4,1375.7 720.42,1362.17 733.96,1350.89 752,1339.62 774.55,1332.85 801.61,1323.83 833.19,1317.06 878.29,1312.55 914.38,1310.3 1031.66,1310.3" fill="none" stroke="#E8338F" stroke-width="3" stroke-linejoin="round" />
<line x1="832.9" y1="1457.5" x2="869.3" y2="1457.5" stroke="#EE3F3F" stroke-width="3.2" stroke-linecap="butt"/>
<text x="889" y="1466.5" text-anchor="start" fill="#1E1A1B" style="font-size:24px;font-weight:bold;letter-spacing:1.2px"  stroke="#1E1A1B" stroke-width="0.45">CCI</text>
<line x1="832.9" y1="1503" x2="869.3" y2="1503" stroke="#47A6B2" stroke-width="3.2" stroke-linecap="butt"/>
<text x="889" y="1512" text-anchor="start" fill="#1E1A1B" style="font-size:24px;font-weight:bold;letter-spacing:1.2px"  stroke="#1E1A1B" stroke-width="0.45">iβARK</text>
<line x1="832.9" y1="1549" x2="869.3" y2="1549" stroke="#E8338F" stroke-width="3.2" stroke-linecap="butt"/>
<text x="889" y="1558" text-anchor="start" fill="#1E1A1B" style="font-size:24px;font-weight:bold;letter-spacing:1.2px"  stroke="#1E1A1B" stroke-width="0.45">mCherry</text>
<text x="9.8" y="1781.3" text-anchor="start" fill="#2A2425" style="font-size:35px;font-weight:bold" stroke="#2A2425" stroke-width="0.7">i</text>
<text x="41.3" y="1785.2" text-anchor="start" fill="#EF2B31" style="font-size:24.3px;font-weight:bold;letter-spacing:0.8px"  stroke="#EF2B31" stroke-width="0.45">CCI</text>
<text x="405.5" y="1784" text-anchor="start" fill="#3FA6B3" style="font-size:24.3px;font-weight:bold;letter-spacing:0.6px"  stroke="#3FA6B3" stroke-width="0.45">iβ<tspan dx="-3.5"> </tspan>ARK</text>
<text x="763.5" y="1785.7" text-anchor="start" fill="#EA2F8E" style="font-size:24.3px;font-weight:bold;letter-spacing:0.95px"  stroke="#EA2F8E" stroke-width="0.45">mCherry</text>
<polyline points="35.7,1803.8 50.4,1803.8 50.4,1789.1 52.4,1789.1 52.8,1918.5 53.3,1918.5 53.52,1898.43 53.74,1880.87 53.96,1865.76 54.18,1853.03 54.4,1842.61 54.62,1834.42 54.84,1828.36 55.06,1824.31 55.28,1822.11 55.5,1821.5 56.35,1822.2 57.2,1824.28 58.05,1827.63 58.9,1832.08 59.75,1837.41 60.6,1843.35 61.45,1849.6 62.3,1855.85 63.15,1861.79 64,1867.12 64.85,1871.57 65.7,1874.92 66.55,1877 67.4,1877.7 67.49,1877.74 67.66,1877.91 67.9,1877.88 68.19,1877.92 68.53,1877.28 68.91,1877.72 69.34,1877.11 69.8,1876.95 70.3,1876.55 70.83,1876.2 71.39,1875.03 71.99,1874.44 72.62,1874.01 73.27,1873.08 73.96,1872.34 74.67,1871.05 75.41,1870.58 76.18,1868.69 76.98,1868.25 77.79,1866.83 78.64,1865.37 79.51,1864.79 80.4,1863.05 81.32,1862.01 82.26,1860.89 83.22,1859.52 84.2,1858.3 85.21,1857 86.24,1856.48 87.29,1854.57 88.36,1853.43 89.45,1852.15 90.56,1851.7 91.7,1850.19 92.85,1849.27 94.02,1848.25 95.22,1846.68 96.43,1845.46 97.66,1844.35 98.91,1843.15 100.18,1842.37 101.47,1841.66 102.78,1840.21 104.1,1839.43 105.45,1838.56 106.81,1837.54 108.19,1836.45 109.58,1835.42 111,1834.12 112.43,1833.49 113.88,1833.07 115.35,1831.87 116.83,1831.27 118.33,1830.11 119.85,1829.64 121.38,1828.57 122.94,1828.36 124.5,1827.69 126.09,1826.3 127.69,1826.23 129.3,1825.09 130.93,1825.24 132.58,1823.96 134.24,1823.35 135.92,1823.49 137.62,1822.71 139.33,1821.65 141.05,1821.57 142.79,1821.42 144.55,1820.37 146.32,1820.46 148.11,1819.62 149.91,1819.35 151.72,1818.92 153.55,1818.24 155.4,1818.18 157.26,1817.96 159.13,1817.72 161.02,1817.33 162.92,1816.7 164.84,1816.8 166.77,1816.24 168.72,1816.52 170.68,1815.55 172.65,1815.92 174.64,1815.07 176.64,1815.28 178.66,1814.88 180.69,1814.78 182.73,1814.79 184.79,1814.71 186.86,1813.82 188.95,1814.45 191.04,1814.08 193.16,1813.44 195.28,1813.83 197.42,1813.8 199.57,1813.28 201.73,1813.62 203.91,1812.86 206.1,1813.01 208.31,1812.72 210.52,1813.14 212.75,1812.58 215,1812.45 217.25,1813.04 219.52,1812.43 221.8,1812.4 224.09,1812.55 226.4,1812.01 227.4,1812.01 227.4,1789.1 229.4,1789.1 229.8,1918.5 230.3,1918.5 230.56,1900.54 230.82,1884.83 231.08,1871.3 231.34,1859.91 231.6,1850.59 231.86,1843.26 232.12,1837.84 232.38,1834.22 232.64,1832.25 232.9,1831.7 233.65,1832.43 234.4,1834.57 235.15,1838.02 235.9,1842.6 236.65,1848.09 237.4,1854.21 238.15,1860.65 238.9,1867.09 239.65,1873.21 240.4,1878.7 241.15,1883.28 241.9,1886.73 242.65,1888.87 243.4,1889.6 243.48,1889.88 243.64,1889.76 243.86,1889.55 244.13,1889.75 244.44,1889.7 244.79,1888.81 245.18,1889.32 245.61,1888.57 246.07,1888.36 246.56,1887.72 247.08,1887.33 247.63,1886.41 248.2,1885.11 248.81,1884.1 249.44,1883.34 250.1,1882.14 250.78,1880.98 251.49,1880.08 252.22,1878.8 252.97,1877.43 253.75,1876.45 254.55,1874.55 255.37,1873.45 256.21,1872.07 257.08,1870.82 257.96,1869.64 258.87,1867.97 259.8,1866.02 260.74,1865.13 261.71,1863.5 262.7,1862.15 263.7,1860.88 264.73,1859.17 265.77,1858.31 266.83,1856.56 267.91,1855.2 269.01,1854.03 270.13,1852.27 271.26,1851.22 272.41,1850.55 273.58,1848.51 274.77,1847.52 275.97,1846.66 277.19,1845.21 278.43,1844.18 279.68,1843.26 280.96,1842.15 282.24,1840.7 283.54,1839.57 284.86,1838.24 286.2,1837.9 287.55,1836.38 288.91,1835.73 290.3,1834.5 291.69,1834.17 293.11,1833.04 294.53,1831.89 295.98,1831.5 297.44,1830.26 298.91,1829.73 300.4,1828.94 301.9,1828.65 303.41,1827.81 304.95,1826.8 306.49,1826.26 308.05,1825.74 309.63,1825.49 311.22,1824.48 312.82,1824.28 314.43,1823.13 316.07,1822.66 317.71,1822.76 319.37,1821.91 321.04,1821.17 322.73,1820.87 324.42,1820.65 326.14,1819.95 327.86,1819.82 329.6,1820.01 331.35,1818.83 333.12,1818.74 334.9,1818.38 336.69,1817.92 338.5,1818.34 340.31,1817.45 342.14,1817.11 343.99,1817.07 345.84,1816.5 347.71,1816.62 349.59,1816.13 351.49,1816.21 353.4,1815.69 355.31,1816.15 357.25,1815.64 359.19,1815.59 361.15,1815.04 363.11,1814.73 365.1,1814.76 367.09,1814.85 369.09,1814.26 371.11,1814.3 373.14,1814.85 375.18,1814.16 377.23,1813.96 379.3,1814.42 381.38,1813.85 383.46,1814 385.56,1813.88 387.68,1813.77 389.8,1813.29" fill="none" stroke="#DA5560" stroke-width="1" stroke-linejoin="round" />
<polyline points="409.7,1807.2 424,1807.2 424,1792.6 426,1792.6 426.4,1921.9 426.9,1921.9 427.47,1898.46 428.04,1877.95 428.61,1860.29 429.18,1845.43 429.75,1833.26 430.32,1823.69 430.89,1816.61 431.46,1811.88 432.03,1809.31 432.6,1808.6 434.06,1809.21 435.51,1811.01 436.97,1813.9 438.43,1817.75 439.89,1822.36 441.34,1827.49 442.8,1832.9 444.26,1838.31 445.71,1843.44 447.17,1848.05 448.63,1851.9 450.09,1854.79 451.54,1856.59 453,1857.2 453.08,1857.49 453.24,1857.23 453.46,1856.86 453.74,1857.5 454.05,1857.17 454.41,1856.88 454.8,1857.19 455.23,1856.83 455.7,1856.02 456.19,1855.59 456.72,1855.45 457.27,1854.86 457.86,1854.29 458.47,1854.12 459.11,1853.16 459.77,1853.2 460.46,1852.08 461.17,1851.1 461.91,1850.71 462.68,1849.97 463.46,1848.94 464.27,1848.54 465.1,1847.3 465.95,1847.04 466.83,1845.52 467.72,1844.81 468.64,1844.09 469.58,1843.04 470.53,1842.12 471.51,1841.82 472.51,1840.36 473.52,1840.12 474.56,1838.87 475.62,1837.98 476.69,1837.46 477.78,1836.2 478.89,1836 480.02,1834.47 481.17,1834.48 482.33,1833.73 483.51,1832.68 484.71,1831.69 485.93,1830.92 487.16,1830.59 488.41,1829.96 489.68,1829.24 490.97,1828.5 492.27,1827.62 493.58,1827.45 494.92,1826.37 496.27,1825.68 497.63,1824.93 499.01,1824.36 500.41,1823.64 501.82,1823.6 503.25,1823.39 504.69,1822.63 506.15,1822.38 507.63,1821.36 509.11,1821.49 510.62,1820.68 512.14,1819.99 513.67,1819.62 515.22,1819.09 516.78,1818.7 518.36,1818.91 519.95,1818.3 521.56,1817.68 523.18,1817.91 524.81,1817.44 526.46,1817.26 528.12,1816.55 529.8,1816.78 531.49,1815.91 533.19,1816.02 534.91,1815.38 536.64,1815.52 538.39,1814.65 540.14,1814.46 541.92,1814.81 543.7,1814.75 545.5,1814.19 547.31,1814.41 549.13,1813.41 550.97,1813.63 552.82,1813.41 554.69,1813.17 556.56,1813.2 558.45,1813.47 560.35,1812.6 562.27,1813.06 564.2,1812.68 566.14,1812.28 568.09,1812.87 570.06,1812.62 572.03,1812.42 574.02,1812.34 576.03,1812.18 578.04,1811.59 580.07,1812.24 582.11,1811.65 584.16,1811.85 586.22,1811.87 588.3,1811.63 590.38,1811.77 592.48,1811.82 594.59,1811.74 596.72,1811.72 598.85,1811.71 601,1811.73 602,1811.73 602,1792.6 604,1792.6 604.4,1921.9 604.9,1921.9 605.54,1899.58 606.18,1880.04 606.82,1863.23 607.46,1849.07 608.1,1837.48 608.74,1828.37 609.38,1821.63 610.02,1817.13 610.66,1814.68 611.3,1814 612.64,1814.94 613.97,1817.71 615.31,1822.17 616.64,1828.1 617.98,1835.2 619.31,1843.12 620.65,1851.45 621.99,1859.78 623.32,1867.7 624.66,1874.8 625.99,1880.73 627.33,1885.19 628.66,1887.96 630,1888.9 630.07,1889.23 630.22,1889.16 630.42,1888.7 630.67,1889.01 630.96,1889.06 631.28,1888.74 631.64,1888.18 632.03,1887.9 632.45,1887.88 632.9,1887.52 633.38,1886.79 633.88,1885.87 634.41,1884.72 634.97,1884.54 635.55,1883.36 636.15,1882.21 636.78,1881.6 637.43,1880.14 638.1,1878.58 638.79,1877.83 639.51,1876.86 640.24,1875.03 641,1874.08 641.77,1872.74 642.57,1871.16 643.38,1870.18 644.21,1868.66 645.06,1866.83 645.93,1865.75 646.82,1864.48 647.73,1862.81 648.65,1862.12 649.59,1860.94 650.55,1858.9 651.53,1857.97 652.52,1856.14 653.53,1855.7 654.56,1854.2 655.6,1853.21 656.66,1851.91 657.73,1850.53 658.82,1848.71 659.93,1847.67 661.05,1846.8 662.18,1845.48 663.34,1844.44 664.5,1843.44 665.68,1842.72 666.88,1841.25 668.09,1840.29 669.32,1840.01 670.56,1838.62 671.82,1837.39 673.08,1836.41 674.37,1835.67 675.67,1835.21 676.98,1834.61 678.3,1833.95 679.64,1832.76 681,1831.59 682.36,1831.64 683.74,1830.26 685.14,1830.23 686.54,1829.33 687.96,1829.09 689.4,1828.45 690.84,1827.17 692.3,1827.21 693.78,1826.41 695.26,1825.69 696.76,1825.71 698.27,1824.87 699.79,1824.46 701.33,1823.72 702.88,1823.39 704.44,1823.4 706.01,1822.49 707.6,1822.28 709.19,1822.3 710.8,1821.69 712.43,1821.43 714.06,1821.29 715.71,1821.09 717.37,1820.7 719.04,1820.02 720.72,1820.16 722.41,1819.29 724.12,1819.16 725.83,1818.84 727.56,1818.96 729.3,1819.2 731.05,1818.89 732.82,1818.73 734.59,1818.66 736.38,1818.32 738.18,1818.24 739.98,1817.84 741.8,1817.77 743.63,1817.07 745.48,1817.08 747.33,1816.81 749.19,1816.91 751.07,1817.14 752.96,1816.82 754.85,1817.25 756.76,1817.1 758.68,1816.56 760.61,1816.19 762.55,1816.44 764.5,1816.53" fill="none" stroke="#5BB8BE" stroke-width="1" stroke-linejoin="round" />
<polyline points="778.7,1803.8 791.3,1803.8 791.3,1789.1 793.3,1789.1 793.7,1918.5 794.2,1918.5 794.8,1898.64 795.4,1881.26 796,1866.3 796.6,1853.7 797.2,1843.39 797.8,1835.29 798.4,1829.29 799,1825.28 799.6,1823.11 800.2,1822.5 800.98,1823.27 801.76,1825.54 802.54,1829.19 803.31,1834.04 804.09,1839.85 804.87,1846.33 805.65,1853.15 806.43,1859.97 807.21,1866.45 807.99,1872.26 808.76,1877.11 809.54,1880.76 810.32,1883.03 811.1,1883.8 811.19,1883.39 811.36,1883.45 811.59,1884.13 811.88,1883.97 812.22,1883.91 812.6,1883.66 813.02,1883 813.47,1882.54 813.96,1882.37 814.49,1881.42 815.05,1881.2 815.64,1880.43 816.26,1879.76 816.91,1878.72 817.59,1877.34 818.29,1876.44 819.02,1875.73 819.78,1874.65 820.57,1872.81 821.38,1872.11 822.21,1870.48 823.07,1869.13 823.95,1867.48 824.86,1866.2 825.79,1865.05 826.74,1864.12 827.71,1862.51 828.71,1860.84 829.72,1859.45 830.76,1858.4 831.82,1856.67 832.9,1855.29 834,1854.14 835.12,1853.37 836.26,1851.33 837.42,1850.55 838.6,1848.94 839.8,1847.75 841.02,1846.55 842.25,1845.54 843.51,1844.45 844.78,1843.23 846.08,1842.29 847.39,1841.03 848.72,1839.5 850.06,1838.46 851.43,1837.94 852.81,1836.79 854.21,1835.11 855.62,1834.81 857.06,1833.94 858.51,1832.79 859.97,1831.64 861.46,1831.01 862.96,1829.76 864.47,1829.18 866.01,1828.48 867.56,1827.35 869.12,1827 870.7,1826.08 872.3,1825.76 873.91,1824.25 875.54,1824.3 877.19,1823.48 878.85,1822.61 880.52,1821.87 882.21,1821.19 883.92,1820.67 885.64,1820.65 887.37,1820.1 889.13,1819.36 890.89,1819.22 892.67,1818.82 894.47,1818.54 896.28,1817.9 898.1,1817.29 899.94,1816.92 901.79,1816.76 903.66,1816.1 905.54,1815.8 907.44,1815.22 909.35,1815.5 911.27,1814.99 913.21,1814.94 915.16,1814.51 917.13,1814.2 919.11,1814.2 921.1,1813.7 923.11,1813.14 925.13,1813.01 927.16,1813.11 929.21,1812.74 931.27,1812.93 933.34,1812.42 935.43,1811.86 937.53,1812.23 939.65,1811.61 941.77,1812.06 943.91,1811.29 946.07,1811.4 948.23,1811.66 950.41,1811.25 952.6,1811.55 954.81,1811.48 957.02,1810.94 959.25,1811.1 961.5,1810.57 963.75,1810.81 966.02,1810.79 968.3,1810.65 969.4,1810.65 969.4,1789.1 971.4,1789.1 971.8,1918.5 972.3,1918.5 972.72,1900.54 973.14,1884.83 973.56,1871.3 973.98,1859.91 974.4,1850.59 974.82,1843.26 975.24,1837.84 975.66,1834.22 976.08,1832.25 976.5,1831.7 977.21,1832.37 977.91,1834.36 978.62,1837.57 979.33,1841.83 980.04,1846.93 980.74,1852.61 981.45,1858.6 982.16,1864.59 982.86,1870.27 983.57,1875.37 984.28,1879.63 984.99,1882.84 985.69,1884.83 986.4,1885.5 986.48,1885.15 986.64,1885.47 986.86,1885.06 987.13,1885.17 987.44,1885.17 987.79,1884.66 988.18,1884.75 988.61,1884.61 989.07,1884.01 989.56,1883.15 990.08,1882.46 990.63,1882.01 991.2,1881.53 991.81,1880.65 992.44,1879.87 993.1,1878.14 993.78,1877.48 994.49,1876.63 995.22,1875.36 995.97,1873.99 996.75,1872.67 997.55,1871.54 998.37,1870.09 999.21,1868.8 1000.08,1867.18 1000.96,1865.83 1001.87,1864.29 1002.8,1863.22 1003.74,1861.54 1004.71,1860.29 1005.7,1859.15 1006.7,1858.1 1007.73,1856.03 1008.77,1854.93 1009.83,1853.42 1010.91,1852.84 1012.01,1850.76 1013.13,1849.47 1014.26,1848.72 1015.41,1846.99 1016.58,1846.22 1017.77,1845.24 1018.97,1843.47 1020.19,1842.63 1021.43,1841.97 1022.68,1840.7 1023.96,1839.09 1025.24,1838.57 1026.54,1837.14 1027.86,1836 1029.2,1835.84 1030.55,1834.41 1031.91,1833.72 1033.3,1832.55 1034.69,1831.8 1036.11,1831.03 1037.53,1830.26 1038.98,1829.32 1040.44,1828.54 1041.91,1828.17 1043.4,1826.91 1044.9,1826.42 1046.41,1826.27 1047.95,1825.18 1049.49,1824.59 1051.05,1824.18 1052.63,1823.46 1054.22,1822.89 1055.82,1822.38 1057.43,1821.79 1059.07,1821.38 1060.71,1821.18 1062.37,1820.12 1064.04,1820.09 1065.73,1819.25 1067.42,1818.77 1069.14,1819.06 1070.86,1818.69 1072.6,1818.27 1074.35,1817.87 1076.12,1817.22 1077.9,1817.06 1079.69,1816.31 1081.5,1816.12 1083.31,1815.91 1085.14,1816.22 1086.99,1815.34 1088.84,1815.75 1090.71,1814.84 1092.59,1814.48 1094.49,1815.14 1096.4,1814.27 1098.31,1814.1 1100.25,1813.91 1102.19,1814.16 1104.15,1813.86 1106.11,1813.6 1108.1,1813.79 1110.09,1812.96 1112.09,1813.04 1114.11,1813.48 1116.14,1813.34 1118.18,1813.03 1120.23,1812.52 1122.3,1813 1124.38,1812.3 1126.46,1812.53 1128.56,1812.11 1130.68,1811.93 1132.8,1812.25" fill="none" stroke="#D55FB9" stroke-width="1" stroke-linejoin="round" />
<polyline points="1085.1,1837.8 1085.1,1868.5 1120.2,1868.5" fill="none" stroke="#000" stroke-width="2.7" stroke-linejoin="miter" />
<text x="1092.5" y="1858.3" text-anchor="start" fill="#1E1A1B" style="font-size:17px;font-weight:bold;letter-spacing:1px"  stroke="#1E1A1B" stroke-width="0.45">40 pA</text>
<text x="1088.5" y="1894.7" text-anchor="start" fill="#1E1A1B" style="font-size:17px;font-weight:bold;letter-spacing:1px"  stroke="#1E1A1B" stroke-width="0.45">10 ms</text>
<text x="12" y="2007.5" text-anchor="start" fill="#2A2425" style="font-size:35px;font-weight:bold" stroke="#2A2425" stroke-width="0.7">j</text>
<line x1="85.5" y1="2047.5" x2="85.5" y2="2389.3" stroke="#000" stroke-width="3" stroke-linecap="butt"/>
<line x1="71" y1="2049" x2="85.5" y2="2049" stroke="#000" stroke-width="3" stroke-linecap="butt"/>
<line x1="71" y1="2133.7" x2="85.5" y2="2133.7" stroke="#000" stroke-width="3" stroke-linecap="butt"/>
<line x1="71" y1="2218.4" x2="85.5" y2="2218.4" stroke="#000" stroke-width="3" stroke-linecap="butt"/>
<line x1="71" y1="2303.1" x2="85.5" y2="2303.1" stroke="#000" stroke-width="3" stroke-linecap="butt"/>
<line x1="71" y1="2387.8" x2="85.5" y2="2387.8" stroke="#000" stroke-width="3" stroke-linecap="butt"/>
<text x="67.6" y="2058.91" text-anchor="end" fill="#1E1A1B" style="font-size:23px;font-weight:bold;letter-spacing:1.6px"  stroke="#1E1A1B" stroke-width="0.45">2.0</text>
<text x="67.6" y="2143.61" text-anchor="end" fill="#1E1A1B" style="font-size:23px;font-weight:bold;letter-spacing:1.6px"  stroke="#1E1A1B" stroke-width="0.45">1.5</text>
<text x="67.6" y="2228.31" text-anchor="end" fill="#1E1A1B" style="font-size:23px;font-weight:bold;letter-spacing:1.6px"  stroke="#1E1A1B" stroke-width="0.45">1.0</text>
<text x="67.6" y="2313.01" text-anchor="end" fill="#1E1A1B" style="font-size:23px;font-weight:bold;letter-spacing:1.6px"  stroke="#1E1A1B" stroke-width="0.45">0.5</text>
<text x="67.6" y="2397.71" text-anchor="end" fill="#1E1A1B" style="font-size:23px;font-weight:bold;letter-spacing:1.6px"  stroke="#1E1A1B" stroke-width="0.45">0.0</text>
<rect x="109.9" y="2213.3" width="41.1" height="174.5" fill="#F33F43" stroke="#000" stroke-width="2.8"/>
<rect x="177.6" y="2152.8" width="41.1" height="235" fill="#52A8B3" stroke="#000" stroke-width="2.8"/>
<rect x="245.2" y="2226.6" width="42.4" height="161.2" fill="#F6308F" stroke="#000" stroke-width="2.8"/>
<line x1="71" y1="2387.8" x2="312.6" y2="2387.8" stroke="#000" stroke-width="3" stroke-linecap="butt"/>
<line x1="130.3" y1="2387.8" x2="130.3" y2="2401.8" stroke="#000" stroke-width="3" stroke-linecap="butt"/>
<line x1="198" y1="2387.8" x2="198" y2="2401.8" stroke="#000" stroke-width="3" stroke-linecap="butt"/>
<line x1="265.6" y1="2387.8" x2="265.6" y2="2401.8" stroke="#000" stroke-width="3" stroke-linecap="butt"/>
<line x1="130.3" y1="2203.6" x2="130.3" y2="2219.6" stroke="#000" stroke-width="1.8" stroke-linecap="butt"/>
<line x1="119.3" y1="2203.6" x2="141.3" y2="2203.6" stroke="#000" stroke-width="2.1" stroke-linecap="butt"/>
<line x1="119.3" y1="2219.6" x2="141.3" y2="2219.6" stroke="#000" stroke-width="2.1" stroke-linecap="butt"/>
<line x1="198" y1="2132.8" x2="198" y2="2167.7" stroke="#000" stroke-width="1.8" stroke-linecap="butt"/>
<line x1="187" y1="2132.8" x2="209" y2="2132.8" stroke="#000" stroke-width="2.1" stroke-linecap="butt"/>
<line x1="187" y1="2167.7" x2="209" y2="2167.7" stroke="#000" stroke-width="2.1" stroke-linecap="butt"/>
<line x1="265.6" y1="2216.3" x2="265.6" y2="2232.3" stroke="#000" stroke-width="1.8" stroke-linecap="butt"/>
<line x1="254.6" y1="2216.3" x2="276.6" y2="2216.3" stroke="#000" stroke-width="2.1" stroke-linecap="butt"/>
<line x1="254.6" y1="2232.3" x2="276.6" y2="2232.3" stroke="#000" stroke-width="2.1" stroke-linecap="butt"/>
<circle cx="130.3" cy="2169.3" r="5.6" fill="none" stroke="#000" stroke-width="1.6"/>
<circle cx="130.3" cy="2194.6" r="5.6" fill="none" stroke="#000" stroke-width="1.6"/>
<circle cx="112.3" cy="2206.3" r="5.6" fill="none" stroke="#000" stroke-width="1.6"/>
<circle cx="147.6" cy="2207.6" r="5.6" fill="none" stroke="#000" stroke-width="1.6"/>
<circle cx="130.3" cy="2214.5" r="5.6" fill="none" stroke="#000" stroke-width="1.6"/>
<circle cx="130.3" cy="2227.2" r="5.6" fill="none" stroke="#000" stroke-width="1.6"/>
<circle cx="112.3" cy="2236.2" r="5.6" fill="none" stroke="#000" stroke-width="1.6"/>
<circle cx="147.6" cy="2235.7" r="5.6" fill="none" stroke="#000" stroke-width="1.6"/>
<circle cx="180" cy="2099.6" r="5.6" fill="none" stroke="#000" stroke-width="1.6"/>
<circle cx="198" cy="2103.4" r="5.6" fill="none" stroke="#000" stroke-width="1.6"/>
<circle cx="215.7" cy="2101.4" r="5.6" fill="none" stroke="#000" stroke-width="1.6"/>
<circle cx="180" cy="2174.9" r="5.6" fill="none" stroke="#000" stroke-width="1.6"/>
<circle cx="215.7" cy="2182" r="5.6" fill="none" stroke="#000" stroke-width="1.6"/>
<circle cx="198" cy="2188.2" r="5.6" fill="none" stroke="#000" stroke-width="1.6"/>
<circle cx="198" cy="2203" r="5.6" fill="none" stroke="#000" stroke-width="1.6"/>
<circle cx="256.1" cy="2198.4" r="5.6" fill="none" stroke="#000" stroke-width="1.6"/>
<circle cx="275.7" cy="2205.5" r="5.6" fill="none" stroke="#000" stroke-width="1.6"/>
<circle cx="256.1" cy="2214" r="5.6" fill="none" stroke="#000" stroke-width="1.6"/>
<circle cx="275.7" cy="2218.3" r="5.6" fill="none" stroke="#000" stroke-width="1.6"/>
<circle cx="256.1" cy="2233.6" r="5.6" fill="none" stroke="#000" stroke-width="1.6"/>
<circle cx="275.7" cy="2242" r="5.6" fill="none" stroke="#000" stroke-width="1.6"/>
<circle cx="265.6" cy="2257.9" r="5.6" fill="none" stroke="#000" stroke-width="1.6"/>
<line x1="74.2" y1="2384.8" x2="74.2" y2="2390.8" stroke="#000" stroke-width="1.3" stroke-linecap="butt"/>
<line x1="84.4" y1="2384.8" x2="84.4" y2="2390.8" stroke="#000" stroke-width="1.3" stroke-linecap="butt"/>
<line x1="94.6" y1="2384.8" x2="94.6" y2="2390.8" stroke="#000" stroke-width="1.3" stroke-linecap="butt"/>
<line x1="104.8" y1="2384.8" x2="104.8" y2="2390.8" stroke="#000" stroke-width="1.3" stroke-linecap="butt"/>
<line x1="115" y1="2384.8" x2="115" y2="2390.8" stroke="#000" stroke-width="1.3" stroke-linecap="butt"/>
<line x1="125.2" y1="2384.8" x2="125.2" y2="2390.8" stroke="#000" stroke-width="1.3" stroke-linecap="butt"/>
<line x1="135.4" y1="2384.8" x2="135.4" y2="2390.8" stroke="#000" stroke-width="1.3" stroke-linecap="butt"/>
<line x1="145.6" y1="2384.8" x2="145.6" y2="2390.8" stroke="#000" stroke-width="1.3" stroke-linecap="butt"/>
<line x1="155.8" y1="2384.8" x2="155.8" y2="2390.8" stroke="#000" stroke-width="1.3" stroke-linecap="butt"/>
<line x1="166" y1="2384.8" x2="166" y2="2390.8" stroke="#000" stroke-width="1.3" stroke-linecap="butt"/>
<line x1="176.2" y1="2384.8" x2="176.2" y2="2390.8" stroke="#000" stroke-width="1.3" stroke-linecap="butt"/>
<line x1="186.4" y1="2384.8" x2="186.4" y2="2390.8" stroke="#000" stroke-width="1.3" stroke-linecap="butt"/>
<line x1="196.6" y1="2384.8" x2="196.6" y2="2390.8" stroke="#000" stroke-width="1.3" stroke-linecap="butt"/>
<line x1="206.8" y1="2384.8" x2="206.8" y2="2390.8" stroke="#000" stroke-width="1.3" stroke-linecap="butt"/>
<line x1="217" y1="2384.8" x2="217" y2="2390.8" stroke="#000" stroke-width="1.3" stroke-linecap="butt"/>
<line x1="227.2" y1="2384.8" x2="227.2" y2="2390.8" stroke="#000" stroke-width="1.3" stroke-linecap="butt"/>
<line x1="237.4" y1="2384.8" x2="237.4" y2="2390.8" stroke="#000" stroke-width="1.3" stroke-linecap="butt"/>
<line x1="247.6" y1="2384.8" x2="247.6" y2="2390.8" stroke="#000" stroke-width="1.3" stroke-linecap="butt"/>
<line x1="257.8" y1="2384.8" x2="257.8" y2="2390.8" stroke="#000" stroke-width="1.3" stroke-linecap="butt"/>
<line x1="268" y1="2384.8" x2="268" y2="2390.8" stroke="#000" stroke-width="1.3" stroke-linecap="butt"/>
<line x1="278.2" y1="2384.8" x2="278.2" y2="2390.8" stroke="#000" stroke-width="1.3" stroke-linecap="butt"/>
<line x1="288.4" y1="2384.8" x2="288.4" y2="2390.8" stroke="#000" stroke-width="1.3" stroke-linecap="butt"/>
<line x1="298.6" y1="2384.8" x2="298.6" y2="2390.8" stroke="#000" stroke-width="1.3" stroke-linecap="butt"/>
<line x1="130.7" y1="1987.2" x2="265.5" y2="1987.2" stroke="#000" stroke-width="2.7" stroke-linecap="butt"/>
<line x1="130.7" y1="2058.7" x2="197.9" y2="2058.7" stroke="#000" stroke-width="2.7" stroke-linecap="butt"/>
<text x="195.9" y="1971.8" text-anchor="middle" fill="#1E1A1B" style="font-size:25px;font-weight:normal;letter-spacing:0.5px" >ns</text>
<path d="M156,2027.7L156,2043.7M149.07,2031.7L162.93,2039.7M149.07,2039.7L162.93,2031.7" stroke="#000" stroke-width="3.2" fill="none"/>
<path d="M181.5,2027.7L181.5,2043.7M174.57,2031.7L188.43,2039.7M174.57,2039.7L188.43,2031.7" stroke="#000" stroke-width="3.2" fill="none"/>
<text x="0" y="0" transform="translate(143.37,2424.25) rotate(-45)" text-anchor="end" fill="#1E1A1B" style="font-size:23.9px;font-weight:bold;letter-spacing:3px"  stroke="#1E1A1B" stroke-width="0.45">CCI</text>
<text x="0" y="0" transform="translate(213.31,2426.01) rotate(-45)" text-anchor="end" fill="#1E1A1B" style="font-size:23.9px;font-weight:bold;letter-spacing:1.4px"  stroke="#1E1A1B" stroke-width="0.45">iβ<tspan dx="-3"> </tspan>ARK</text>
<text x="0" y="0" transform="translate(282.71,2422.81) rotate(-45)" text-anchor="end" fill="#1E1A1B" style="font-size:23.9px;font-weight:bold;letter-spacing:1.37px"  stroke="#1E1A1B" stroke-width="0.45">mCherry</text>
<text x="0" y="0" transform="translate(24.3,2212) rotate(-90)" text-anchor="middle" fill="#1E1A1B" style="font-size:24.5px;font-weight:bold;letter-spacing:1.5px"  stroke="#1E1A1B" stroke-width="0.45">PPR</text>
<text x="350" y="2012.6" text-anchor="start" fill="#2A2425" style="font-size:35px;font-weight:bold" stroke="#2A2425" stroke-width="0.7">k</text>
<line x1="445.9" y1="2022.7" x2="445.9" y2="2387.5" stroke="#000" stroke-width="3" stroke-linecap="butt"/>
<line x1="431.4" y1="2024.2" x2="445.9" y2="2024.2" stroke="#000" stroke-width="3" stroke-linecap="butt"/>
<line x1="431.4" y1="2144.8" x2="445.9" y2="2144.8" stroke="#000" stroke-width="3" stroke-linecap="butt"/>
<line x1="431.4" y1="2265.4" x2="445.9" y2="2265.4" stroke="#000" stroke-width="3" stroke-linecap="butt"/>
<line x1="431.4" y1="2386" x2="445.9" y2="2386" stroke="#000" stroke-width="3" stroke-linecap="butt"/>
<text x="425.4" y="2034.11" text-anchor="end" fill="#1E1A1B" style="font-size:23px;font-weight:bold;letter-spacing:1.6px"  stroke="#1E1A1B" stroke-width="0.45">15</text>
<text x="425.4" y="2154.71" text-anchor="end" fill="#1E1A1B" style="font-size:23px;font-weight:bold;letter-spacing:1.6px"  stroke="#1E1A1B" stroke-width="0.45">10</text>
<text x="425.4" y="2275.31" text-anchor="end" fill="#1E1A1B" style="font-size:23px;font-weight:bold;letter-spacing:1.6px"  stroke="#1E1A1B" stroke-width="0.45">5</text>
<text x="425.4" y="2395.91" text-anchor="end" fill="#1E1A1B" style="font-size:23px;font-weight:bold;letter-spacing:1.6px"  stroke="#1E1A1B" stroke-width="0.45">0</text>
<rect x="472.2" y="2179.8" width="43.8" height="206.2" fill="#F33F43" stroke="#000" stroke-width="2.8"/>
<rect x="544.6" y="2252.3" width="42.8" height="133.7" fill="#52A8B3" stroke="#000" stroke-width="2.8"/>
<rect x="616.4" y="2192.9" width="43.8" height="193.1" fill="#F6308F" stroke="#000" stroke-width="2.8"/>
<line x1="431.4" y1="2386" x2="688.3" y2="2386" stroke="#000" stroke-width="3" stroke-linecap="butt"/>
<line x1="493.6" y1="2386" x2="493.6" y2="2401" stroke="#000" stroke-width="3" stroke-linecap="butt"/>
<line x1="565.8" y1="2386" x2="565.8" y2="2401" stroke="#000" stroke-width="3" stroke-linecap="butt"/>
<line x1="638.2" y1="2386" x2="638.2" y2="2401" stroke="#000" stroke-width="3" stroke-linecap="butt"/>
<line x1="493.6" y1="2165.5" x2="493.6" y2="2188.8" stroke="#000" stroke-width="1.8" stroke-linecap="butt"/>
<line x1="481.6" y1="2165.5" x2="505.6" y2="2165.5" stroke="#000" stroke-width="2.1" stroke-linecap="butt"/>
<line x1="481.6" y1="2188.8" x2="505.6" y2="2188.8" stroke="#000" stroke-width="2.1" stroke-linecap="butt"/>
<line x1="565.8" y1="2241.4" x2="565.8" y2="2255.6" stroke="#000" stroke-width="1.8" stroke-linecap="butt"/>
<line x1="553.8" y1="2241.4" x2="577.8" y2="2241.4" stroke="#000" stroke-width="2.1" stroke-linecap="butt"/>
<line x1="553.8" y1="2255.6" x2="577.8" y2="2255.6" stroke="#000" stroke-width="2.1" stroke-linecap="butt"/>
<line x1="638.2" y1="2175.2" x2="638.2" y2="2205.2" stroke="#000" stroke-width="1.8" stroke-linecap="butt"/>
<line x1="626.2" y1="2175.2" x2="650.2" y2="2175.2" stroke="#000" stroke-width="2.1" stroke-linecap="butt"/>
<line x1="626.2" y1="2205.2" x2="650.2" y2="2205.2" stroke="#000" stroke-width="2.1" stroke-linecap="butt"/>
<circle cx="482.7" cy="2147.8" r="5.6" fill="none" stroke="#000" stroke-width="1.6"/>
<circle cx="504.1" cy="2154.1" r="5.6" fill="none" stroke="#000" stroke-width="1.6"/>
<circle cx="482.7" cy="2184" r="5.6" fill="none" stroke="#000" stroke-width="1.6"/>
<circle cx="504.1" cy="2188.1" r="5.6" fill="none" stroke="#000" stroke-width="1.6"/>
<circle cx="493.6" cy="2213.5" r="5.6" fill="none" stroke="#000" stroke-width="1.6"/>
<circle cx="555.1" cy="2232.9" r="5.6" fill="none" stroke="#000" stroke-width="1.6"/>
<circle cx="577.2" cy="2227.9" r="5.6" fill="none" stroke="#000" stroke-width="1.6"/>
<circle cx="577.2" cy="2243" r="5.6" fill="none" stroke="#000" stroke-width="1.6"/>
<circle cx="555.1" cy="2254.6" r="5.6" fill="none" stroke="#000" stroke-width="1.6"/>
<circle cx="577.2" cy="2255.6" r="5.6" fill="none" stroke="#000" stroke-width="1.6"/>
<circle cx="566" cy="2283.3" r="5.6" fill="none" stroke="#000" stroke-width="1.6"/>
<circle cx="638.2" cy="2123.3" r="5.6" fill="none" stroke="#000" stroke-width="1.6"/>
<circle cx="638.2" cy="2177.7" r="5.6" fill="none" stroke="#000" stroke-width="1.6"/>
<circle cx="627.6" cy="2203.8" r="5.6" fill="none" stroke="#000" stroke-width="1.6"/>
<circle cx="649.6" cy="2197.5" r="5.6" fill="none" stroke="#000" stroke-width="1.6"/>
<circle cx="649.6" cy="2214.3" r="5.6" fill="none" stroke="#000" stroke-width="1.6"/>
<circle cx="638.2" cy="2225.5" r="5.6" fill="none" stroke="#000" stroke-width="1.6"/>
<line x1="493.7" y1="2003.9" x2="638" y2="2003.9" stroke="#000" stroke-width="2.7" stroke-linecap="butt"/>
<line x1="493.7" y1="2080.1" x2="565.5" y2="2080.1" stroke="#000" stroke-width="2.7" stroke-linecap="butt"/>
<text x="562.7" y="1987.8" text-anchor="middle" fill="#1E1A1B" style="font-size:25px;font-weight:normal;letter-spacing:0.5px" >ns</text>
<path d="M518,2049L518,2064M511.5,2052.75L524.5,2060.25M511.5,2060.25L524.5,2052.75" stroke="#000" stroke-width="3" fill="none"/>
<path d="M541,2049L541,2064M534.5,2052.75L547.5,2060.25M534.5,2060.25L547.5,2052.75" stroke="#000" stroke-width="3" fill="none"/>
<text x="0" y="0" transform="translate(509.27,2423.05) rotate(-45)" text-anchor="end" fill="#1E1A1B" style="font-size:23.9px;font-weight:bold;letter-spacing:3px"  stroke="#1E1A1B" stroke-width="0.45">CCI</text>
<text x="0" y="0" transform="translate(583.31,2421.51) rotate(-45)" text-anchor="end" fill="#1E1A1B" style="font-size:23.9px;font-weight:bold;letter-spacing:1.4px"  stroke="#1E1A1B" stroke-width="0.45">iβ<tspan dx="-3"> </tspan>ARK</text>
<text x="0" y="0" transform="translate(659.81,2417.41) rotate(-45)" text-anchor="end" fill="#1E1A1B" style="font-size:23.9px;font-weight:bold;letter-spacing:1.37px"  stroke="#1E1A1B" stroke-width="0.45">mCherry</text>
<text x="0" y="0" transform="translate(378,2205) rotate(-90)" text-anchor="middle" fill="#1E1A1B" style="font-size:23.5px;font-weight:bold;letter-spacing:1px"  stroke="#1E1A1B" stroke-width="0.45">glutamate (µM)</text>
<text x="704.3" y="2011.6" text-anchor="start" fill="#2A2425" style="font-size:35px;font-weight:bold" stroke="#2A2425" stroke-width="0.7">l</text>
<line x1="838.4" y1="2084.9" x2="838.4" y2="2388.5" stroke="#000" stroke-width="3" stroke-linecap="butt"/>
<line x1="825.5" y1="2086.4" x2="838.4" y2="2086.4" stroke="#000" stroke-width="3" stroke-linecap="butt"/>
<line x1="825.5" y1="2186.6" x2="838.4" y2="2186.6" stroke="#000" stroke-width="3" stroke-linecap="butt"/>
<line x1="825.5" y1="2286.8" x2="838.4" y2="2286.8" stroke="#000" stroke-width="3" stroke-linecap="butt"/>
<line x1="825.5" y1="2387" x2="838.4" y2="2387" stroke="#000" stroke-width="3" stroke-linecap="butt"/>
<text x="823.4" y="2095.31" text-anchor="end" fill="#1E1A1B" style="font-size:23px;font-weight:bold;letter-spacing:1.6px"  stroke="#1E1A1B" stroke-width="0.45">3</text>
<text x="823.4" y="2195.51" text-anchor="end" fill="#1E1A1B" style="font-size:23px;font-weight:bold;letter-spacing:1.6px"  stroke="#1E1A1B" stroke-width="0.45">2</text>
<text x="823.4" y="2295.71" text-anchor="end" fill="#1E1A1B" style="font-size:23px;font-weight:bold;letter-spacing:1.6px"  stroke="#1E1A1B" stroke-width="0.45">1</text>
<text x="823.4" y="2395.91" text-anchor="end" fill="#1E1A1B" style="font-size:23px;font-weight:bold;letter-spacing:1.6px"  stroke="#1E1A1B" stroke-width="0.45">0</text>
<line x1="825.5" y1="2387" x2="1139.3" y2="2387" stroke="#000" stroke-width="3" stroke-linecap="butt"/>
<line x1="923.6" y1="2387" x2="923.6" y2="2399.5" stroke="#000" stroke-width="3" stroke-linecap="butt"/>
<line x1="1051.7" y1="2387" x2="1051.7" y2="2399.5" stroke="#000" stroke-width="3" stroke-linecap="butt"/>
<text x="923.3" y="2426" text-anchor="middle" fill="#1E1A1B" style="font-size:23px;font-weight:bold"  stroke="#1E1A1B" stroke-width="0.45">0</text>
<text x="1053.5" y="2426" text-anchor="middle" fill="#1E1A1B" style="font-size:23px;font-weight:bold;letter-spacing:1.2px"  stroke="#1E1A1B" stroke-width="0.45">14</text>
<text x="985.5" y="2456.7" text-anchor="middle" fill="#2A2425" style="font-size:24px;font-weight:bold;letter-spacing:1px"  stroke="#2A2425" stroke-width="0.45">Day</text>
<text x="0" y="0" transform="translate(770,2229.5) rotate(-90)" text-anchor="middle" fill="#1E1A1B" style="font-size:24px;font-weight:bold;letter-spacing:0.9px"  stroke="#1E1A1B" stroke-width="0.45">Mechanical withdrawal threshold (g)</text>
<circle cx="863" cy="2186" r="4.6" fill="none" stroke="#E8484E" stroke-width="1.4"/>
<circle cx="863" cy="2199.8" r="4.6" fill="none" stroke="#E8484E" stroke-width="1.4"/>
<circle cx="863" cy="2209.5" r="4.6" fill="none" stroke="#E8484E" stroke-width="1.4"/>
<circle cx="863" cy="2239.1" r="4.6" fill="none" stroke="#E8484E" stroke-width="1.4"/>
<circle cx="863" cy="2259.3" r="4.6" fill="none" stroke="#E8484E" stroke-width="1.4"/>
<circle cx="863" cy="2286.1" r="4.6" fill="none" stroke="#E8484E" stroke-width="1.4"/>
<circle cx="881.9" cy="2239.1" r="4.6" fill="none" stroke="#4AA8B4" stroke-width="1.4"/>
<circle cx="892.6" cy="2239.1" r="4.6" fill="none" stroke="#4AA8B4" stroke-width="1.4"/>
<circle cx="881.9" cy="2252.5" r="4.6" fill="none" stroke="#4AA8B4" stroke-width="1.4"/>
<circle cx="892.6" cy="2252.5" r="4.6" fill="none" stroke="#4AA8B4" stroke-width="1.4"/>
<circle cx="887.6" cy="2272.7" r="4.6" fill="none" stroke="#4AA8B4" stroke-width="1.4"/>
<circle cx="887.6" cy="2286.1" r="4.6" fill="none" stroke="#4AA8B4" stroke-width="1.4"/>
<circle cx="887.6" cy="2299.6" r="4.6" fill="none" stroke="#4AA8B4" stroke-width="1.4"/>
<circle cx="887.6" cy="2153.4" r="4.6" fill="none" stroke="#4AA8B4" stroke-width="1.4"/>
<circle cx="904.4" cy="2252.5" r="4.6" fill="none" stroke="#E0309A" stroke-width="1.4"/>
<circle cx="913.8" cy="2252.5" r="4.6" fill="none" stroke="#E0309A" stroke-width="1.4"/>
<circle cx="909.4" cy="2205.5" r="4.6" fill="none" stroke="#E0309A" stroke-width="1.4"/>
<circle cx="909.4" cy="2269.3" r="4.6" fill="none" stroke="#E0309A" stroke-width="1.4"/>
<circle cx="909.4" cy="2299.6" r="4.6" fill="none" stroke="#E0309A" stroke-width="1.4"/>
<circle cx="909.6" cy="2139.1" r="4.6" fill="none" stroke="#E0309A" stroke-width="1.4"/>
<circle cx="1069.8" cy="2286.1" r="4.6" fill="none" stroke="#E8484E" stroke-width="1.4"/>
<circle cx="1069.8" cy="2313" r="4.6" fill="none" stroke="#E8484E" stroke-width="1.4"/>
<circle cx="1069.8" cy="2333.2" r="4.6" fill="none" stroke="#E8484E" stroke-width="1.4"/>
<circle cx="1069.8" cy="2367.8" r="4.6" fill="none" stroke="#E8484E" stroke-width="1.4"/>
<circle cx="1065" cy="2325.8" r="4.6" fill="none" stroke="#E8484E" stroke-width="1.4"/>
<circle cx="1075.8" cy="2325.8" r="4.6" fill="none" stroke="#E8484E" stroke-width="1.4"/>
<circle cx="1092" cy="2219.6" r="4.6" fill="none" stroke="#4AA8B4" stroke-width="1.4"/>
<circle cx="1092" cy="2245.8" r="4.6" fill="none" stroke="#4AA8B4" stroke-width="1.4"/>
<circle cx="1092" cy="2286.1" r="4.6" fill="none" stroke="#4AA8B4" stroke-width="1.4"/>
<circle cx="1092" cy="2305.3" r="4.6" fill="none" stroke="#4AA8B4" stroke-width="1.4"/>
<circle cx="1092" cy="2313" r="4.6" fill="none" stroke="#4AA8B4" stroke-width="1.4"/>
<circle cx="1086.6" cy="2186" r="4.6" fill="none" stroke="#4AA8B4" stroke-width="1.4"/>
<circle cx="1095" cy="2186" r="4.6" fill="none" stroke="#4AA8B4" stroke-width="1.4"/>
<circle cx="1091.6" cy="2118.9" r="4.6" fill="none" stroke="#4AA8B4" stroke-width="1.4"/>
<circle cx="1117.2" cy="2325.8" r="4.6" fill="none" stroke="#E0309A" stroke-width="1.4"/>
<circle cx="1117.2" cy="2333.2" r="4.6" fill="none" stroke="#E0309A" stroke-width="1.4"/>
<circle cx="1117.2" cy="2345.6" r="4.6" fill="none" stroke="#E0309A" stroke-width="1.4"/>
<circle cx="1117.2" cy="2355" r="4.6" fill="none" stroke="#E0309A" stroke-width="1.4"/>
<circle cx="1112.1" cy="2299.6" r="4.6" fill="none" stroke="#E0309A" stroke-width="1.4"/>
<circle cx="1122.2" cy="2299.6" r="4.6" fill="none" stroke="#E0309A" stroke-width="1.4"/>
<line x1="923.9" y1="2214.5" x2="923.9" y2="2266" stroke="#000" stroke-width="1.6" stroke-linecap="butt"/>
<line x1="917.9" y1="2214.5" x2="929.9" y2="2214.5" stroke="#000" stroke-width="1.9" stroke-linecap="butt"/>
<line x1="917.9" y1="2266" x2="929.9" y2="2266" stroke="#000" stroke-width="1.9" stroke-linecap="butt"/>
<line x1="1051.6" y1="2209.8" x2="1051.6" y2="2257.6" stroke="#000" stroke-width="1.6" stroke-linecap="butt"/>
<line x1="1045.6" y1="2209.8" x2="1057.6" y2="2209.8" stroke="#000" stroke-width="1.9" stroke-linecap="butt"/>
<line x1="1045.6" y1="2257.6" x2="1057.6" y2="2257.6" stroke="#000" stroke-width="1.9" stroke-linecap="butt"/>
<line x1="1051.6" y1="2315.7" x2="1051.6" y2="2336.6" stroke="#000" stroke-width="1.6" stroke-linecap="butt"/>
<line x1="1045.6" y1="2315.7" x2="1057.6" y2="2315.7" stroke="#000" stroke-width="1.9" stroke-linecap="butt"/>
<line x1="1045.6" y1="2336.6" x2="1057.6" y2="2336.6" stroke="#000" stroke-width="1.9" stroke-linecap="butt"/>
<line x1="923.9" y1="2230" x2="1051.6" y2="2325.8" stroke="#000" stroke-width="1.6" stroke-linecap="butt"/>
<line x1="923.9" y1="2238.1" x2="1051.6" y2="2327.5" stroke="#000" stroke-width="1.6" stroke-linecap="butt"/>
<line x1="923.9" y1="2250.2" x2="1051.6" y2="2233.4" stroke="#000" stroke-width="1.6" stroke-linecap="butt"/>
<circle cx="923.9" cy="2238.1" r="6.3" fill="#F6308F" stroke="none" stroke-width="0"/>
<circle cx="923.9" cy="2250.2" r="6.3" fill="#52A8B3" stroke="none" stroke-width="0"/>
<circle cx="923.9" cy="2230" r="6.3" fill="#F33F43" stroke="none" stroke-width="0"/>
<circle cx="1051.6" cy="2233.4" r="6.3" fill="#52A8B3" stroke="none" stroke-width="0"/>
<circle cx="1051.6" cy="2327.5" r="6.3" fill="#F6308F" stroke="none" stroke-width="0"/>
<circle cx="1051.6" cy="2325.8" r="6.3" fill="#F33F43" stroke="none" stroke-width="0"/>
<circle cx="870.8" cy="2001.3" r="6.3" fill="#F33F43" stroke="none" stroke-width="0"/>
<text x="901.5" y="2009.5" text-anchor="start" fill="#2A2425" style="font-size:24px;font-weight:bold;letter-spacing:1.2px"  stroke="#2A2425" stroke-width="0.45">CCI</text>
<circle cx="870.8" cy="2035.5" r="6.3" fill="#52A8B3" stroke="none" stroke-width="0"/>
<text x="901.5" y="2043.7" text-anchor="start" fill="#2A2425" style="font-size:24px;font-weight:bold;letter-spacing:1.2px"  stroke="#2A2425" stroke-width="0.45">iβ<tspan dx="-5"> </tspan>ARK</text>
<circle cx="870.8" cy="2069.4" r="6.3" fill="#F6308F" stroke="none" stroke-width="0"/>
<text x="901.5" y="2077.6" text-anchor="start" fill="#2A2425" style="font-size:24px;font-weight:bold;letter-spacing:1.2px"  stroke="#2A2425" stroke-width="0.45">mCherry</text>
<polyline points="1128.4,2226.9 1143.1,2226.9 1143.1,2321.2 1128.4,2321.2" fill="none" stroke="#000" stroke-width="2.5" stroke-linejoin="miter" />
<polyline points="1128.4,2325.8 1143.1,2325.8 1143.1,2336.7 1128.4,2336.7" fill="none" stroke="#000" stroke-width="2.5" stroke-linejoin="miter" />
<path d="M1163.7,2254.9L1163.7,2270.1M1157.12,2258.7L1170.28,2266.3M1157.12,2266.3L1170.28,2258.7" stroke="#000" stroke-width="3.1" fill="none"/>
<path d="M1163.7,2275.4L1163.7,2290.6M1157.12,2279.2L1170.28,2286.8M1157.12,2286.8L1170.28,2279.2" stroke="#000" stroke-width="3.1" fill="none"/>
<text x="0" y="0" transform="translate(1151.8,2331.6) rotate(90)" text-anchor="middle" fill="#1E1A1B" style="font-size:24.5px;font-weight:normal;letter-spacing:0.5px" >ns</text>
</svg></body></html>
